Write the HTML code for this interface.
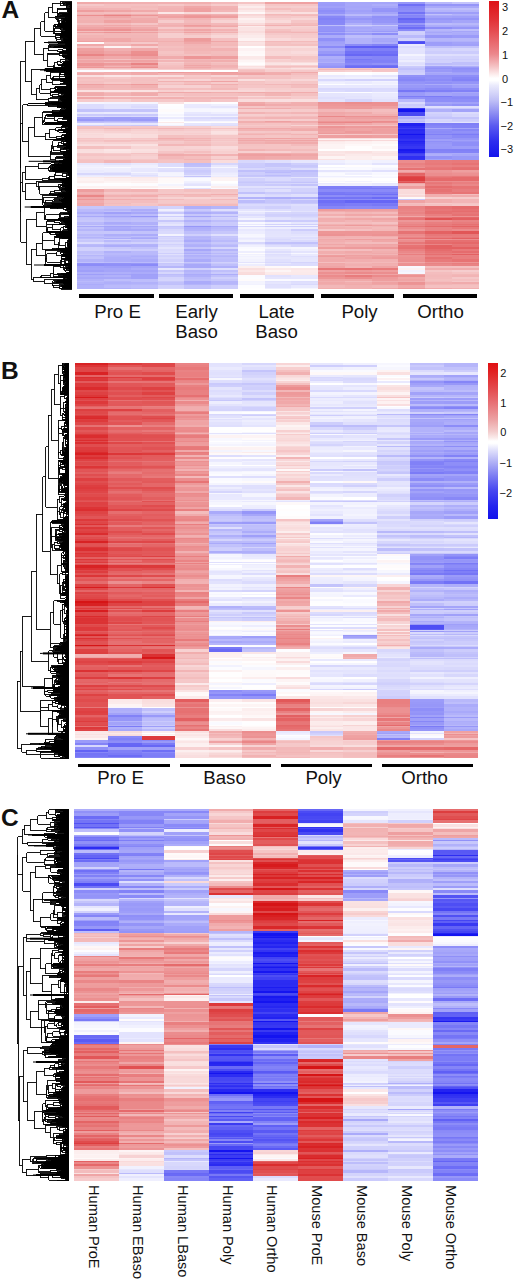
<!DOCTYPE html>
<html><head><meta charset="utf-8"><style>
*{margin:0;padding:0;box-sizing:border-box}
html,body{width:515px;height:1280px;background:#fff;overflow:hidden}
body{position:relative;font-family:"Liberation Sans",sans-serif;color:#111}
.hc{position:absolute}
.t{position:absolute;white-space:nowrap;line-height:1}
.pl{position:absolute;font-weight:bold;font-size:24.5px;line-height:1}
.bar{position:absolute;background:#000}
.lg{position:absolute;font-size:11px;line-height:1}
.vl{position:absolute;writing-mode:vertical-rl;font-size:14.6px;line-height:1;white-space:nowrap}
svg{position:absolute;left:0;top:0}
</style></head><body>
<div class="hc" style="left:77.40px;top:1.7px;width:27.05px;height:287.5px;background:linear-gradient(#f0aaaa 0px 2px,#f5c8c9 2px 4px,#f4bdbe 4px 6px,#f2b3b4 6px 8px,#ee9d9e 8px 10px,#f3bbbb 10px 12px,#f2b3b3 12px 13px,#eb8e8f 13px 14px,#f1b1b2 14px 16px,#f2b3b3 16px 18px,#f1b1b1 18px 21px,#f4c0c1 21px 23px,#f1acad 23px 24px,#f1adae 24px 25px,#efa5a6 25px 27px,#ed9697 27px 29px,#f4bebe 29px 30px,#ee9c9d 30px 31px,#f3bcbc 31px 33px,#f2b4b4 33px 36px,#f1adae 36px 39px,#eea0a1 39px 40px,#fefafa 40px 42px,#f0a8a9 42px 44px,#f5c3c4 44px 46px,#efa1a1 46px 49px,#ed9b9b 49px 52px,#e98485 52px 54px,#efa3a3 54px 57px,#f2b4b5 57px 58px,#efa5a6 58px 60px,#f0acad 60px 61px,#ed9596 61px 64px,#efa3a4 64px 65px,#ed9797 65px 66px,#f6cccc 66px 67px,#f8d5d5 67px 68px,#fbfbff 68px 70px,#f2b3b4 70px 71px,#f0aaab 71px 73px,#f9dfe0 73px 75px,#f4bfc0 75px 77px,#f5c4c4 77px 79px,#f4bfc0 79px 80px,#f4c1c2 80px 82px,#eea0a1 82px 83px,#f1b0b1 83px 86px,#f3b9ba 86px 88px,#fae1e1 88px 90px,#f1aeaf 90px 91px,#f0aaab 91px 94px,#f7d0d0 94px 95px,#f0a7a8 95px 97px,#f6cacb 97px 100px,#f5f5fe 100px 102px,#dcdcfd 102px 106px,#dbdbfd 106px 107px,#c2c2fb 107px 110px,#e7e7fd 110px 112px,#cacafc 112px 114px,#dcdcfd 114px 115px,#a3a3f9 115px 117px,#9797f8 117px 119px,#b6b6fa 119px 120px,#c2c2fb 120px 121px,#ededfe 121px 123px,#d2d2fc 123px 124px,#f4c0c0 124px 126px,#f3bdbd 126px 127px,#f7cfcf 127px 129px,#f8d6d6 129px 131px,#f9dddd 131px 132px,#f8d9d9 132px 133px,#f9dbdc 133px 136px,#f5c4c5 136px 137px,#f6cbcb 137px 138px,#f5c4c5 138px 139px,#f6c9ca 139px 140px,#f7d3d3 140px 142px,#f9ddde 142px 144px,#f4c0c0 144px 147px,#f9dede 147px 149px,#f9dfdf 149px 151px,#f5c8c9 151px 152px,#f5c3c4 152px 154px,#f6cccc 154px 157px,#f5c3c4 157px 158px,#f4c1c1 158px 161px,#e8e8fe 161px 163px,#efeffe 163px 165px,#f3f3fe 165px 166px,#efeffe 166px 168px,#eaeafe 168px 170px,#ebebfe 170px 171px,#d7d7fc 171px 173px,#e9e9fe 173px 174px,#eeeefe 174px 175px,#fbebeb 175px 176px,#fdf3f3 176px 179px,#fcefef 179px 181px,#fefbfb 181px 182px,#fdfdff 182px 184px,#fdf2f2 184px 186px,#fef9f9 186px 187px,#ee9e9f 187px 190px,#f1afb0 190px 192px,#f0a7a8 192px 193px,#ea8788 193px 195px,#f0aaab 195px 197px,#ed9899 197px 198px,#f1adae 198px 201px,#f0a6a7 201px 202px,#f0a8a9 202px 204px,#c6c6fb 204px 207px,#babafb 207px 209px,#b9b9fb 209px 210px,#acacfa 210px 212px,#bdbdfb 212px 214px,#a8a8f9 214px 215px,#c2c2fb 215px 216px,#c5c5fb 216px 218px,#c8c8fb 218px 220px,#b9b9fb 220px 222px,#b6b6fa 222px 223px,#cbcbfc 223px 224px,#a8a8f9 224px 225px,#c1c1fb 225px 227px,#b6b6fa 227px 229px,#c6c6fb 229px 232px,#b9b9fb 232px 234px,#c0c0fb 234px 235px,#b4b4fa 235px 236px,#bcbcfb 236px 237px,#ccccfc 237px 238px,#c7c7fb 238px 240px,#dbdbfd 240px 242px,#bbbbfb 242px 243px,#b7b7fa 243px 245px,#d0d0fc 245px 247px,#d1d1fc 247px 249px,#c0c0fb 249px 251px,#c1c1fb 251px 252px,#c7c7fb 252px 253px,#b6b6fa 253px 254px,#bebefb 254px 255px,#c1c1fb 255px 257px,#b3b3fa 257px 260px,#c1c1fb 260px 261px,#9292f8 261px 262px,#8c8cf8 262px 264px,#a2a2f9 264px 266px,#a5a5f9 266px 268px,#9f9ff9 268px 270px,#afaffa 270px 272px,#9e9ef9 272px 273px,#aeaefa 273px 275px,#a8a8f9 275px 277px,#b2b2fa 277px 279px,#babafb 279px 280px,#b3b3fa 280px 282px,#ababfa 282px 283px,#b1b1fa 283px 287px,#afaffa 287px 287.5px)"></div>
<div class="hc" style="left:104.15px;top:1.7px;width:27.05px;height:287.5px;background:linear-gradient(#f1adae 0px 2px,#f4c0c1 2px 4px,#f4bfbf 4px 6px,#f2b4b5 6px 8px,#efa4a5 8px 10px,#f4bfc0 10px 12px,#efa4a5 12px 13px,#e98384 13px 14px,#efa6a7 14px 16px,#f1b1b2 16px 18px,#efa2a2 18px 21px,#f3bbbc 21px 23px,#f0a7a8 23px 24px,#f2b3b4 24px 25px,#efa1a2 25px 27px,#ec9192 27px 29px,#f3b9b9 29px 30px,#ec9495 30px 31px,#f2b7b8 31px 33px,#f2b7b7 33px 36px,#f0a8a8 36px 39px,#f0a7a8 39px 40px,#f4c3c3 40px 42px,#f2b5b6 42px 44px,#fdf4f4 44px 46px,#f1afb0 46px 49px,#efa5a6 49px 52px,#ed9596 52px 54px,#f0a9aa 54px 57px,#f4c1c2 57px 58px,#efa3a4 58px 60px,#f3b9ba 60px 61px,#ed9a9b 61px 63px,#efa4a5 63px 64px,#f2b3b4 64px 65px,#ee9e9f 65px 66px,#f4bfc0 66px 67px,#f8d4d4 67px 68px,#fdfdff 68px 70px,#f1acad 70px 71px,#f1b0b1 71px 73px,#fbe5e6 73px 75px,#f5c8c8 75px 77px,#f4c2c2 77px 80px,#f6c9c9 80px 82px,#f0a7a7 82px 83px,#f2b7b7 83px 86px,#f3b9b9 86px 88px,#fae3e4 88px 90px,#f4bdbe 90px 91px,#f2b2b3 91px 94px,#f8d8d8 94px 95px,#f2b3b4 95px 97px,#f7cfcf 97px 100px,#f2f2fe 100px 102px,#e3e3fd 102px 104px,#e4e4fd 104px 107px,#c4c4fb 107px 110px,#eaeafe 110px 112px,#c7c7fb 112px 114px,#d9d9fd 114px 115px,#9e9ef9 115px 119px,#b7b7fa 119px 120px,#c9c9fc 120px 121px,#e6e6fd 121px 123px,#ccccfc 123px 124px,#f5c6c7 124px 126px,#f2b3b4 126px 127px,#f6c9c9 127px 129px,#f7d2d2 129px 131px,#f9dbdc 131px 132px,#fae0e0 132px 133px,#f9dfdf 133px 136px,#f6c9c9 136px 137px,#f7cfcf 137px 138px,#f4bebe 138px 139px,#f4c1c2 139px 140px,#f7d1d1 140px 142px,#f9dedf 142px 144px,#f5c5c6 144px 147px,#fbe6e6 147px 149px,#fae3e3 149px 151px,#f6cdcd 151px 152px,#f5c4c5 152px 154px,#f6cece 154px 157px,#f5c7c7 157px 158px,#f2b5b6 158px 161px,#e1e1fd 161px 163px,#ededfe 163px 165px,#f9f9ff 165px 166px,#eeeefe 166px 168px,#ededfe 168px 170px,#e4e4fd 170px 171px,#d8d8fc 171px 173px,#e5e5fd 173px 174px,#f0f0fe 174px 175px,#fae4e4 175px 176px,#fcefef 176px 179px,#fdf4f4 179px 180px,#fdf5f5 180px 181px,#fffefe 181px 182px,#fdfdff 182px 184px,#fdf2f2 184px 186px,#fcf0f0 186px 187px,#f2b5b6 187px 190px,#f5c7c8 190px 192px,#f4bebf 192px 193px,#f1b0b1 193px 195px,#f4c1c1 195px 197px,#f1acad 197px 198px,#f4bfbf 198px 201px,#f3babb 201px 202px,#f4c1c1 202px 204px,#c2c2fb 204px 207px,#b5b5fa 207px 209px,#c0c0fb 209px 210px,#a0a0f9 210px 212px,#b5b5fa 212px 214px,#a3a3f9 214px 215px,#b5b5fa 215px 216px,#bcbcfb 216px 218px,#bfbffb 218px 220px,#aaaafa 220px 222px,#b0b0fa 222px 223px,#c0c0fb 223px 224px,#a3a3f9 224px 225px,#acacfa 225px 227px,#a7a7f9 227px 229px,#c7c7fb 229px 232px,#aeaefa 232px 234px,#b7b7fa 234px 235px,#bcbcfb 235px 236px,#acacfa 236px 237px,#d1d1fc 237px 238px,#b9b9fb 238px 240px,#cdcdfc 240px 242px,#b8b8fa 242px 243px,#acacfa 243px 245px,#c8c8fb 245px 247px,#cfcffc 247px 249px,#b1b1fa 249px 251px,#b9b9fb 251px 253px,#b4b4fa 253px 254px,#b2b2fa 254px 255px,#aeaefa 255px 257px,#adadfa 257px 260px,#bcbcfb 260px 261px,#9393f8 261px 262px,#9090f8 262px 264px,#9e9ef9 264px 266px,#a6a6f9 266px 268px,#a4a4f9 268px 270px,#afaffa 270px 272px,#a3a3f9 272px 273px,#b1b1fa 273px 275px,#a8a8f9 275px 277px,#bebefb 277px 279px,#b4b4fa 279px 280px,#afaffa 280px 282px,#b4b4fa 282px 283px,#babafb 283px 286px,#b0b0fa 286px 287px,#aaaafa 287px 287.5px)"></div>
<div class="hc" style="left:130.89px;top:1.7px;width:27.05px;height:287.5px;background:linear-gradient(#f1b0b1 0px 2px,#f4c0c1 2px 4px,#f3bbbb 4px 6px,#f4bebe 6px 8px,#f0a9aa 8px 10px,#f5c5c5 10px 12px,#f1aeaf 12px 13px,#ec9596 13px 14px,#f2b4b4 14px 16px,#f0abac 16px 18px,#f0a9a9 18px 21px,#f5c5c6 21px 23px,#f1b0b1 23px 24px,#f3b7b8 24px 25px,#f0aaab 25px 27px,#ee9fa0 27px 29px,#f3baba 29px 30px,#eea0a1 30px 31px,#f3b8b8 31px 33px,#f2b6b7 33px 36px,#f2b3b3 36px 39px,#f1acad 39px 40px,#f5c8c9 40px 42px,#f0a7a8 42px 44px,#f7d0d1 44px 46px,#f0a8a9 46px 49px,#ec9090 49px 52px,#eb8c8d 52px 54px,#efa1a2 54px 57px,#f3b9b9 57px 58px,#efa2a3 58px 60px,#f1adae 60px 61px,#e98384 61px 63px,#efa1a1 63px 64px,#ee9d9e 64px 65px,#eb8f8f 65px 66px,#f4c2c3 66px 67px,#f7d3d4 67px 68px,#fbfbff 68px 70px,#f0a6a7 70px 71px,#f0aaab 71px 73px,#f9dfdf 73px 75px,#f4c0c1 75px 79px,#f4c2c2 79px 80px,#f4c1c1 80px 82px,#ee9b9c 82px 83px,#f1b1b1 83px 86px,#f3b8b9 86px 88px,#fae2e2 88px 90px,#f1b0b0 90px 91px,#f0abac 91px 94px,#f8d6d7 94px 95px,#f2b2b3 95px 97px,#f5c5c5 97px 100px,#f5f5fe 100px 102px,#dfdffd 102px 104px,#dbdbfd 104px 106px,#e4e4fd 106px 107px,#c4c4fb 107px 110px,#e7e7fd 110px 112px,#c9c9fc 112px 114px,#dadafd 114px 115px,#a1a1f9 115px 117px,#9999f8 117px 119px,#b4b4fa 119px 120px,#c2c2fb 120px 121px,#e7e7fd 121px 123px,#c8c8fb 123px 124px,#f5c5c5 124px 126px,#f3babb 126px 127px,#f7cfcf 127px 129px,#f8d6d6 129px 131px,#f8d5d5 131px 132px,#f9dddd 132px 133px,#f9dcdc 133px 136px,#f5c6c7 136px 137px,#f6cbcc 137px 138px,#f4bdbe 138px 139px,#f5c8c8 139px 140px,#f7d0d0 140px 142px,#fae2e2 142px 144px,#f8d6d6 144px 147px,#fae1e1 147px 149px,#f9dede 149px 151px,#f4c2c3 151px 152px,#f6cccc 152px 154px,#f7d1d2 154px 157px,#f5c6c6 157px 158px,#f4bebe 158px 161px,#e9e9fe 161px 163px,#f0f0fe 163px 165px,#f1f1fe 165px 166px,#e8e8fe 166px 168px,#e7e7fd 168px 170px,#f4f4fe 170px 171px,#e7e7fd 171px 173px,#dfdffd 173px 174px,#e5e5fd 174px 175px,#fbe8e8 175px 176px,#fceded 176px 179px,#fdf3f3 179px 180px,#fcefef 180px 181px,#fefcfc 181px 182px,#fcfcff 182px 184px,#fcf0f0 184px 186px,#fefbfb 186px 187px,#f2b2b3 187px 190px,#f5c6c7 190px 192px,#f3babb 192px 193px,#f1acad 193px 195px,#f5c4c5 195px 197px,#f1b0b1 197px 198px,#f4bdbe 198px 201px,#f5c6c7 201px 202px,#f5c4c5 202px 204px,#c5c5fb 204px 207px,#acacfa 207px 209px,#b6b6fa 209px 210px,#a7a7f9 210px 212px,#bcbcfb 212px 214px,#9696f8 214px 215px,#b7b7fa 215px 216px,#bfbffb 216px 218px,#c1c1fb 218px 220px,#b0b0fa 220px 222px,#afaffa 222px 223px,#c3c3fb 223px 224px,#a6a6f9 224px 225px,#b3b3fa 225px 227px,#a8a8f9 227px 229px,#c2c2fb 229px 232px,#ababfa 232px 234px,#bfbffb 234px 235px,#afaffa 235px 236px,#a8a8f9 236px 237px,#c7c7fb 237px 238px,#c0c0fb 238px 240px,#d1d1fc 240px 242px,#b3b3fa 242px 243px,#b1b1fa 243px 245px,#c2c2fb 245px 247px,#cdcdfc 247px 249px,#b9b9fb 249px 253px,#b1b1fa 253px 254px,#acacfa 254px 255px,#b2b2fa 255px 257px,#aaaafa 257px 260px,#babafb 260px 261px,#9797f8 261px 262px,#8a8af8 262px 264px,#a4a4f9 264px 266px,#acacfa 266px 268px,#a3a3f9 268px 270px,#ababfa 270px 272px,#9f9ff9 272px 273px,#a1a1f9 273px 277px,#bdbdfb 277px 280px,#b1b1fa 280px 282px,#b6b6fa 282px 283px,#bdbdfb 283px 286px,#b7b7fa 286px 287px,#a0a0f9 287px 287.5px)"></div>
<div class="hc" style="left:157.64px;top:1.7px;width:27.05px;height:287.5px;background:linear-gradient(#f1b0b1 0px 2px,#f5c7c7 2px 4px,#f2b6b7 4px 6px,#f2b3b4 6px 8px,#f2b2b3 8px 10px,#fbe7e7 10px 12px,#f1acad 12px 13px,#f0a8a9 13px 14px,#efa1a2 14px 16px,#f3babb 16px 18px,#f6cccc 18px 21px,#f2b5b6 21px 23px,#f1aeaf 23px 24px,#f2b2b3 24px 25px,#f6c9ca 25px 27px,#f2b4b4 27px 29px,#f4c2c2 29px 30px,#f2b6b7 30px 31px,#f6cecf 31px 33px,#f6cece 33px 36px,#f3b8b9 36px 39px,#f1afaf 39px 40px,#f3b9b9 40px 42px,#f3b9ba 42px 44px,#f4c0c0 44px 46px,#f3bbbc 46px 49px,#f5c4c4 49px 52px,#f4c0c0 52px 54px,#f0abac 54px 57px,#f5c8c9 57px 58px,#f2b5b6 58px 60px,#f6cece 60px 61px,#f5c5c6 61px 63px,#f4c0c0 63px 64px,#f4bebf 64px 65px,#f3bcbc 65px 66px,#f3bbbc 66px 67px,#f6cdcd 67px 68px,#fdfdff 68px 70px,#ed999a 70px 71px,#f2b3b4 71px 73px,#f9dcdc 73px 75px,#f3bbbb 75px 77px,#f7d0d0 77px 79px,#f1b1b1 79px 80px,#f5c8c9 80px 82px,#f4bfbf 82px 83px,#f7d1d2 83px 86px,#f4bdbe 86px 88px,#f7d0d0 88px 90px,#f0a8a9 90px 91px,#f4c3c3 91px 94px,#f7cfd0 94px 95px,#f1b0b0 95px 97px,#f5c7c8 97px 100px,#fae3e3 100px 102px,#fefeff 102px 104px,#fdfdff 104px 107px,#fefbfb 107px 110px,#fcfcff 110px 112px,#f5f5fe 112px 114px,#fbfbff 114px 115px,#ebebfe 115px 117px,#fafaff 117px 119px,#fffefe 119px 120px,#fbeaea 120px 121px,#fafaff 121px 123px,#f1f1fe 123px 124px,#f6cdcd 124px 126px,#f2b5b6 126px 127px,#f5c7c8 127px 129px,#f7d2d2 129px 132px,#f7d3d3 132px 133px,#f4c0c0 133px 136px,#f1acad 136px 137px,#f3b8b9 137px 138px,#f3bdbd 138px 139px,#f6cbcc 139px 140px,#f5c8c9 140px 142px,#f3b7b8 142px 144px,#f7d2d2 144px 147px,#f7d3d3 147px 149px,#f5c5c6 149px 151px,#f3bdbe 151px 152px,#f0aaab 152px 154px,#f3b8b9 154px 157px,#f4bfbf 157px 158px,#f5c3c4 158px 161px,#dcdcfd 161px 163px,#ddddfd 163px 165px,#fcfcff 165px 166px,#e1e1fd 166px 168px,#ddddfd 168px 170px,#f2f2fe 170px 171px,#f4f4fe 171px 173px,#f5f5fe 173px 174px,#eaeafe 174px 175px,#fdf1f1 175px 176px,#fef9f9 176px 179px,#fefafa 179px 181px,#fcfcff 181px 182px,#f4f4fe 182px 184px,#fdf5f6 184px 186px,#fdfdff 186px 187px,#f5c6c6 187px 190px,#f5c7c8 190px 192px,#f2b3b4 192px 193px,#f4c3c3 193px 195px,#f7d2d2 195px 197px,#f3bcbd 197px 198px,#f5c9c9 198px 201px,#f5c6c7 201px 202px,#f3b9ba 202px 204px,#d3d3fc 204px 207px,#f0f0fe 207px 209px,#dfdffd 209px 210px,#c9c9fc 210px 212px,#ececfe 212px 214px,#cdcdfc 214px 215px,#e9e9fe 215px 216px,#e6e6fd 216px 218px,#c7c7fb 218px 220px,#dedefd 220px 222px,#e6e6fd 222px 223px,#e4e4fd 223px 224px,#c4c4fb 224px 225px,#cacafc 225px 227px,#d6d6fc 227px 229px,#dadafd 229px 232px,#f3f3fe 232px 234px,#cdcdfc 234px 235px,#d8d8fd 235px 236px,#d5d5fc 236px 237px,#dadafd 237px 238px,#d2d2fc 238px 240px,#dedefd 240px 242px,#d1d1fc 242px 243px,#d9d9fd 243px 245px,#e4e4fd 245px 247px,#dadafd 247px 249px,#ddddfd 249px 251px,#cecefc 251px 252px,#e0e0fd 252px 253px,#d3d3fc 253px 254px,#d1d1fc 254px 255px,#d8d8fc 255px 257px,#d0d0fc 257px 260px,#dfdffd 260px 261px,#c6c6fb 261px 262px,#c9c9fc 262px 264px,#b6b6fa 264px 266px,#e7e7fd 266px 268px,#c7c7fb 268px 270px,#d6d6fc 270px 272px,#bdbdfb 272px 273px,#c3c3fb 273px 275px,#d3d3fc 275px 277px,#d5d5fc 277px 279px,#c8c8fb 279px 280px,#c1c1fb 280px 282px,#c0c0fb 282px 283px,#d0d0fc 283px 286px,#d4d4fc 286px 287px,#c5c5fb 287px 287.5px)"></div>
<div class="hc" style="left:184.39px;top:1.7px;width:27.05px;height:287.5px;background:linear-gradient(#f1afaf 0px 2px,#f4bfc0 2px 4px,#f0a7a8 4px 6px,#efa1a1 6px 8px,#eea0a1 8px 10px,#f8d9d9 10px 12px,#f1adad 12px 13px,#ee9b9c 13px 14px,#ed9697 14px 16px,#f2b4b5 16px 18px,#f3bbbc 18px 21px,#f2b3b4 21px 23px,#ee9b9c 23px 24px,#efa2a3 24px 25px,#f4bfbf 25px 27px,#efa5a6 27px 29px,#f3b8b8 29px 30px,#efa2a3 30px 31px,#f4c0c0 31px 33px,#f6cccc 33px 36px,#ed9b9b 36px 39px,#ee9fa0 39px 40px,#f0a8a9 40px 42px,#f2b4b5 42px 44px,#f2b7b7 44px 46px,#f2b4b4 46px 49px,#f3b9b9 49px 52px,#f4c1c1 52px 54px,#ed9697 54px 57px,#f3b8b9 57px 58px,#f1b1b2 58px 60px,#f3babb 60px 61px,#f2b4b4 61px 63px,#efa5a6 63px 64px,#f1b1b2 64px 65px,#f0a8a9 65px 66px,#f2b5b5 66px 67px,#f5c4c5 67px 68px,#ffffff 68px 70px,#ee9d9e 70px 71px,#f1afaf 71px 73px,#f6c9c9 73px 75px,#f5c3c3 75px 77px,#f8d4d5 77px 79px,#f1adae 79px 80px,#f4bfbf 80px 82px,#f2b2b3 82px 83px,#f7d1d2 83px 86px,#f4bfbf 86px 88px,#f8d6d6 88px 90px,#f0a9aa 90px 91px,#f4bebf 91px 94px,#f5c7c7 94px 95px,#f2b7b7 95px 97px,#f4bdbe 97px 100px,#fefbfb 100px 102px,#eaeafe 102px 104px,#e9e9fe 104px 106px,#f4f4fe 106px 107px,#f6f6fe 107px 110px,#e8e8fe 110px 112px,#e2e2fd 112px 114px,#f1f1fe 114px 115px,#dadafd 115px 117px,#e1e1fd 117px 119px,#f6f6fe 119px 120px,#ffffff 120px 121px,#e6e6fd 121px 123px,#e0e0fd 123px 124px,#f7cfcf 124px 126px,#f3bdbd 126px 127px,#f6cbcc 127px 129px,#f7d3d4 129px 131px,#f7cecf 131px 132px,#f7d2d3 132px 133px,#f4c2c3 133px 136px,#f2b3b4 136px 137px,#f4bfbf 137px 138px,#f2b5b6 138px 139px,#f5c4c5 139px 140px,#f4c0c0 140px 142px,#f3b9ba 142px 144px,#f8d4d5 144px 147px,#f6cecf 147px 149px,#f4bfc0 149px 151px,#f6caca 151px 152px,#f1acad 152px 154px,#f4bebe 154px 157px,#f2b3b4 157px 158px,#f4bfbf 158px 161px,#bdbdfb 161px 163px,#c0c0fb 163px 165px,#e2e2fd 165px 166px,#d1d1fc 166px 168px,#cacafc 168px 170px,#cdcdfc 170px 171px,#d1d1fc 171px 173px,#e4e4fd 173px 174px,#c4c4fb 174px 175px,#f0f0fe 175px 176px,#fafaff 176px 179px,#f1f1fe 179px 180px,#efeffe 180px 181px,#e8e8fe 181px 182px,#e3e3fd 182px 184px,#fcfcff 184px 186px,#e2e2fd 186px 187px,#f4bfbf 187px 190px,#f6caca 190px 192px,#f2b6b6 192px 193px,#f3b9b9 193px 195px,#f8d5d5 195px 197px,#f5c8c9 197px 198px,#f5c7c7 198px 201px,#f5c5c5 201px 202px,#f3b9b9 202px 204px,#afaffa 204px 207px,#c9c9fc 207px 209px,#bebefb 209px 210px,#acacfa 210px 212px,#c6c6fb 212px 214px,#a4a4f9 214px 215px,#c5c5fb 215px 216px,#c8c8fc 216px 218px,#b1b1fa 218px 220px,#c2c2fb 220px 222px,#c6c6fb 222px 223px,#c2c2fb 223px 224px,#9797f8 224px 225px,#adadfa 225px 227px,#b1b1fa 227px 229px,#bfbffb 229px 232px,#cfcffc 232px 234px,#b8b8fa 234px 235px,#b4b4fa 235px 236px,#b7b7fa 236px 237px,#b3b3fa 237px 238px,#aaaafa 238px 240px,#bcbcfb 240px 242px,#b2b2fa 242px 243px,#afaffa 243px 245px,#c5c5fb 245px 247px,#a6a6f9 247px 249px,#b8b8fa 249px 251px,#acacfa 251px 252px,#c0c0fb 252px 253px,#b0b0fa 253px 254px,#b2b2fa 254px 255px,#b8b8fa 255px 257px,#ababfa 257px 260px,#c7c7fb 260px 261px,#b7b7fa 261px 262px,#a8a8f9 262px 266px,#d0d0fc 266px 268px,#b3b3fa 268px 270px,#b9b9fb 270px 272px,#ababfa 272px 273px,#b0b0fa 273px 275px,#bbbbfb 275px 277px,#c0c0fb 277px 279px,#ababfa 279px 282px,#b3b3fa 282px 283px,#c3c3fb 283px 286px,#c1c1fb 286px 287px,#b8b8fa 287px 287.5px)"></div>
<div class="hc" style="left:211.13px;top:1.7px;width:27.05px;height:287.5px;background:linear-gradient(#f3b9ba 0px 2px,#f6cbcb 2px 4px,#f2b3b4 4px 6px,#f1b1b1 6px 8px,#f2b6b7 8px 10px,#f9dfdf 10px 12px,#f1b0b1 12px 13px,#efa6a7 13px 14px,#ee9e9f 14px 16px,#f5c6c6 16px 18px,#f7d3d3 18px 21px,#f3b8b9 21px 23px,#f1afaf 23px 24px,#f0a8a9 24px 25px,#f6c9c9 25px 27px,#f2b2b3 27px 29px,#f4bfc0 29px 30px,#f1b0b0 30px 31px,#f6cdcd 31px 33px,#f8d7d7 33px 36px,#f4bfc0 36px 39px,#f0a7a8 39px 40px,#f3baba 40px 42px,#f3b8b8 42px 44px,#f5c3c4 44px 46px,#f2b2b3 46px 49px,#f3bdbd 49px 52px,#f3bbbc 52px 54px,#ee9e9f 54px 57px,#f3bcbc 57px 58px,#f1aeae 58px 60px,#f4c3c3 60px 61px,#f3bdbd 61px 63px,#f1b1b2 63px 65px,#f2b4b5 65px 66px,#f3bdbd 66px 67px,#f5c6c7 67px 68px,#ffffff 68px 70px,#ee9b9c 70px 71px,#efa3a3 71px 73px,#f7d3d4 73px 75px,#f3bdbd 75px 77px,#f6caca 77px 79px,#efa3a4 79px 80px,#f6cbcb 80px 82px,#f1aeaf 82px 83px,#f4bfbf 83px 86px,#f3b8b8 86px 88px,#f8d6d6 88px 90px,#f1aeae 90px 91px,#f4bfbf 91px 94px,#f6c9ca 94px 95px,#f2b3b4 95px 97px,#f5c6c7 97px 100px,#fefeff 100px 102px,#efeffe 102px 104px,#e5e5fd 104px 106px,#f3f3fe 106px 107px,#f7f7fe 107px 110px,#eeeefe 110px 112px,#e0e0fd 112px 114px,#f1f1fe 114px 115px,#d7d7fc 115px 117px,#e4e4fd 117px 119px,#f6f6fe 119px 120px,#fefbfb 120px 121px,#e2e2fd 121px 123px,#ddddfd 123px 124px,#f9dbdb 124px 126px,#f5c3c3 126px 127px,#f8d5d5 127px 129px,#fae2e2 129px 132px,#f9dbdb 132px 133px,#f5c8c8 133px 136px,#f4c0c1 136px 137px,#f6c9ca 137px 138px,#f5c5c6 138px 139px,#f6cece 139px 140px,#f6c9ca 140px 142px,#f5c7c7 142px 144px,#f9dbdc 144px 147px,#f8d5d5 147px 149px,#f7cfcf 149px 151px,#f7d1d2 151px 152px,#f2b2b3 152px 154px,#f7cfcf 154px 157px,#f4c1c2 157px 158px,#f9dcdc 158px 161px,#d6d6fc 161px 163px,#e7e7fd 163px 165px,#f6f6fe 165px 166px,#e5e5fd 166px 168px,#e4e4fd 168px 170px,#e8e8fe 170px 171px,#ededfe 171px 173px,#f1f1fe 173px 174px,#ececfe 174px 175px,#fcf0f0 175px 176px,#fdf4f4 176px 179px,#ffffff 179px 181px,#fcfcff 181px 182px,#f6f6fe 182px 184px,#fceeee 184px 186px,#f9f9ff 186px 187px,#f4c3c3 187px 190px,#f5c6c7 190px 192px,#f1adae 192px 193px,#f4c2c2 193px 195px,#f7d1d2 195px 197px,#f3b9ba 197px 198px,#f5c9c9 198px 201px,#f5c3c4 201px 202px,#f3babb 202px 204px,#b5b5fa 204px 207px,#dfdffd 207px 209px,#c6c6fb 209px 210px,#b2b2fa 210px 212px,#d1d1fc 212px 214px,#b7b7fa 214px 215px,#d2d2fc 215px 216px,#cfcffc 216px 218px,#bdbdfb 218px 220px,#cacafc 220px 222px,#c9c9fc 222px 223px,#cbcbfc 223px 224px,#a9a9fa 224px 225px,#b7b7fa 225px 227px,#bcbcfb 227px 229px,#c7c7fb 229px 232px,#e0e0fd 232px 234px,#c4c4fb 234px 235px,#c6c6fb 235px 236px,#c2c2fb 236px 238px,#babafb 238px 240px,#c8c8fb 240px 242px,#bfbffb 242px 243px,#b8b8fa 243px 245px,#d6d6fc 245px 247px,#b5b5fa 247px 249px,#c5c5fb 249px 251px,#b8b8fa 251px 252px,#c6c6fb 252px 253px,#b9b9fb 253px 254px,#b5b5fa 254px 255px,#bfbffb 255px 257px,#bcbcfb 257px 260px,#d1d1fc 260px 261px,#c8c8fb 261px 262px,#bfbffb 262px 264px,#b0b0fa 264px 266px,#dfdffd 266px 268px,#bfbffb 268px 270px,#cacafc 270px 272px,#adadfa 272px 273px,#c0c0fb 273px 275px,#cfcffc 275px 277px,#c7c7fb 277px 279px,#b6b6fa 279px 282px,#b9b9fb 282px 283px,#cecefc 283px 287px,#c8c8fb 287px 287.5px)"></div>
<div class="hc" style="left:237.88px;top:1.7px;width:27.05px;height:287.5px;background:linear-gradient(#f5c4c4 0px 2px,#fae1e1 2px 4px,#fceded 4px 6px,#fae0e0 6px 8px,#fbe9e9 8px 10px,#fef8f8 10px 12px,#f8d4d5 12px 13px,#f8d9d9 13px 14px,#fae1e1 14px 16px,#fdf1f1 16px 18px,#fbebeb 18px 21px,#f9dcdc 21px 23px,#f5c8c8 23px 24px,#fcecec 24px 25px,#fae3e3 25px 29px,#f9dcdc 29px 30px,#f9dddd 30px 31px,#fbe6e6 31px 33px,#fbebeb 33px 36px,#fdf3f3 36px 39px,#f8d9d9 39px 40px,#fae4e4 40px 42px,#fae1e1 42px 44px,#fffefe 44px 46px,#fdf2f3 46px 49px,#fef8f8 49px 52px,#fefafa 52px 54px,#fbe9e9 54px 57px,#fceeee 57px 58px,#fdf5f5 58px 60px,#fefafa 60px 61px,#fffdfd 61px 63px,#fdf3f3 63px 64px,#fae0e0 64px 65px,#fbe6e7 65px 66px,#f9dfdf 66px 67px,#f5c8c8 67px 68px,#f4c0c0 68px 70px,#f1acad 70px 71px,#efa3a4 71px 73px,#f5c5c6 73px 75px,#f4bfc0 75px 77px,#f9dfdf 77px 79px,#f4c2c2 79px 80px,#f5c5c5 80px 82px,#f4c0c0 82px 83px,#f5c5c6 83px 86px,#f7d2d3 86px 88px,#f8d8d8 88px 90px,#f0aaaa 90px 91px,#f3bdbd 91px 94px,#f8d8d8 94px 95px,#f5c6c7 95px 97px,#f9dcdc 97px 100px,#f0a9a9 100px 102px,#efa2a3 102px 104px,#f5c6c6 104px 106px,#f1adae 106px 107px,#f6cdcd 107px 110px,#f2b3b4 110px 112px,#f6cece 112px 114px,#f5c5c6 114px 115px,#f3b8b8 115px 117px,#f6cacb 117px 119px,#f1afaf 119px 121px,#f4c0c0 121px 123px,#f6c9c9 123px 124px,#f4c1c2 124px 126px,#f0a7a7 126px 127px,#f2b3b3 127px 129px,#f5c8c9 129px 131px,#f3bbbb 131px 132px,#f2b2b2 132px 133px,#f5c3c4 133px 136px,#f0a8a9 136px 137px,#f2b4b5 137px 138px,#f0a6a7 138px 139px,#f2b6b7 139px 140px,#f1b1b2 140px 142px,#f4c2c2 142px 144px,#f5c4c4 144px 147px,#f2b4b4 147px 149px,#f7d0d0 149px 151px,#f0aaaa 151px 152px,#ee9fa0 152px 154px,#f0a7a8 154px 157px,#f2b2b3 157px 158px,#d8d8fc 158px 161px,#ccccfc 161px 163px,#cbcbfc 163px 165px,#c9c9fc 165px 166px,#d8d8fd 166px 168px,#bfbffb 168px 170px,#cecefc 170px 171px,#cdcdfc 171px 173px,#c4c4fb 173px 174px,#c6c6fb 174px 175px,#e1e1fd 175px 176px,#d2d2fc 176px 179px,#ccccfc 179px 180px,#c7c7fb 180px 181px,#cecefc 181px 182px,#cdcdfc 182px 184px,#e1e1fd 184px 186px,#d5d5fc 186px 187px,#d8d8fd 187px 190px,#c1c1fb 190px 192px,#e0e0fd 192px 193px,#e1e1fd 193px 195px,#b3b3fa 195px 197px,#dedefd 197px 198px,#bcbcfb 198px 201px,#cdcdfc 201px 202px,#dadafd 202px 204px,#d4d4fc 204px 207px,#e4e4fd 207px 209px,#f2f2fe 209px 210px,#e7e7fd 210px 212px,#dbdbfd 212px 214px,#e7e7fd 214px 215px,#e4e4fd 215px 216px,#f4f4fe 216px 218px,#d7d7fc 218px 220px,#f9f9ff 220px 222px,#e9e9fe 222px 223px,#fcfcff 223px 224px,#d9d9fd 224px 225px,#f4f4fe 225px 227px,#e8e8fe 227px 229px,#ededfe 229px 232px,#f6f6fe 232px 234px,#f7f7ff 234px 235px,#f1f1fe 235px 236px,#e9e9fe 236px 237px,#ededfe 237px 238px,#f3f3fe 238px 240px,#d7d7fc 240px 242px,#e7e7fd 242px 243px,#f0f0fe 243px 245px,#fafaff 245px 247px,#fcfcff 247px 249px,#eeeefe 249px 251px,#fffdfd 251px 252px,#f1f1fe 252px 253px,#f7f7fe 253px 254px,#f1f1fe 254px 255px,#f5f5fe 255px 257px,#f2f2fe 257px 260px,#e3e3fd 260px 261px,#f9f9ff 261px 262px,#ededfe 262px 264px,#fcf0f0 264px 266px,#f9dede 266px 268px,#fbe6e6 268px 270px,#f9dcdc 270px 272px,#f8dada 272px 273px,#fbfbff 273px 275px,#fcfcff 275px 277px,#fefbfb 277px 279px,#f3f3fe 279px 280px,#f4f4fe 280px 282px,#f2f2fe 282px 283px,#fdfdff 283px 286px,#fffefe 286px 287px,#ffffff 287px 287.5px)"></div>
<div class="hc" style="left:264.63px;top:1.7px;width:27.05px;height:287.5px;background:linear-gradient(#efa3a3 0px 2px,#f5c6c6 2px 4px,#f6cdcd 4px 6px,#f4bebe 6px 8px,#f6cece 8px 10px,#f9dcdc 10px 12px,#f3b8b8 12px 13px,#f4bfc0 13px 14px,#f5c7c8 14px 16px,#f7d2d2 16px 18px,#f9dada 18px 21px,#f5c4c4 21px 23px,#f1aeaf 23px 24px,#f7cfd0 24px 25px,#f7d2d2 25px 27px,#f4c2c2 27px 29px,#f3babb 29px 30px,#f3b9ba 30px 31px,#f5c8c9 31px 33px,#f7cfcf 33px 36px,#f9dadb 36px 39px,#f3b9ba 39px 40px,#f5c3c3 40px 42px,#f4c1c1 42px 44px,#f9dede 44px 46px,#f7d2d2 46px 49px,#f8d7d7 49px 52px,#f8d6d6 52px 54px,#f4bdbe 54px 57px,#f7d3d3 57px 58px,#f7cfcf 58px 60px,#f9dede 60px 61px,#fae4e4 61px 63px,#f6cece 63px 64px,#f4bfc0 64px 65px,#f5c4c4 65px 66px,#f9dbdb 66px 67px,#f7d1d1 67px 68px,#f6cece 68px 70px,#f1aeaf 70px 71px,#f1adad 71px 73px,#f5c4c4 73px 75px,#f4c2c3 75px 77px,#f7d3d3 77px 79px,#f6cbcb 79px 80px,#f6cacb 80px 82px,#f2b7b8 82px 83px,#f5c6c6 83px 86px,#f6cdcd 86px 88px,#f7d1d2 88px 90px,#f1adae 90px 91px,#f2b4b4 91px 94px,#f7d0d1 94px 95px,#f5c3c3 95px 97px,#f9dfe0 97px 100px,#f2b7b7 100px 102px,#f0abac 102px 104px,#f4bebf 104px 106px,#f0acac 106px 107px,#f6cdce 107px 110px,#f3baba 110px 112px,#f6cacb 112px 114px,#f4c1c1 114px 115px,#f2b3b4 115px 117px,#f6cccc 117px 119px,#eea0a1 119px 120px,#f1acad 120px 121px,#f5c3c3 121px 123px,#f5c8c8 123px 124px,#f4c0c0 124px 126px,#f0a9aa 126px 127px,#f2b3b4 127px 129px,#f5c6c7 129px 131px,#f3b9b9 131px 132px,#f3baba 132px 133px,#f5c5c5 133px 136px,#efa2a2 136px 137px,#f4bebe 137px 138px,#efa6a7 138px 139px,#f1b1b1 139px 140px,#f0acac 140px 142px,#f5c4c4 142px 147px,#f3baba 147px 149px,#f7d1d2 149px 151px,#f1aeaf 151px 152px,#ee9e9f 152px 154px,#f0abac 154px 157px,#f2b6b7 157px 158px,#dfdffd 158px 161px,#c4c4fb 161px 163px,#c5c5fb 163px 165px,#d3d3fc 165px 166px,#cfcffc 166px 168px,#bfbffb 168px 170px,#babafb 170px 171px,#c9c9fc 171px 173px,#bcbcfb 173px 174px,#c7c7fb 174px 175px,#dbdbfd 175px 176px,#dadafd 176px 179px,#cecefc 179px 180px,#c6c6fb 180px 181px,#d5d5fc 181px 182px,#c9c9fc 182px 184px,#e2e2fd 184px 186px,#cfcffc 186px 187px,#dfdffd 187px 190px,#cbcbfc 190px 192px,#d7d7fc 192px 193px,#dcdcfd 193px 195px,#adadfa 195px 197px,#cbcbfc 197px 198px,#c5c5fb 198px 201px,#ccccfc 201px 202px,#dadafd 202px 204px,#cfcffc 204px 207px,#ddddfd 207px 209px,#f1f1fe 209px 210px,#d7d7fc 210px 212px,#d0d0fc 212px 214px,#d2d2fc 214px 215px,#e1e1fd 215px 216px,#e3e3fd 216px 218px,#c9c9fc 218px 220px,#f0f0fe 220px 222px,#d3d3fc 222px 223px,#f5f5fe 223px 224px,#cdcdfc 224px 225px,#eeeefe 225px 227px,#dfdffd 227px 229px,#e3e3fd 229px 232px,#e4e4fd 232px 234px,#e5e5fd 234px 235px,#e0e0fd 235px 236px,#dedefd 236px 237px,#d8d8fd 237px 238px,#dcdcfd 238px 240px,#c2c2fb 240px 242px,#d3d3fc 242px 243px,#dedefd 243px 245px,#f3f3fe 245px 247px,#e7e7fd 247px 249px,#ddddfd 249px 251px,#ebebfe 251px 252px,#dedefd 252px 253px,#e1e1fd 253px 254px,#e2e2fd 254px 255px,#e6e6fd 255px 257px,#e0e0fd 257px 260px,#d8d8fd 260px 261px,#e6e6fd 261px 262px,#ddddfd 262px 264px,#fef9f9 264px 266px,#fbeaea 266px 268px,#fdf5f5 268px 270px,#fcebeb 270px 272px,#fbe8e8 272px 273px,#e1e1fd 273px 275px,#e5e5fd 275px 277px,#fafaff 277px 279px,#e2e2fd 279px 280px,#e6e6fd 280px 282px,#dfdffd 282px 283px,#e1e1fd 283px 286px,#ededfe 286px 287px,#f5f5fe 287px 287.5px)"></div>
<div class="hc" style="left:291.37px;top:1.7px;width:27.05px;height:287.5px;background:linear-gradient(#efa1a2 0px 2px,#f5c5c5 2px 4px,#f6cecf 4px 6px,#f5c5c5 6px 8px,#f5c4c4 8px 10px,#fae0e0 10px 12px,#f3bdbd 12px 13px,#f3b8b9 13px 14px,#f6cbcb 14px 16px,#f8d6d6 16px 18px,#f5c6c7 18px 21px,#f3bcbc 21px 23px,#f2b5b6 23px 24px,#f7d3d3 24px 25px,#f6cece 25px 27px,#f6c9ca 27px 29px,#f4c2c3 29px 30px,#f2b4b5 30px 31px,#f5c8c9 31px 33px,#f6cbcc 33px 36px,#f8d5d5 36px 39px,#f3bbbb 39px 40px,#f5c7c8 40px 42px,#f4c0c0 42px 44px,#f9dede 44px 46px,#f7d4d4 46px 49px,#f9dbdc 49px 52px,#f8d5d5 52px 54px,#f5c5c5 54px 57px,#f5c8c8 57px 58px,#f6cdcd 58px 60px,#f9dcdc 60px 61px,#fbeaea 61px 63px,#f7cecf 63px 64px,#f4bfc0 64px 65px,#f6cdcd 65px 66px,#fae2e2 66px 67px,#f8d6d6 67px 68px,#f5c8c9 68px 70px,#f0aaaa 70px 71px,#f4bdbe 71px 73px,#f5c6c7 73px 75px,#f6c9c9 75px 77px,#f8d7d8 77px 79px,#f5c7c7 79px 80px,#f5c7c8 80px 82px,#f2b6b7 82px 83px,#f3bdbe 83px 86px,#f7cfcf 86px 88px,#f6cdce 88px 90px,#f1acad 90px 91px,#f4c0c0 91px 94px,#f6cccd 94px 95px,#f6cbcc 95px 97px,#f9dfdf 97px 100px,#f1aeaf 100px 102px,#f1adad 102px 104px,#f3bdbd 104px 106px,#f3baba 106px 107px,#f6cbcb 107px 110px,#f2b5b6 110px 112px,#f6c9ca 112px 114px,#f3bcbd 114px 115px,#f2b5b6 115px 117px,#f6cccd 117px 119px,#f0abac 119px 120px,#f1adae 120px 121px,#f3bcbd 121px 123px,#f7d3d3 123px 124px,#f3b9b9 124px 126px,#f1afaf 126px 127px,#f0abab 127px 129px,#f6c9c9 129px 131px,#f5c4c4 131px 132px,#f2b3b3 132px 133px,#f4c2c2 133px 136px,#f0a7a7 136px 137px,#f3b9ba 137px 138px,#efa3a4 138px 139px,#f2b5b6 139px 140px,#f0aaab 140px 142px,#f3bbbc 142px 144px,#f5c7c7 144px 147px,#f3bdbd 147px 149px,#f5c8c9 149px 151px,#f1afaf 151px 152px,#efa5a6 152px 154px,#f0acad 154px 157px,#f3b8b9 157px 158px,#e6e6fd 158px 161px,#cecefc 161px 163px,#c7c7fb 163px 165px,#cbcbfc 165px 166px,#dcdcfd 166px 168px,#bbbbfb 168px 170px,#c5c5fb 170px 173px,#c7c7fb 173px 175px,#e4e4fd 175px 176px,#d1d1fc 176px 179px,#cecefc 179px 180px,#c3c3fb 180px 181px,#d7d7fc 181px 182px,#c3c3fb 182px 184px,#dfdffd 184px 186px,#d2d2fc 186px 190px,#cacafc 190px 192px,#e0e0fd 192px 193px,#dfdffd 193px 195px,#b1b1fa 195px 197px,#d6d6fc 197px 198px,#c0c0fb 198px 201px,#c8c8fb 201px 202px,#dfdffd 202px 204px,#dadafd 204px 207px,#dbdbfd 207px 209px,#e3e3fd 209px 210px,#d5d5fc 210px 212px,#cfcffc 212px 214px,#d3d3fc 214px 215px,#dadafd 215px 216px,#e0e0fd 216px 218px,#ccccfc 218px 220px,#e6e6fd 220px 222px,#d0d0fc 222px 223px,#f2f2fe 223px 224px,#ccccfc 224px 225px,#ececfe 225px 227px,#ccccfc 227px 229px,#ddddfd 229px 232px,#e3e3fd 232px 234px,#e8e8fe 234px 235px,#dedefd 235px 237px,#e4e4fd 237px 238px,#dadafd 238px 240px,#c1c1fb 240px 242px,#d1d1fc 242px 243px,#d4d4fc 243px 245px,#f5f5fe 245px 247px,#efeffe 247px 249px,#e4e4fd 249px 251px,#f7f7ff 251px 252px,#e9e9fe 252px 254px,#dedefd 254px 255px,#e5e5fd 255px 257px,#e6e6fd 257px 260px,#d4d4fc 260px 261px,#dcdcfd 261px 264px,#fffefe 264px 266px,#fbe7e7 266px 268px,#fcebeb 268px 270px,#fbeaea 270px 272px,#fbe8e9 272px 273px,#e7e7fd 273px 275px,#e6e6fd 275px 277px,#f9f9ff 277px 279px,#ddddfd 279px 280px,#dfdffd 280px 282px,#d9d9fd 282px 283px,#e9e9fe 283px 286px,#f6f6fe 286px 287px,#e9e9fe 287px 287.5px)"></div>
<div class="hc" style="left:318.12px;top:1.7px;width:27.05px;height:287.5px;background:linear-gradient(#9d9df9 0px 2px,#9b9bf9 2px 4px,#a0a0f9 4px 6px,#9696f8 6px 8px,#8e8ef8 8px 10px,#9393f8 10px 12px,#acacfa 12px 13px,#a2a2f9 13px 14px,#8888f7 14px 16px,#8282f7 16px 18px,#8787f7 18px 21px,#8989f7 21px 23px,#bdbdfb 23px 24px,#9797f8 24px 25px,#9494f8 25px 29px,#8f8ff8 29px 30px,#a6a6f9 30px 31px,#8d8df8 31px 33px,#ababfa 33px 36px,#9090f8 36px 39px,#9d9df9 39px 40px,#a1a1f9 40px 42px,#a4a4f9 42px 44px,#8a8af8 44px 46px,#a7a7f9 46px 49px,#9999f8 49px 52px,#8b8bf8 52px 54px,#aeaefa 54px 57px,#a6a6f9 57px 58px,#a8a8f9 58px 60px,#b0b0fa 60px 61px,#9e9ef9 61px 63px,#9a9af9 63px 64px,#9494f8 64px 65px,#9393f8 65px 66px,#f5c8c8 66px 67px,#f3b9b9 67px 68px,#f6cdcd 68px 70px,#fefeff 70px 71px,#fefbfb 71px 73px,#e9e9fe 73px 75px,#efeffe 75px 77px,#d8d8fd 77px 79px,#eaeafe 79px 80px,#f0f0fe 80px 82px,#fdfdff 82px 83px,#e8e8fe 83px 86px,#d8d8fd 86px 88px,#dcdcfd 88px 90px,#fbfbff 90px 91px,#e5e5fd 91px 94px,#e4e4fd 94px 95px,#dfdffd 95px 97px,#e4e4fd 97px 100px,#ec9394 100px 102px,#ed9798 102px 104px,#ee9b9c 104px 106px,#eea0a1 106px 107px,#f3b7b8 107px 110px,#f0a7a8 110px 112px,#f0aaab 112px 114px,#ea8889 114px 115px,#f0a7a8 115px 117px,#f0a8a8 117px 119px,#ed9798 119px 120px,#ea8889 120px 121px,#efa1a2 121px 123px,#f4c0c0 123px 124px,#ec9495 124px 126px,#ee9fa0 126px 129px,#efa3a3 129px 131px,#ed9a9b 131px 132px,#f6c9c9 132px 133px,#eea0a1 133px 136px,#f9dcdc 136px 137px,#fdf3f3 137px 138px,#f7d1d1 138px 139px,#fbe9e9 139px 140px,#fcefef 140px 142px,#fdf4f4 142px 147px,#fffefe 147px 149px,#fae4e4 149px 151px,#fbe7e7 151px 152px,#fae2e2 152px 154px,#fdf4f4 154px 157px,#fae1e1 157px 158px,#efeffe 158px 161px,#e8e8fe 161px 163px,#ffffff 163px 165px,#f4f4fe 165px 166px,#fcfcff 166px 168px,#e4e4fd 168px 170px,#f6f6fe 170px 171px,#fafaff 171px 174px,#efeffe 174px 175px,#f8f8ff 175px 176px,#fefcfc 176px 179px,#f7f7fe 179px 180px,#fffefe 180px 181px,#e9e9fe 181px 182px,#efeffe 182px 184px,#7f7ff7 184px 186px,#7d7df7 186px 187px,#8b8bf8 187px 190px,#7979f6 190px 192px,#7575f6 192px 193px,#8d8df8 193px 195px,#7373f6 195px 197px,#8c8cf8 197px 198px,#6e6ef6 198px 201px,#7777f6 201px 202px,#7878f6 202px 204px,#8686f7 204px 207px,#ee9c9c 207px 209px,#f1adae 209px 210px,#f4bdbe 210px 212px,#f1aeaf 212px 214px,#f5c7c7 214px 215px,#f4c0c1 215px 216px,#f1adae 216px 218px,#f1afb0 218px 220px,#f4c1c2 220px 222px,#f2b2b2 222px 223px,#efa5a6 223px 224px,#f2b6b7 224px 225px,#f1b1b1 225px 227px,#f5c8c9 227px 229px,#ed9696 229px 232px,#ec9293 232px 234px,#f1b0b1 234px 235px,#f1b1b2 235px 236px,#f2b5b6 236px 237px,#f0a9aa 237px 238px,#f1aeaf 238px 240px,#f2b4b5 240px 242px,#efa6a7 242px 243px,#f2b2b2 243px 245px,#ee9d9d 245px 247px,#f4c0c0 247px 249px,#f1aeae 249px 251px,#f1aeaf 251px 252px,#f3bdbd 252px 253px,#ee9e9e 253px 254px,#ed9a9b 254px 255px,#f0acac 255px 257px,#f0aaab 257px 260px,#f4bebf 260px 261px,#f0a8a8 261px 262px,#f0aaab 262px 264px,#efa4a5 264px 266px,#e77677 266px 268px,#efa2a3 268px 270px,#ec9091 270px 272px,#ee9c9d 272px 273px,#eb8b8c 273px 275px,#ec9595 275px 277px,#f0a8a9 277px 279px,#f1b0b1 279px 280px,#f0a8a9 280px 282px,#f0acad 282px 283px,#f2b7b8 283px 286px,#f1aeae 286px 287px,#f3bcbd 287px 287.5px)"></div>
<div class="hc" style="left:344.87px;top:1.7px;width:27.05px;height:287.5px;background:linear-gradient(#a6a6f9 0px 2px,#a7a7f9 2px 4px,#a5a5f9 4px 6px,#a7a7f9 6px 8px,#a0a0f9 8px 10px,#a5a5f9 10px 12px,#b9b9fb 12px 13px,#bbbbfb 13px 14px,#a0a0f9 14px 16px,#9595f8 16px 18px,#9f9ff9 18px 21px,#b0b0fa 21px 23px,#cecefc 23px 24px,#b3b3fa 24px 25px,#a6a6f9 25px 27px,#a9a9fa 27px 29px,#a0a0f9 29px 30px,#b6b6fa 30px 31px,#9c9cf9 31px 33px,#bebefb 33px 36px,#b2b2fa 36px 42px,#8b8bf8 42px 44px,#5d5df5 44px 46px,#8282f7 46px 49px,#7171f6 49px 52px,#6767f5 52px 54px,#8888f7 54px 57px,#7777f6 57px 58px,#8080f7 58px 60px,#8282f7 60px 61px,#8a8af8 61px 63px,#7676f6 63px 64px,#6e6ef6 64px 66px,#f5c6c7 66px 67px,#f3babb 67px 68px,#f7d1d1 68px 70px,#ffffff 70px 73px,#ececfe 73px 75px,#f1f1fe 75px 77px,#d2d2fc 77px 79px,#ededfe 79px 80px,#ebebfe 80px 82px,#f9f9ff 82px 83px,#e8e8fe 83px 86px,#d8d8fd 86px 90px,#fdfdff 90px 91px,#e6e6fd 91px 94px,#e3e3fd 94px 95px,#e4e4fd 95px 97px,#d6d6fc 97px 100px,#eb8d8e 100px 102px,#ec9495 102px 104px,#ed9b9b 104px 106px,#ed999a 106px 107px,#f3bcbd 107px 110px,#f0abab 110px 112px,#f1b0b1 112px 114px,#ec9293 114px 115px,#eea0a1 115px 117px,#f0a8a8 117px 119px,#ed9596 119px 120px,#ea8586 120px 121px,#f0a8a9 121px 123px,#f4bfc0 123px 124px,#ed9a9b 124px 126px,#efa4a5 126px 127px,#efa4a4 127px 129px,#ed9a9b 129px 131px,#ee9fa0 131px 132px,#f5c7c7 132px 133px,#ee9d9e 133px 136px,#f9dfdf 136px 137px,#fdf3f3 137px 138px,#f7d4d4 138px 139px,#fcefef 139px 140px,#fdf2f2 140px 142px,#fef8f8 142px 144px,#fffdfd 144px 147px,#fffefe 147px 149px,#fae0e0 149px 151px,#fae4e4 151px 152px,#fbeaea 152px 154px,#fceeee 154px 157px,#fceded 157px 158px,#f4f4fe 158px 161px,#efeffe 161px 163px,#fffdfd 163px 165px,#f9f9ff 165px 166px,#fafaff 166px 168px,#e6e6fd 168px 170px,#f5f5fe 170px 171px,#f0f0fe 171px 173px,#fefeff 173px 174px,#efeffe 174px 175px,#f6f6fe 175px 176px,#fffefe 176px 179px,#f2f2fe 179px 180px,#fefcfc 180px 181px,#eeeefe 181px 184px,#8181f7 184px 186px,#7a7af7 186px 187px,#8b8bf8 187px 190px,#7c7cf7 190px 192px,#7474f6 192px 193px,#8989f7 193px 195px,#7474f6 195px 197px,#8d8df8 197px 198px,#6565f5 198px 201px,#7d7df7 201px 202px,#7c7cf7 202px 204px,#8989f7 204px 207px,#ee9fa0 207px 209px,#f0a7a8 209px 210px,#f2b7b7 210px 212px,#f0a7a8 212px 214px,#f4bfbf 214px 215px,#f3babb 215px 216px,#f0a7a7 216px 218px,#f2b6b7 218px 220px,#f4bdbe 220px 222px,#f1aeaf 222px 223px,#ed9a9b 223px 224px,#f3baba 224px 225px,#f2b3b4 225px 227px,#f4c0c1 227px 229px,#ed9596 229px 234px,#f2b2b3 234px 236px,#f2b6b7 236px 237px,#ee9e9f 237px 238px,#f2b2b3 238px 240px,#f3bcbc 240px 242px,#f0a8a9 242px 243px,#f0a9aa 243px 245px,#ed9a9b 245px 247px,#f4bebf 247px 249px,#f0a9a9 249px 251px,#f1aeaf 251px 252px,#f2b3b3 252px 253px,#eea0a1 253px 254px,#efa6a6 254px 255px,#efa2a3 255px 257px,#f1aeaf 257px 260px,#f3baba 260px 261px,#f2b3b4 261px 262px,#f1afb0 262px 264px,#f2b4b5 264px 266px,#e77374 266px 268px,#ed9a9a 268px 270px,#eb8a8b 270px 272px,#f0a7a7 272px 273px,#e87c7d 273px 275px,#eb8e8f 275px 277px,#f0a9a9 277px 279px,#f3babb 279px 280px,#f1acad 280px 282px,#f0aaaa 282px 283px,#f1b1b2 283px 286px,#f1afb0 286px 287px,#f5c3c4 287px 287.5px)"></div>
<div class="hc" style="left:371.61px;top:1.7px;width:27.05px;height:287.5px;background:linear-gradient(#a5a5f9 0px 2px,#adadfa 2px 4px,#a6a6f9 4px 6px,#9696f8 6px 8px,#9494f8 8px 10px,#a4a4f9 10px 12px,#b3b3fa 12px 13px,#aeaefa 13px 14px,#9191f8 14px 16px,#9393f8 16px 18px,#9595f8 18px 21px,#a1a1f9 21px 23px,#c8c8fb 23px 24px,#ababfa 24px 27px,#a7a7f9 27px 29px,#9a9af9 29px 30px,#b7b7fa 30px 31px,#8c8cf8 31px 33px,#b9b9fb 33px 36px,#a8a8f9 36px 39px,#a6a6f9 39px 40px,#aeaefa 40px 42px,#8282f7 42px 44px,#5d5df5 44px 46px,#7f7ff7 46px 49px,#7272f6 49px 52px,#6a6af6 52px 54px,#8585f7 54px 57px,#8383f7 57px 58px,#8080f7 58px 60px,#8282f7 60px 61px,#9191f8 61px 63px,#7373f6 63px 64px,#6a6af5 64px 65px,#6b6bf6 65px 66px,#f6cccd 66px 67px,#f4c2c3 67px 68px,#f5c5c6 68px 70px,#fffcfc 70px 71px,#fbfbff 71px 73px,#e6e6fd 73px 75px,#f1f1fe 75px 77px,#d2d2fc 77px 79px,#f3f3fe 79px 80px,#efeffe 80px 82px,#f4f4fe 82px 83px,#e8e8fe 83px 86px,#dadafd 86px 88px,#dcdcfd 88px 90px,#f4f4fe 90px 91px,#eaeafe 91px 94px,#e9e9fe 94px 95px,#e7e7fd 95px 97px,#e2e2fd 97px 100px,#ec9091 100px 102px,#ec9293 102px 104px,#ee9fa0 104px 106px,#efa6a7 106px 107px,#f4bebf 107px 110px,#f3b8b9 110px 112px,#f1afb0 112px 114px,#ec9192 114px 115px,#ee9fa0 115px 117px,#f0abab 117px 119px,#eb8c8d 119px 120px,#ec9293 120px 121px,#f1b0b1 121px 123px,#f4bfc0 123px 124px,#ed9899 124px 126px,#efa2a2 126px 127px,#ee9fa0 127px 129px,#eea0a1 129px 131px,#efa1a2 131px 132px,#f4c1c2 132px 133px,#eea0a1 133px 136px,#f9dfdf 136px 137px,#fdf5f5 137px 138px,#f8d8d9 138px 139px,#fdf4f4 139px 140px,#fdf5f5 140px 142px,#fefbfb 142px 144px,#fdf5f5 144px 147px,#fffcfc 147px 149px,#fbe8e8 149px 151px,#fae4e4 151px 152px,#fbe6e6 152px 154px,#fdf4f4 154px 157px,#fceeee 157px 158px,#f1f1fe 158px 161px,#e3e3fd 161px 163px,#fcfcff 163px 165px,#f9f9ff 165px 166px,#f4f4fe 166px 168px,#e0e0fd 168px 170px,#f9f9ff 170px 171px,#f8f8ff 171px 173px,#fcfcff 173px 174px,#f9f9ff 174px 175px,#f6f6fe 175px 176px,#ffffff 176px 179px,#fafaff 179px 180px,#fefeff 180px 181px,#e7e7fd 181px 182px,#e9e9fe 182px 184px,#8888f7 184px 186px,#7979f6 186px 187px,#8a8af8 187px 190px,#7e7ef7 190px 192px,#6e6ef6 192px 193px,#8787f7 193px 195px,#6a6af6 195px 197px,#9090f8 197px 198px,#6666f5 198px 201px,#7c7cf7 201px 202px,#7878f6 202px 204px,#8787f7 204px 207px,#eea0a1 207px 209px,#f0a8a9 209px 210px,#f3babb 210px 212px,#f0a8a9 212px 214px,#f5c6c7 214px 215px,#f4bebe 215px 216px,#efa6a7 216px 218px,#f1aeae 218px 220px,#f4c2c3 220px 222px,#f2b6b7 222px 223px,#efa3a4 223px 224px,#f2b4b5 224px 225px,#f3baba 225px 227px,#f3b8b8 227px 229px,#ed9696 229px 232px,#ec9293 232px 234px,#f1acad 234px 235px,#f2b6b6 235px 236px,#f2b5b6 236px 237px,#efa1a2 237px 238px,#f0a8a8 238px 240px,#f3bcbd 240px 242px,#efa5a6 242px 243px,#f0a8a9 243px 245px,#ed9899 245px 247px,#f2b4b5 247px 249px,#f1afaf 249px 251px,#f0aaab 251px 252px,#f2b4b5 252px 253px,#efa3a4 253px 254px,#eea0a1 254px 255px,#ee9b9c 255px 257px,#f1b1b2 257px 260px,#f3b9ba 260px 261px,#f1aeae 261px 262px,#f1b0b1 262px 264px,#efa3a4 264px 266px,#e87a7b 266px 268px,#ee9e9e 268px 270px,#eb8e8f 270px 272px,#efa4a5 272px 273px,#eb8a8b 273px 275px,#ed9a9b 275px 277px,#ee9e9f 277px 279px,#f1afb0 279px 280px,#efa1a2 280px 282px,#efa5a6 282px 283px,#f2b6b7 283px 286px,#efa6a7 286px 287px,#f3bdbd 287px 287.5px)"></div>
<div class="hc" style="left:398.36px;top:1.7px;width:27.05px;height:287.5px;background:linear-gradient(#9595f8 0px 2px,#6f6ff6 2px 4px,#8787f7 4px 6px,#8b8bf8 6px 8px,#8f8ff8 8px 10px,#7272f6 10px 12px,#9393f8 12px 13px,#8484f7 13px 14px,#8686f7 14px 16px,#6565f5 16px 18px,#7171f6 18px 21px,#9999f9 21px 23px,#7b7bf7 23px 24px,#8585f7 24px 25px,#6c6cf6 25px 27px,#8a8af8 27px 29px,#cdcdfc 29px 30px,#d2d2fc 30px 31px,#cfcffc 31px 33px,#babafb 33px 36px,#d3d3fc 36px 39px,#5a5af4 39px 40px,#4c4cf4 40px 42px,#e9e9fe 42px 44px,#ddddfd 44px 46px,#e4e4fd 46px 49px,#e3e3fd 49px 52px,#f4f4fe 52px 54px,#e9e9fe 54px 57px,#e4e4fd 57px 58px,#eeeefe 58px 60px,#e2e2fd 60px 61px,#dfdffd 61px 63px,#e6e6fd 63px 64px,#cbcbfc 64px 65px,#c8c8fb 65px 66px,#c0c0fb 66px 67px,#bfbffb 67px 68px,#cbcbfc 68px 70px,#cecefc 70px 71px,#d1d1fc 71px 73px,#9292f8 73px 75px,#8b8bf8 75px 77px,#8686f7 77px 79px,#9191f8 79px 80px,#9494f8 80px 82px,#a1a1f9 82px 83px,#9999f8 83px 86px,#9191f8 86px 88px,#7676f6 88px 90px,#9898f8 90px 91px,#9b9bf9 91px 94px,#7e7ef7 94px 95px,#9191f8 95px 97px,#b9b9fb 97px 100px,#d9d9fd 100px 102px,#cacafc 102px 104px,#cecefc 104px 106px,#3a3af2 106px 107px,#1414f0 107px 110px,#4949f3 110px 112px,#4848f3 112px 114px,#bebefb 114px 115px,#b0b0fa 115px 117px,#c4c4fb 117px 119px,#bbbbfb 119px 120px,#c9c9fc 120px 121px,#2020f1 121px 124px,#2d2df2 124px 126px,#3d3df3 126px 127px,#2929f1 127px 129px,#2d2df2 129px 131px,#2929f1 131px 132px,#1414f0 132px 133px,#2929f1 133px 136px,#2c2cf2 136px 137px,#3434f2 137px 138px,#3333f2 138px 139px,#2323f1 139px 140px,#2a2af1 140px 142px,#3131f2 142px 144px,#3737f2 144px 147px,#1919f0 147px 149px,#2020f1 149px 151px,#3e3ef3 151px 152px,#4747f3 152px 154px,#2f2ff2 154px 157px,#3636f2 157px 158px,#eb8d8e 158px 161px,#e98182 161px 163px,#ea8788 163px 165px,#ec9091 165px 166px,#e67273 166px 168px,#f0abac 168px 170px,#ed9798 170px 171px,#e46465 171px 173px,#e56a6b 173px 174px,#e04b4c 174px 175px,#de3f41 175px 176px,#dd3e40 176px 179px,#e46263 179px 180px,#e15254 180px 181px,#efa5a6 181px 182px,#f2b6b6 182px 184px,#ee9d9e 184px 186px,#efa4a5 186px 187px,#f9dbdb 187px 190px,#f9dada 190px 192px,#fae3e3 192px 193px,#f8d8d8 193px 195px,#fef9f9 195px 197px,#c5c5fb 197px 198px,#efa3a4 198px 201px,#f4bfc0 201px 202px,#f3babb 202px 204px,#e98283 204px 207px,#ea8586 207px 209px,#ea898a 209px 210px,#e98384 210px 212px,#eb8c8d 212px 214px,#f0a7a8 214px 215px,#e87d7e 215px 216px,#e77375 216px 218px,#ed9899 218px 220px,#eb8c8d 220px 222px,#e98384 222px 223px,#ea8687 223px 224px,#e77677 224px 225px,#eb8c8d 225px 227px,#ed9899 227px 229px,#e67374 229px 232px,#eb8b8c 232px 234px,#ec9192 234px 235px,#ea8586 235px 236px,#e77476 236px 237px,#ed9899 237px 238px,#eb8e8f 238px 240px,#e77879 240px 242px,#eb8c8d 242px 243px,#e77374 243px 245px,#e67071 245px 247px,#e97f80 247px 249px,#ea8889 249px 251px,#ec9293 251px 252px,#e97f80 252px 253px,#ec9495 253px 255px,#ec9091 255px 257px,#eb8f90 257px 260px,#f0a8a9 260px 261px,#ec9293 261px 262px,#ec9192 262px 264px,#f9f9ff 264px 266px,#fdf3f3 266px 268px,#f2f2fe 268px 270px,#f6f6fe 270px 272px,#efa5a5 272px 273px,#ec9293 273px 275px,#f0a9a9 275px 277px,#efa4a5 277px 279px,#f1aeaf 279px 280px,#ec9394 280px 282px,#ed9596 282px 283px,#f0a8a9 283px 286px,#ed999a 286px 287px,#ee9c9d 287px 287.5px)"></div>
<div class="hc" style="left:425.11px;top:1.7px;width:27.05px;height:287.5px;background:linear-gradient(#b8b8fa 0px 2px,#9595f8 2px 4px,#a8a8f9 4px 6px,#bbbbfb 6px 8px,#b4b4fa 8px 10px,#9c9cf9 10px 12px,#c1c1fb 12px 13px,#adadfa 13px 14px,#a3a3f9 14px 16px,#9696f8 16px 18px,#9e9ef9 18px 21px,#bcbcfb 21px 23px,#adadfa 23px 24px,#aaaafa 24px 25px,#8e8ef8 25px 27px,#b6b6fa 27px 29px,#afaffa 29px 30px,#a7a7f9 30px 31px,#b0b0fa 31px 33px,#9797f8 33px 36px,#b5b5fa 36px 39px,#afaffa 39px 40px,#9d9df9 40px 42px,#9e9ef9 42px 44px,#bfbffb 44px 46px,#d3d3fc 46px 49px,#cdcdfc 49px 52px,#dfdffd 52px 54px,#d3d3fc 54px 57px,#cdcdfc 57px 58px,#d1d1fc 58px 61px,#bdbdfb 61px 63px,#cbcbfc 63px 64px,#a2a2f9 64px 65px,#9a9af9 65px 66px,#9292f8 66px 67px,#9b9bf9 67px 68px,#9999f8 68px 70px,#ababfa 70px 71px,#a5a5f9 71px 73px,#8f8ff8 73px 75px,#9191f8 75px 77px,#8b8bf8 77px 79px,#9696f8 79px 80px,#9090f8 80px 82px,#ababfa 82px 83px,#9696f8 83px 86px,#8a8af8 86px 88px,#7f7ff7 88px 90px,#a0a0f9 90px 91px,#a4a4f9 91px 94px,#7c7cf7 94px 95px,#8b8bf8 95px 97px,#8e8ef8 97px 100px,#a5a5f9 100px 102px,#9999f8 102px 104px,#e0e0fd 104px 106px,#c7c7fb 106px 107px,#b0b0fa 107px 110px,#d3d3fc 110px 112px,#cecefc 112px 114px,#cacafc 114px 115px,#c4c4fb 115px 117px,#d7d7fc 117px 119px,#d5d5fc 119px 120px,#dfdffd 120px 121px,#8080f7 121px 123px,#8484f7 123px 124px,#8888f7 124px 126px,#aaaafa 126px 127px,#8f8ff8 127px 129px,#8c8cf8 129px 131px,#8f8ff8 131px 132px,#8080f7 132px 133px,#9292f8 133px 136px,#8e8ef8 136px 137px,#9f9ff9 137px 138px,#a0a0f9 138px 139px,#9090f8 139px 140px,#9797f8 140px 142px,#9a9af9 142px 144px,#9999f9 144px 147px,#8181f7 147px 149px,#8484f7 149px 151px,#a9a9fa 151px 152px,#aeaefa 152px 154px,#9393f8 154px 157px,#a2a2f9 157px 158px,#e87c7d 158px 161px,#e8797a 161px 163px,#e98182 163px 165px,#e8797a 165px 166px,#e77576 166px 168px,#ec9596 168px 170px,#ec9394 170px 171px,#eb8d8e 171px 174px,#e87c7d 174px 175px,#e67273 175px 176px,#e56a6b 176px 179px,#eb8b8c 179px 180px,#e8797a 180px 181px,#e77677 181px 182px,#e97f80 182px 184px,#e56c6d 184px 186px,#e8797a 186px 187px,#e67273 187px 190px,#e8797b 190px 192px,#f1adae 192px 193px,#f1aeae 193px 195px,#f7d0d0 195px 197px,#f1aeaf 197px 198px,#f1afaf 198px 201px,#f6c9c9 201px 202px,#f4c2c2 202px 204px,#e67172 204px 207px,#e77778 207px 209px,#e67071 209px 210px,#e67172 210px 212px,#e97e7f 212px 214px,#eb8e8f 214px 215px,#e77678 215px 216px,#e15253 216px 218px,#eb8e8f 218px 220px,#e97f80 220px 222px,#e8797a 222px 223px,#e87b7c 223px 224px,#e56a6b 224px 225px,#e98384 225px 227px,#e98485 227px 229px,#e46263 229px 232px,#e77778 232px 234px,#e97e80 234px 235px,#e87b7c 235px 236px,#e56768 236px 237px,#ec9293 237px 238px,#e67071 238px 240px,#e56b6c 240px 242px,#e98485 242px 243px,#e36162 243px 247px,#e56c6d 247px 249px,#e77374 249px 251px,#e87b7c 251px 252px,#e66f70 252px 253px,#e98081 253px 254px,#e98283 254px 255px,#e67172 255px 257px,#e87a7b 257px 260px,#ec9495 260px 261px,#e98384 261px 262px,#ea898a 262px 264px,#f4bfc0 264px 266px,#f1adae 266px 268px,#f5c7c7 268px 270px,#f4bdbe 270px 272px,#f3bbbc 272px 273px,#f3b9ba 273px 275px,#f3bbbc 275px 277px,#f4c0c0 277px 279px,#f3bcbd 279px 280px,#f1afb0 280px 282px,#f2b6b6 282px 283px,#f4c0c1 283px 286px,#f0a8a9 286px 287px,#f3bbbc 287px 287.5px)"></div>
<div class="hc" style="left:451.85px;top:1.7px;width:26.75px;height:287.5px;background:linear-gradient(#c4c4fb 0px 2px,#9595f8 2px 4px,#a8a8f9 4px 6px,#bfbffb 6px 8px,#b5b5fa 8px 10px,#9e9ef9 10px 12px,#b3b3fa 12px 13px,#acacfa 13px 14px,#a0a0f9 14px 16px,#9595f8 16px 18px,#a5a5f9 18px 21px,#b8b8fa 21px 23px,#adadfa 23px 24px,#a7a7f9 24px 25px,#9797f8 25px 27px,#bebefb 27px 29px,#a6a6f9 29px 30px,#aeaefa 30px 31px,#acacfa 31px 33px,#9b9bf9 33px 36px,#b7b7fa 36px 39px,#b0b0fa 39px 40px,#a3a3f9 40px 42px,#a0a0f9 42px 44px,#c2c2fb 44px 46px,#d6d6fc 46px 49px,#ccccfc 49px 52px,#dedefd 52px 54px,#d2d2fc 54px 57px,#ccccfc 57px 58px,#d1d1fc 58px 60px,#c0c0fb 60px 63px,#cacafc 63px 64px,#aeaefa 64px 65px,#9a9af9 65px 66px,#8e8ef8 66px 67px,#9191f8 67px 68px,#9494f8 68px 70px,#a0a0f9 70px 71px,#a5a5f9 71px 73px,#8e8ef8 73px 75px,#8787f7 75px 77px,#8282f7 77px 79px,#9292f8 79px 80px,#9595f8 80px 82px,#acacfa 82px 83px,#a0a0f9 83px 86px,#8d8df8 86px 88px,#8181f7 88px 90px,#a8a8f9 90px 91px,#a0a0f9 91px 94px,#8c8cf8 94px 95px,#8888f7 95px 97px,#8e8ef8 97px 100px,#a1a1f9 100px 102px,#9292f8 102px 104px,#dedefd 104px 106px,#c9c9fc 106px 107px,#a3a3f9 107px 110px,#dcdcfd 110px 112px,#d6d6fc 112px 114px,#d7d7fc 114px 115px,#c4c4fb 115px 117px,#cfcffc 117px 119px,#d3d3fc 119px 120px,#e3e3fd 120px 121px,#7f7ff7 121px 123px,#8383f7 123px 126px,#a3a3f9 126px 127px,#8787f7 127px 129px,#9191f8 129px 131px,#8b8bf8 131px 132px,#7c7cf7 132px 133px,#8989f7 133px 136px,#9494f8 136px 137px,#9696f8 137px 138px,#a0a0f9 138px 139px,#9696f8 139px 140px,#8f8ff8 140px 144px,#9c9cf9 144px 147px,#8080f7 147px 149px,#8383f7 149px 151px,#ababfa 151px 152px,#a6a6f9 152px 154px,#9999f8 154px 158px,#e87a7b 158px 161px,#e77374 161px 163px,#e97f80 163px 165px,#e67273 165px 166px,#e66f70 166px 168px,#ee9f9f 168px 170px,#ed9899 170px 171px,#ec9192 171px 173px,#eb8e8f 173px 174px,#e8797a 174px 175px,#e56b6c 175px 179px,#eb8c8d 179px 180px,#e97f80 180px 182px,#ea8788 182px 184px,#e77374 184px 186px,#e77576 186px 187px,#e87c7e 187px 190px,#e77475 190px 192px,#f4bdbe 192px 193px,#f0abac 193px 195px,#f6cbcb 195px 197px,#f2b5b6 197px 201px,#f5c5c5 201px 202px,#f5c8c8 202px 204px,#e56b6c 204px 207px,#e67273 207px 209px,#e56d6e 209px 210px,#e77778 210px 212px,#e67273 212px 214px,#ec9192 214px 215px,#e56869 215px 216px,#e35f61 216px 218px,#e98485 218px 220px,#e87c7d 220px 222px,#e67071 222px 223px,#e77879 223px 224px,#e46465 224px 225px,#e8797a 225px 227px,#eb8b8c 227px 229px,#e15657 229px 232px,#e8797a 232px 234px,#e87c7d 234px 235px,#e77576 235px 236px,#e36062 236px 237px,#eb8e8f 237px 238px,#e67071 238px 240px,#e56869 240px 242px,#e77677 242px 243px,#e67273 243px 245px,#e36061 245px 247px,#e8797a 247px 249px,#e56c6e 249px 251px,#e98081 251px 252px,#e36062 252px 253px,#e98081 253px 254px,#e87d7f 254px 255px,#e97e7f 255px 257px,#e77374 257px 260px,#ed9596 260px 261px,#e87d7e 261px 262px,#e98384 262px 264px,#f4c0c1 264px 266px,#f0abac 266px 268px,#f6cdce 268px 270px,#f5c3c3 270px 272px,#f3b8b8 272px 273px,#f2b4b5 273px 275px,#f5c7c8 275px 277px,#f4bfc0 277px 279px,#f5c7c8 279px 280px,#f0abac 280px 282px,#f3babb 282px 283px,#f4c0c0 283px 286px,#f1afb0 286px 287px,#f2b4b5 287px 287.5px)"></div>
<div class="hc" style="left:74.50px;top:363.2px;width:33.89px;height:395.3px;background:linear-gradient(#d82224 0px 2px,#dc3436 2px 4px,#df4647 4px 7px,#df4748 7px 9px,#d92325 9px 12px,#e46365 12px 14px,#da2d2f 14px 15px,#dc383a 15px 17px,#db3335 17px 18px,#e25a5c 18px 20px,#dd3b3d 20px 22px,#dd3c3e 22px 24px,#da2b2d 24px 27px,#df4a4b 27px 29px,#de4143 29px 32px,#dc3738 32px 34px,#d71b1d 34px 35px,#de4143 35px 37px,#e04f51 37px 38px,#dd393b 38px 41px,#df4648 41px 43px,#e46364 43px 44px,#e67172 44px 46px,#dd3f40 46px 48px,#df494a 48px 51px,#e05051 51px 52px,#de4042 52px 53px,#da2d2f 53px 55px,#da292b 55px 56px,#dd3f40 56px 57px,#dd3a3b 57px 59px,#df494b 59px 62px,#e67172 62px 64px,#df494b 64px 67px,#e2595a 67px 69px,#e05051 69px 70px,#e04c4e 70px 71px,#dd3a3b 71px 72px,#da2d2f 72px 75px,#de4042 75px 77px,#da2e2f 77px 78px,#df4a4c 78px 79px,#db3032 79px 81px,#e04d4e 81px 83px,#e04d4f 83px 84px,#dd3e40 84px 87px,#dd3a3b 87px 89px,#da2b2d 89px 90px,#d82123 90px 92px,#dd3b3d 92px 94px,#db2f31 94px 96px,#de4244 96px 98px,#e15556 98px 99px,#df4a4b 99px 102px,#e05051 102px 103px,#dc3537 103px 105px,#de4345 105px 106px,#e25657 106px 108px,#e15355 108px 109px,#e36061 109px 111px,#e04e50 111px 113px,#e2595a 113px 115px,#de4042 115px 118px,#e04f50 118px 120px,#df4749 120px 122px,#dd3e40 122px 124px,#dd3a3c 124px 126px,#de4042 126px 128px,#df4648 128px 130px,#e15153 130px 131px,#e04b4c 131px 134px,#de4243 134px 137px,#e05051 137px 138px,#e15657 138px 139px,#de4143 139px 142px,#de4345 142px 144px,#dc3436 144px 146px,#db2e30 146px 148px,#de4445 148px 151px,#df4a4c 151px 153px,#e15557 153px 156px,#dd3a3b 156px 158px,#df4a4c 158px 159px,#df4647 159px 161px,#db3233 161px 162px,#e2585a 162px 164px,#dc3839 164px 166px,#df4647 166px 168px,#de4041 168px 170px,#da2d2f 170px 172px,#e25759 172px 174px,#e04d4e 174px 175px,#e04f50 175px 176px,#de4143 176px 178px,#d82224 178px 180px,#e15152 180px 181px,#e15354 181px 183px,#e04f51 183px 184px,#dc3738 184px 185px,#da2e30 185px 188px,#df4749 188px 190px,#dc3436 190px 191px,#dd3e40 191px 193px,#dd3a3b 193px 194px,#e36061 194px 196px,#dc3739 196px 197px,#e04c4e 197px 199px,#dd3b3d 199px 200px,#e46466 200px 201px,#e15153 201px 202px,#d82224 202px 205px,#db3234 205px 207px,#df4749 207px 208px,#dd3d3f 208px 210px,#e15455 210px 212px,#dc3537 212px 214px,#e36061 214px 216px,#e15657 216px 218px,#e56c6d 218px 221px,#de4344 221px 224px,#d71b1d 224px 225px,#df4a4b 225px 227px,#e46768 227px 229px,#de4446 229px 231px,#e05051 231px 232px,#df4a4c 232px 234px,#df4647 234px 236px,#dc3638 236px 238px,#d61416 238px 240px,#d82123 240px 243px,#e15254 243px 245px,#dd3b3c 245px 246px,#e04e50 246px 247px,#d81d1f 247px 249px,#df4a4b 249px 251px,#df4748 251px 253px,#da2a2c 253px 254px,#dd3b3d 254px 255px,#db3234 255px 258px,#dc3435 258px 259px,#db3234 259px 261px,#e05051 261px 262px,#df494a 262px 264px,#dd3a3c 264px 267px,#dd3b3d 267px 268px,#e25b5c 268px 269px,#e15052 269px 271px,#db3032 271px 272px,#d82123 272px 273px,#e15657 273px 275px,#db3133 275px 276px,#df4547 276px 278px,#e15254 278px 280px,#e15253 280px 282px,#d61416 282px 283px,#e04e4f 283px 284px,#e35f60 284px 286px,#de4243 286px 289px,#dd3f40 289px 291px,#f2b2b3 291px 294px,#efa3a4 294px 295px,#e15556 295px 296px,#e04b4c 296px 298px,#de4345 298px 300px,#e04b4c 300px 302px,#e46465 302px 304px,#e35e5f 304px 307px,#db3133 307px 309px,#e35d5e 309px 311px,#e25759 311px 314px,#dd3d3f 314px 316px,#e46768 316px 319px,#e46264 319px 320px,#e56c6e 320px 322px,#de4042 322px 324px,#e25657 324px 326px,#df4547 326px 327px,#e46466 327px 329px,#e35c5d 329px 331px,#de4243 331px 333px,#e15354 333px 336px,#e04c4d 336px 339px,#e15455 339px 341px,#e15354 341px 344px,#e77778 344px 345px,#df4547 345px 348px,#de3f41 348px 350px,#de4344 350px 352px,#e46264 352px 354px,#e15355 354px 355px,#df4a4b 355px 358px,#dd3c3e 358px 359px,#e04e50 359px 362px,#df484a 362px 363px,#e67273 363px 364px,#dd393b 364px 366px,#de4345 366px 368px,#fbe7e8 368px 370px,#fbe9e9 370px 371px,#fae1e1 371px 372px,#fbeaea 372px 373px,#fbe6e6 373px 375px,#fdf3f3 375px 377px,#9a9af9 377px 378px,#9b9bf9 378px 380px,#8383f7 380px 382px,#d7d7fc 382px 384px,#9090f8 384px 387px,#6363f5 387px 389px,#8787f7 389px 390px,#7474f6 390px 392px,#7676f6 392px 394px,#8484f7 394px 395.3px)"></div>
<div class="hc" style="left:108.09px;top:363.2px;width:33.89px;height:395.3px;background:linear-gradient(#dd3c3d 0px 2px,#e15556 2px 4px,#e67071 4px 7px,#e25c5d 7px 9px,#e15253 9px 12px,#e56b6c 12px 14px,#dd3c3e 14px 15px,#e15556 15px 17px,#e05051 17px 18px,#e77475 18px 20px,#e25758 20px 22px,#e25658 22px 24px,#df4a4c 24px 27px,#e2595a 27px 29px,#e04f51 29px 32px,#e35e5f 32px 34px,#e04d4e 34px 35px,#e04c4d 35px 37px,#e67172 37px 38px,#e2595b 38px 41px,#e2585a 41px 43px,#e77778 43px 44px,#e77576 44px 46px,#de4143 46px 48px,#e36162 48px 49px,#e56c6d 49px 51px,#e66e6f 51px 52px,#e35f61 52px 53px,#e15253 53px 55px,#e15152 55px 56px,#e15153 56px 57px,#e35d5f 57px 59px,#e15456 59px 62px,#ec8f90 62px 64px,#e46364 64px 67px,#e67071 67px 69px,#e56a6c 69px 70px,#e35f60 70px 71px,#e15254 71px 72px,#e04f50 72px 75px,#e15253 75px 77px,#e04f51 77px 78px,#e56c6d 78px 79px,#df4748 79px 81px,#e35f60 81px 84px,#e25658 84px 87px,#e15657 87px 89px,#e2595b 89px 90px,#dc3638 90px 92px,#e2595a 92px 94px,#e15254 94px 96px,#e35e60 96px 98px,#e67071 98px 99px,#e35d5f 99px 102px,#e35f61 102px 103px,#e15152 103px 105px,#e25b5c 105px 106px,#e56869 106px 108px,#e77475 108px 109px,#e87d7e 109px 111px,#e56a6b 111px 113px,#e56b6d 113px 115px,#e25a5c 115px 118px,#e46566 118px 120px,#e25b5c 120px 122px,#e46263 122px 124px,#e04e4f 124px 126px,#e36162 126px 128px,#e67071 128px 130px,#e56a6c 130px 131px,#e35d5e 131px 134px,#e25759 134px 137px,#e36162 137px 138px,#e66f70 138px 139px,#e36162 139px 142px,#e15456 142px 144px,#e15556 144px 146px,#df4547 146px 148px,#e66e6f 148px 151px,#e36061 151px 153px,#e2595b 153px 156px,#e04f51 156px 158px,#e46566 158px 159px,#e25a5c 159px 161px,#e2595a 161px 162px,#e87b7d 162px 164px,#e35d5f 164px 166px,#e35e5f 166px 168px,#e04d4e 168px 170px,#e25859 170px 172px,#e46364 172px 174px,#e77576 174px 175px,#e56a6c 175px 176px,#e36162 176px 178px,#df4749 178px 180px,#e77879 180px 181px,#e56c6e 181px 183px,#e67071 183px 184px,#e05051 184px 185px,#df494a 185px 188px,#e25758 188px 190px,#e25759 190px 191px,#e15253 191px 193px,#df494b 193px 194px,#e77475 194px 196px,#e15557 196px 197px,#e67172 197px 199px,#e35d5f 199px 200px,#e97f81 200px 201px,#e66e6f 201px 202px,#dc3739 202px 205px,#e15153 205px 207px,#e15052 207px 208px,#e46364 208px 210px,#e56a6b 210px 212px,#df4749 212px 214px,#e77778 214px 216px,#e46667 216px 218px,#eb8f90 218px 221px,#e46667 221px 224px,#dc383a 224px 225px,#e5686a 225px 227px,#e56c6e 227px 229px,#e25a5c 229px 231px,#e46365 231px 232px,#e56869 232px 234px,#e36061 234px 236px,#e04e50 236px 238px,#db2e30 238px 240px,#de4446 240px 243px,#e46768 243px 245px,#df4a4b 245px 246px,#e77577 246px 247px,#e05051 247px 249px,#e66f70 249px 251px,#e5686a 251px 253px,#e15355 253px 254px,#e15052 254px 255px,#e04d4f 255px 258px,#e15556 258px 259px,#df4748 259px 261px,#e77374 261px 262px,#e35c5d 262px 264px,#e35f60 264px 266px,#e2595b 266px 267px,#e25758 267px 268px,#e67172 268px 269px,#e46667 269px 271px,#e25b5c 271px 272px,#e15253 272px 273px,#e66f70 273px 275px,#e15253 275px 276px,#e56769 276px 278px,#e67072 278px 282px,#db3234 282px 283px,#e56b6c 283px 284px,#e56c6d 284px 286px,#e46364 286px 289px,#e25759 289px 291px,#f1adae 291px 294px,#efa3a4 294px 295px,#e25a5c 295px 296px,#e04c4d 296px 298px,#dd3c3d 298px 300px,#df4749 300px 302px,#e67071 302px 304px,#e25758 304px 307px,#dd3c3e 307px 309px,#e46566 309px 311px,#e77374 311px 314px,#dc3536 314px 316px,#e46365 316px 319px,#e77577 319px 320px,#e46768 320px 322px,#df4a4c 322px 324px,#e46263 324px 326px,#e04c4d 326px 327px,#e77375 327px 329px,#e46364 329px 331px,#e15254 331px 333px,#e15455 333px 336px,#fbe9e9 336px 339px,#fbebeb 339px 341px,#fdf4f4 341px 344px,#f5f5fe 344px 345px,#aeaefa 345px 348px,#b1b1fa 348px 350px,#a2a2f9 350px 352px,#8282f7 352px 354px,#9595f8 354px 355px,#9696f8 355px 358px,#b4b4fa 358px 359px,#a3a3f9 359px 362px,#afaffa 362px 363px,#7b7bf7 363px 364px,#b1b1fa 364px 366px,#a8a8f9 366px 368px,#f9dddd 368px 370px,#fbe9e9 370px 371px,#fae0e0 371px 372px,#f9dbdb 372px 373px,#8a8af8 373px 375px,#8181f7 375px 377px,#8888f7 377px 378px,#8e8ef8 378px 380px,#6767f5 380px 382px,#6565f5 382px 384px,#a2a2f9 384px 387px,#8080f7 387px 389px,#8181f7 389px 390px,#7a7af6 390px 392px,#6c6cf6 392px 394px,#8989f7 394px 395.3px)"></div>
<div class="hc" style="left:141.68px;top:363.2px;width:33.89px;height:395.3px;background:linear-gradient(#df4749 0px 2px,#df484a 2px 4px,#e56869 4px 7px,#e46465 7px 9px,#e04b4c 9px 12px,#e56b6c 12px 14px,#de4042 14px 15px,#de3f41 15px 17px,#e04c4e 17px 18px,#e77374 18px 20px,#e2595a 20px 22px,#e25b5c 22px 24px,#de4142 24px 27px,#e15354 27px 29px,#de4142 29px 32px,#e25b5c 32px 34px,#df4647 34px 35px,#e04f51 35px 37px,#e56a6b 37px 38px,#e15657 38px 41px,#e25a5b 41px 43px,#e97f80 43px 44px,#e87b7c 44px 46px,#e35f60 46px 48px,#e35f61 48px 49px,#e56769 49px 51px,#e77475 51px 52px,#e56b6c 52px 53px,#e04e4f 53px 55px,#df4547 55px 56px,#e15456 56px 57px,#e25758 57px 59px,#e56b6c 59px 62px,#e97f80 62px 64px,#e46465 64px 67px,#e8797a 67px 69px,#e46566 69px 70px,#e56869 70px 71px,#e15657 71px 72px,#e04f50 72px 75px,#e15355 75px 77px,#e15253 77px 78px,#e67072 78px 79px,#e15052 79px 81px,#e35c5d 81px 83px,#e25b5d 83px 84px,#e15254 84px 87px,#e36062 87px 89px,#e15456 89px 90px,#dd3b3c 90px 92px,#e25b5c 92px 94px,#e35c5e 94px 96px,#e35f60 96px 98px,#e77476 98px 99px,#e56869 99px 102px,#e46364 102px 103px,#e15455 103px 105px,#e35e5f 105px 106px,#e67071 106px 108px,#e67172 108px 109px,#e56c6d 109px 111px,#e67273 111px 113px,#e8797a 113px 115px,#e35d5e 115px 118px,#e25a5b 118px 120px,#e56869 120px 122px,#e56769 122px 124px,#e04d4e 124px 126px,#e15556 126px 128px,#e46465 128px 130px,#e56c6e 130px 131px,#e5696a 131px 134px,#e35f60 134px 137px,#e66f71 137px 138px,#e15152 138px 139px,#e36162 139px 142px,#e04c4e 142px 144px,#e25658 144px 146px,#df4a4b 146px 148px,#e46567 148px 151px,#e35d5f 151px 153px,#e46163 153px 156px,#e15354 156px 158px,#e35e5f 158px 159px,#e46566 159px 161px,#e36163 161px 162px,#e77475 162px 164px,#e25758 164px 166px,#e56869 166px 168px,#e35d5e 168px 170px,#e04c4e 170px 172px,#e56769 172px 174px,#e66e70 174px 175px,#e67071 175px 176px,#e25b5c 176px 178px,#df4749 178px 180px,#e67172 180px 181px,#e46768 181px 183px,#e46365 183px 184px,#e25859 184px 185px,#e15253 185px 188px,#e25a5b 188px 190px,#e25758 190px 191px,#e25a5c 191px 193px,#de4143 193px 194px,#e77374 194px 196px,#e04d4e 196px 197px,#e35c5e 197px 199px,#e35f60 199px 200px,#e87a7b 200px 201px,#e67273 201px 202px,#dc393a 202px 205px,#e04c4e 205px 207px,#e35f61 207px 208px,#e46364 208px 210px,#e77375 210px 212px,#e04c4e 212px 214px,#e87b7c 214px 216px,#e46566 216px 218px,#ea8687 218px 221px,#e15152 221px 224px,#db2e30 224px 225px,#e46667 225px 227px,#e66e70 227px 229px,#e35f61 229px 231px,#e46465 231px 232px,#e35d5e 232px 234px,#e5696b 234px 236px,#e15152 236px 238px,#de4142 238px 240px,#de4445 240px 243px,#e67273 243px 245px,#e15455 245px 246px,#e46465 246px 247px,#dd3c3d 247px 249px,#e5696a 249px 251px,#e56768 251px 253px,#df4648 253px 254px,#e25859 254px 255px,#e15354 255px 258px,#e25759 258px 259px,#e25758 259px 261px,#e67273 261px 262px,#e2595b 262px 264px,#e04b4c 264px 266px,#e15657 266px 267px,#e35f60 267px 268px,#e56a6b 268px 269px,#e36162 269px 271px,#e15456 271px 272px,#e04c4e 272px 273px,#e56d6e 273px 275px,#e35c5e 275px 276px,#e46566 276px 278px,#e46465 278px 280px,#e67172 280px 282px,#da2d2f 282px 283px,#e67071 283px 284px,#e77576 284px 286px,#e15556 286px 289px,#e25b5c 289px 291px,#db3133 291px 294px,#d61517 294px 295px,#d7191b 295px 296px,#e04b4c 296px 298px,#de4345 298px 300px,#e15557 300px 302px,#e35d5f 302px 304px,#e2585a 304px 307px,#df4546 307px 309px,#e56b6d 309px 311px,#e66d6f 311px 314px,#de4042 314px 316px,#e56b6c 316px 319px,#e67172 319px 322px,#e04c4e 322px 324px,#e35c5e 324px 326px,#e2595a 326px 327px,#e77576 327px 329px,#e46566 329px 331px,#e04d4f 331px 333px,#e36162 333px 336px,#f9dddd 336px 339px,#f9dfdf 339px 341px,#fae3e3 341px 344px,#fffefe 344px 345px,#bfbffb 345px 348px,#cecefc 348px 350px,#b7b7fa 350px 352px,#9999f9 352px 354px,#b4b4fa 354px 355px,#bbbbfb 355px 358px,#c9c9fc 358px 359px,#bfbffb 359px 362px,#cacafc 362px 363px,#9d9df9 363px 364px,#cacafc 364px 366px,#b8b8fa 366px 368px,#fceeef 368px 370px,#fffefe 370px 371px,#fcf0f0 371px 372px,#fef7f7 372px 373px,#dd3b3d 373px 375px,#dd3a3c 375px 377px,#8989f7 377px 378px,#9999f8 378px 380px,#7b7bf7 380px 382px,#6767f5 382px 384px,#a0a0f9 384px 387px,#6f6ff6 387px 389px,#8a8af8 389px 390px,#7f7ff7 390px 392px,#7d7df7 392px 394px,#8888f7 394px 395.3px)"></div>
<div class="hc" style="left:175.28px;top:363.2px;width:33.89px;height:395.3px;background:linear-gradient(#ea8486 0px 2px,#e98081 2px 4px,#e87879 4px 7px,#e98384 7px 9px,#e97f80 9px 14px,#ea8788 14px 15px,#e66d6e 15px 17px,#e98485 17px 18px,#ea8788 18px 20px,#ed9899 20px 22px,#e98182 22px 24px,#e87b7c 24px 27px,#e98081 27px 29px,#e98182 29px 32px,#e67072 32px 34px,#ea8788 34px 35px,#ec9192 35px 37px,#f1b0b0 37px 38px,#eb8a8b 38px 41px,#ed999a 41px 43px,#f0abac 43px 44px,#f1aeaf 44px 48px,#eb8d8e 48px 49px,#e87c7d 49px 51px,#ee9c9d 51px 52px,#ed9a9b 52px 53px,#eb8d8e 53px 55px,#ed9798 55px 56px,#ec9394 56px 57px,#efa5a6 57px 59px,#efa3a4 59px 62px,#f0acac 62px 64px,#eb8d8e 64px 67px,#eb8a8b 67px 69px,#ee9c9d 69px 70px,#f1b0b1 70px 71px,#eb8c8d 71px 72px,#e87c7d 72px 75px,#ec9394 75px 77px,#ec9495 77px 78px,#eb8a8b 78px 79px,#ee9b9c 79px 81px,#ee9d9e 81px 83px,#e87b7c 83px 84px,#e77879 84px 87px,#f0a8a9 87px 89px,#e87c7d 89px 90px,#e98182 90px 92px,#f1b1b2 92px 94px,#ea8889 94px 96px,#f1afaf 96px 98px,#ec9091 98px 99px,#ed999a 99px 102px,#ec9192 102px 103px,#f0a6a7 103px 105px,#ee9c9d 105px 106px,#f2b2b3 106px 108px,#ec9192 108px 109px,#ed9898 109px 111px,#ea8788 111px 113px,#f3b9ba 113px 115px,#eb8e8f 115px 118px,#e77475 118px 120px,#ed999a 120px 122px,#f0a7a7 122px 124px,#ed9798 124px 126px,#ec9596 126px 128px,#f0a8a9 128px 130px,#eb8a8b 130px 131px,#eb8e8f 131px 134px,#ed9a9b 134px 137px,#ec9091 137px 138px,#efa3a3 138px 139px,#ec9495 139px 142px,#eb8f90 142px 144px,#efa3a4 144px 146px,#e97f80 146px 148px,#f3bcbc 148px 151px,#f0abac 151px 153px,#eb8b8c 153px 156px,#ea8586 156px 158px,#ee9d9d 158px 159px,#f0abac 159px 161px,#e97e80 161px 162px,#ed9899 162px 164px,#eb8f90 164px 166px,#ed999a 166px 168px,#ee9fa0 168px 170px,#ec9293 170px 172px,#f1b0b1 172px 174px,#f0a8a9 174px 175px,#ea8889 175px 176px,#ec8f90 176px 178px,#ec9293 178px 180px,#f1adad 180px 181px,#eea0a1 181px 183px,#eb8d8e 183px 184px,#eb8f90 184px 185px,#ec9293 185px 188px,#f1b1b2 188px 190px,#ee9c9d 190px 191px,#ed9899 191px 193px,#e97f80 193px 194px,#ed9798 194px 196px,#ec9595 196px 197px,#ea8485 197px 199px,#eea0a1 199px 200px,#e98182 200px 201px,#ed9a9b 201px 202px,#eb8e8f 202px 205px,#ea898a 205px 207px,#ed9b9b 207px 208px,#efa3a4 208px 210px,#ed9899 210px 212px,#eb8d8e 212px 214px,#ed9898 214px 216px,#f1afb0 216px 218px,#f2b2b3 218px 221px,#ec9293 221px 224px,#ed999a 224px 225px,#ec9596 225px 227px,#f2b3b3 227px 229px,#e98182 229px 231px,#ea8586 231px 232px,#ea8788 232px 234px,#efa1a2 234px 236px,#e87d7e 236px 238px,#e5696a 238px 240px,#e87d7e 240px 243px,#f2b5b6 243px 246px,#f0aaaa 246px 247px,#e97e80 247px 249px,#ed999a 249px 251px,#ec9495 251px 253px,#e87c7d 253px 254px,#f1aeae 254px 255px,#eb8d8e 255px 258px,#e87c7d 258px 259px,#ec9495 259px 261px,#ee9c9d 261px 262px,#ec9192 262px 264px,#eb8f90 264px 266px,#eb8b8c 266px 267px,#ec9091 267px 268px,#efa1a2 268px 269px,#ed9697 269px 271px,#eb8f8f 271px 272px,#ed9596 272px 273px,#ec9091 273px 275px,#ec9293 275px 276px,#e8797a 276px 278px,#ed999a 278px 280px,#eb8d8e 280px 282px,#ea8485 282px 283px,#ec9394 283px 284px,#ee9d9e 284px 286px,#f7d1d1 286px 289px,#f1aeae 289px 291px,#f4c0c0 291px 294px,#f4bfc0 294px 295px,#f2b7b7 295px 296px,#f5c8c9 296px 298px,#f5c4c4 298px 300px,#f3bbbc 300px 302px,#f8d6d7 302px 304px,#f6cece 304px 307px,#f2b4b5 307px 309px,#f6cacb 309px 311px,#f5c5c6 311px 314px,#f3bdbd 314px 316px,#f5c8c9 316px 319px,#f5c6c7 319px 320px,#fbe9ea 320px 322px,#f6c9c9 322px 324px,#f7d2d2 324px 326px,#f7d1d1 326px 327px,#fae3e3 327px 329px,#fef8f8 329px 331px,#fef9f9 331px 333px,#fbeaea 333px 336px,#e35c5e 336px 339px,#e87c7d 339px 341px,#e77375 341px 344px,#eb8f90 344px 345px,#e67273 345px 348px,#e67071 348px 350px,#e77576 350px 352px,#e97e7f 352px 354px,#e87c7d 354px 355px,#e36062 355px 358px,#e98485 358px 359px,#eb8e8f 359px 362px,#e67071 362px 363px,#e87c7d 363px 364px,#ea8586 364px 366px,#e77475 366px 368px,#fae1e1 368px 370px,#fceded 370px 371px,#fbe6e6 371px 372px,#fae5e5 372px 373px,#fcecec 373px 375px,#fef8f8 375px 377px,#fceeee 377px 378px,#fbe6e6 378px 380px,#fcf0f0 380px 382px,#fdf1f1 382px 384px,#f7d1d2 384px 387px,#fcefef 387px 389px,#fbe7e7 389px 390px,#fae3e3 390px 392px,#f9dedf 392px 394px,#f9dddd 394px 395.3px)"></div>
<div class="hc" style="left:208.87px;top:363.2px;width:33.89px;height:395.3px;background:linear-gradient(#e2e2fd 0px 2px,#e3e3fd 2px 4px,#eaeafe 4px 7px,#e2e2fd 7px 9px,#e0e0fd 9px 12px,#e3e3fd 12px 14px,#ddddfd 14px 15px,#f6f6fe 15px 17px,#dfdffd 17px 18px,#dedefd 18px 20px,#cacafc 20px 22px,#cecefc 22px 24px,#e4e4fd 24px 27px,#dcdcfd 27px 29px,#e0e0fd 29px 32px,#e8e8fe 32px 34px,#dedefd 34px 35px,#d3d3fc 35px 37px,#c7c7fb 37px 38px,#ededfe 38px 41px,#e3e3fd 41px 43px,#d8d8fc 43px 44px,#d6d6fc 44px 46px,#d4d4fc 46px 48px,#f3f3fe 48px 49px,#fbfbff 49px 51px,#d7d7fc 51px 52px,#ddddfd 52px 53px,#e1e1fd 53px 55px,#f0f0fe 55px 56px,#e0e0fd 56px 57px,#e8e8fe 57px 59px,#e2e2fd 59px 62px,#dfdffd 62px 64px,#ffffff 64px 67px,#fefeff 67px 69px,#fdfdff 69px 70px,#e3e3fd 70px 71px,#f8f8ff 71px 72px,#fdf3f3 72px 75px,#f8f8ff 75px 77px,#f9f9ff 77px 78px,#ffffff 78px 79px,#f9f9ff 79px 81px,#f4f4fe 81px 83px,#fefcfc 83px 84px,#fdf2f2 84px 87px,#f4f4fe 87px 89px,#fdf2f2 89px 90px,#fef9f9 90px 92px,#ddddfd 92px 94px,#fffcfd 94px 96px,#e8e8fe 96px 98px,#eaeafe 98px 99px,#f6f6fe 99px 102px,#fefeff 102px 103px,#efeffe 103px 105px,#e9e9fe 105px 106px,#e5e5fd 106px 108px,#f1f1fe 108px 109px,#f9f9ff 109px 111px,#fcfcff 111px 113px,#dfdffd 113px 115px,#fafaff 115px 118px,#fcfcff 118px 120px,#f4f4fe 120px 122px,#e0e0fd 122px 124px,#ededfe 124px 126px,#e3e3fd 126px 128px,#d5d5fc 128px 130px,#f6f6fe 130px 131px,#e8e8fe 131px 134px,#e9e9fe 134px 137px,#f4f4fe 137px 138px,#f0f0fe 138px 139px,#f6f6fe 139px 142px,#fdfdff 142px 144px,#e4e4fd 144px 146px,#dbdbfd 146px 148px,#aaaafa 148px 151px,#bbbbfb 151px 153px,#c5c5fb 153px 156px,#c9c9fc 156px 158px,#c2c2fb 158px 159px,#9d9df9 159px 161px,#c7c7fb 161px 162px,#c0c0fb 162px 164px,#dfdffd 164px 166px,#b6b6fa 166px 168px,#c4c4fb 168px 170px,#cacafc 170px 172px,#afaffa 172px 174px,#bcbcfb 174px 175px,#c0c0fb 175px 176px,#d4d4fc 176px 178px,#babafb 178px 180px,#aaaafa 180px 181px,#c2c2fb 181px 183px,#c0c0fb 183px 184px,#ccccfc 184px 185px,#cecefc 185px 188px,#acacfa 188px 190px,#c7c7fb 190px 191px,#f4f4fe 191px 193px,#f6f6fe 193px 194px,#f1f1fe 194px 196px,#f6f6fe 196px 197px,#fdfdff 197px 199px,#dfdffd 199px 200px,#ffffff 200px 201px,#ededfe 201px 202px,#fdfdff 202px 205px,#f7f7fe 205px 207px,#ededfe 207px 208px,#e4e4fd 208px 210px,#e7e7fd 210px 212px,#f6f6fe 212px 214px,#f5f5fe 214px 216px,#dcdcfd 216px 218px,#e2e2fd 218px 221px,#f2f2fe 221px 224px,#ececfe 224px 225px,#f2f2fe 225px 227px,#d7d7fc 227px 229px,#fafaff 229px 231px,#f6f6fe 231px 232px,#fafaff 232px 234px,#e9e9fe 234px 236px,#e2e2fd 236px 238px,#f8f8ff 238px 240px,#ebebfe 240px 243px,#b0b0fa 243px 245px,#babafb 245px 246px,#c0c0fb 246px 247px,#e2e2fd 247px 249px,#d7d7fc 249px 251px,#cdcdfc 251px 253px,#dfdffd 253px 254px,#c6c6fb 254px 255px,#d2d2fc 255px 258px,#fdf1f1 258px 259px,#f8f8ff 259px 261px,#f7f7fe 261px 262px,#f3f3fe 262px 264px,#fefeff 264px 266px,#fefbfb 266px 267px,#f2f2fe 267px 268px,#f5f5fe 268px 269px,#f8f8ff 269px 271px,#fcfcff 271px 272px,#f0f0fe 272px 273px,#a9a9fa 273px 275px,#a8a8f9 275px 276px,#b9b9fb 276px 278px,#a8a8f9 278px 280px,#b6b6fa 280px 282px,#fefcfc 282px 283px,#fbfbff 283px 284px,#7878f6 284px 286px,#6a6af5 286px 289px,#fceeee 289px 291px,#fdf1f1 291px 294px,#fdf3f3 294px 295px,#fffefe 295px 296px,#fdf5f5 296px 298px,#fbfbff 298px 300px,#fefbfb 300px 302px,#f2f2fe 302px 304px,#fcfcff 304px 307px,#fcf0f0 307px 309px,#fffefe 309px 314px,#fef8f8 314px 316px,#ffffff 316px 319px,#fdf6f6 319px 320px,#f4f4fe 320px 322px,#fefcfc 322px 324px,#f6f6fe 324px 326px,#ffffff 326px 327px,#8f8ff8 327px 329px,#9797f8 329px 331px,#8484f7 331px 333px,#9696f8 333px 336px,#fceeef 336px 339px,#fffdfd 339px 341px,#fdf5f5 341px 344px,#fefeff 344px 345px,#fef9f9 345px 348px,#fcf1f1 348px 350px,#fdf3f3 350px 352px,#ffffff 352px 354px,#fffdfd 354px 355px,#fbeaeb 355px 358px,#fefbfb 358px 359px,#fafaff 359px 362px,#fffdfd 362px 363px,#fcf0f1 363px 364px,#fef7f7 364px 366px,#f9ddde 366px 368px,#f0abab 368px 370px,#f4bdbe 370px 371px,#f1b0b1 371px 372px,#f2b4b5 372px 373px,#f3b9ba 373px 375px,#f7d2d2 375px 377px,#f5c7c8 377px 378px,#efa2a3 378px 380px,#f7d1d2 380px 382px,#fdf2f2 382px 384px,#f5c4c4 384px 387px,#fcecec 387px 389px,#fae2e2 389px 390px,#f8d7d7 390px 392px,#f7cfcf 392px 394px,#f9dcdc 394px 395.3px)"></div>
<div class="hc" style="left:242.46px;top:363.2px;width:33.89px;height:395.3px;background:linear-gradient(#d7d7fc 0px 2px,#e5e5fd 2px 4px,#dedefd 4px 7px,#c4c4fb 7px 9px,#d1d1fc 9px 12px,#d6d6fc 12px 14px,#d8d8fd 14px 15px,#e1e1fd 15px 17px,#dcdcfd 17px 18px,#d8d8fd 18px 20px,#c6c6fb 20px 22px,#d1d1fc 22px 24px,#cfcffc 24px 27px,#dcdcfd 27px 29px,#cfcffc 29px 32px,#dedefd 32px 34px,#ddddfd 34px 35px,#c3c3fb 35px 37px,#d0d0fc 37px 38px,#e4e4fd 38px 41px,#e6e6fd 41px 43px,#d9d9fd 43px 44px,#cfcffc 44px 48px,#f5f5fe 48px 49px,#fefeff 49px 51px,#d6d6fc 51px 52px,#cecefc 52px 53px,#efeffe 53px 55px,#e6e6fd 55px 56px,#e5e5fd 56px 57px,#eeeefe 57px 59px,#e9e9fe 59px 62px,#e4e4fd 62px 64px,#fffdfd 64px 67px,#ffffff 67px 69px,#f6f6fe 69px 70px,#e0e0fd 70px 71px,#fcfcff 71px 72px,#fdf4f5 72px 75px,#fefbfc 75px 77px,#f5f5fe 77px 78px,#fefeff 78px 79px,#f6f6fe 79px 81px,#f3f3fe 81px 83px,#fefbfb 83px 84px,#fdf3f3 84px 87px,#f7f7fe 87px 89px,#fcecec 89px 90px,#fefafa 90px 92px,#e2e2fd 92px 94px,#fdfdff 94px 96px,#e5e5fd 96px 98px,#f1f1fe 98px 99px,#ededfe 99px 102px,#fffefe 102px 103px,#efeffe 103px 105px,#e6e6fd 105px 106px,#e4e4fd 106px 108px,#f6f6fe 108px 109px,#fafaff 109px 111px,#f5f5fe 111px 113px,#dedefd 113px 115px,#f7f7fe 115px 118px,#fefbfb 118px 120px,#f0f0fe 120px 122px,#dfdffd 122px 126px,#e5e5fd 126px 128px,#dfdffd 128px 130px,#f3f3fe 130px 131px,#f5f5fe 131px 134px,#e8e8fe 134px 137px,#f6f6fe 137px 138px,#e9e9fe 138px 139px,#f7f7fe 139px 142px,#eeeefe 142px 144px,#ececfe 144px 146px,#cacafc 146px 148px,#9696f8 148px 151px,#a6a6f9 151px 153px,#bdbdfb 153px 156px,#c2c2fb 156px 158px,#b8b8fa 158px 159px,#9a9af9 159px 161px,#c6c6fb 161px 162px,#bebefb 162px 164px,#c0c0fb 164px 166px,#bbbbfb 166px 168px,#acacfa 168px 170px,#c0c0fb 170px 172px,#9f9ff9 172px 174px,#b5b5fa 174px 175px,#bfbffb 175px 176px,#cbcbfc 176px 178px,#bbbbfb 178px 180px,#a2a2f9 180px 181px,#b9b9fb 181px 183px,#babafb 183px 184px,#d3d3fc 184px 185px,#bebefb 185px 188px,#aeaefa 188px 190px,#b8b8fa 190px 191px,#e7e7fd 191px 193px,#e8e8fe 193px 194px,#ebebfe 194px 196px,#f8f8ff 196px 197px,#fffdfd 197px 199px,#e2e2fd 199px 200px,#fcfcff 200px 201px,#ececfe 201px 202px,#f0f0fe 202px 205px,#f5f5fe 205px 207px,#e3e3fd 207px 208px,#ededfe 208px 210px,#dcdcfd 210px 212px,#f6f6fe 212px 214px,#e9e9fe 214px 216px,#e4e4fd 216px 218px,#dbdbfd 218px 221px,#efeffe 221px 224px,#e4e4fd 224px 225px,#eaeafe 225px 227px,#d3d3fc 227px 229px,#fffefe 229px 231px,#f2f2fe 231px 232px,#ffffff 232px 234px,#dfdffd 234px 236px,#e7e7fd 236px 238px,#f2f2fe 238px 240px,#e7e7fd 240px 243px,#bbbbfb 243px 245px,#b7b7fa 245px 246px,#babafb 246px 247px,#e0e0fd 247px 249px,#c8c8fc 249px 251px,#d0d0fc 251px 253px,#dedefd 253px 254px,#bfbffb 254px 255px,#cdcdfc 255px 258px,#fceded 258px 259px,#f8f8ff 259px 261px,#f9f9ff 261px 262px,#ededfe 262px 264px,#fafaff 264px 266px,#fef8f8 266px 267px,#f4f4fe 267px 268px,#ececfe 268px 269px,#fbfbff 269px 271px,#f6f6fe 271px 272px,#f9f9ff 272px 273px,#9e9ef9 273px 275px,#b0b0fa 275px 276px,#b7b7fa 276px 278px,#acacfa 278px 280px,#b6b6fa 280px 282px,#fbfbff 282px 283px,#fcfcff 283px 284px,#b8b8fa 284px 286px,#c1c1fb 286px 289px,#fbe7e7 289px 291px,#fefbfb 291px 294px,#fcefef 294px 295px,#fef8f8 295px 296px,#fdf3f3 296px 298px,#fffefe 298px 300px,#fef9f9 300px 302px,#fcfcff 302px 304px,#f6f6fe 304px 307px,#fefafa 307px 311px,#fef9f9 311px 314px,#fceeee 314px 316px,#fbfbff 316px 319px,#fefbfb 319px 320px,#eeeefe 320px 322px,#fffefe 322px 324px,#fefeff 324px 326px,#fefbfb 326px 327px,#9898f8 327px 329px,#9393f8 329px 331px,#7c7cf7 331px 333px,#9595f8 333px 336px,#fae4e4 336px 339px,#fefcfc 339px 341px,#fdf4f4 341px 344px,#fffefe 344px 345px,#fceeee 345px 348px,#fdf2f2 348px 350px,#fdf1f1 350px 352px,#fef7f7 352px 354px,#fef9f9 354px 355px,#fae4e4 355px 358px,#fffdfd 358px 359px,#fefeff 359px 362px,#fffdfd 362px 363px,#fef9f9 363px 364px,#fdf3f3 364px 366px,#fceded 366px 368px,#eb8e8f 368px 370px,#ed9596 370px 371px,#ed9697 371px 372px,#ed9798 372px 373px,#ec9293 373px 375px,#f2b2b3 375px 377px,#ed9a9a 377px 378px,#ea8687 378px 380px,#efa5a5 380px 382px,#f7d2d2 382px 384px,#f0abac 384px 387px,#f6c9c9 387px 389px,#f3b9ba 389px 390px,#f4c2c3 390px 392px,#f2b2b2 392px 394px,#f3bdbe 394px 395.3px)"></div>
<div class="hc" style="left:276.05px;top:363.2px;width:33.89px;height:395.3px;background:linear-gradient(#f8d5d6 0px 2px,#fbebeb 2px 4px,#f7cfcf 4px 7px,#f4bfbf 7px 9px,#f1b1b2 9px 12px,#f8d8d8 12px 14px,#f9dedf 14px 15px,#fae5e5 15px 17px,#fceded 17px 18px,#f8d5d5 18px 20px,#f4c0c0 20px 22px,#ed9a9b 22px 24px,#eb8c8d 24px 27px,#f2b6b7 27px 29px,#ed999a 29px 32px,#ee9d9e 32px 34px,#f2b7b7 34px 35px,#efa4a5 35px 37px,#f1adae 37px 38px,#f0a8a9 38px 41px,#f2b4b4 41px 43px,#f0a9aa 43px 44px,#f5c8c9 44px 46px,#f5c7c7 46px 48px,#fae4e4 48px 49px,#f7d2d3 49px 51px,#f8d9da 51px 52px,#fbe8e8 52px 53px,#f6cacb 53px 55px,#f5c4c5 55px 56px,#f8d9d9 56px 57px,#f7cfd0 57px 59px,#fbe6e6 59px 62px,#fdf4f4 62px 64px,#fceeee 64px 67px,#f7d0d0 67px 69px,#f9dedf 69px 70px,#fbe9e9 70px 71px,#f6cccc 71px 72px,#f9dcdc 72px 75px,#f8d9d9 75px 77px,#f8d5d5 77px 78px,#f9dcdc 78px 79px,#fae1e2 79px 81px,#fbe8e8 81px 83px,#f8d8d9 83px 84px,#f7d0d0 84px 87px,#f5c5c6 87px 89px,#f7cfcf 89px 90px,#f8d4d5 90px 92px,#fceded 92px 94px,#f2b5b6 94px 96px,#f8d6d7 96px 98px,#fbe8e9 98px 99px,#f8d7d7 99px 102px,#f6cbcb 102px 103px,#fae1e2 103px 105px,#f8d5d5 105px 106px,#fef8f8 106px 108px,#f7cfcf 108px 109px,#fae4e4 109px 111px,#f8d5d5 111px 113px,#f9dede 113px 115px,#f7d3d4 115px 118px,#f1afaf 118px 120px,#f5c8c8 120px 122px,#fbe6e6 122px 124px,#f6cece 124px 126px,#f4c1c2 126px 128px,#fae2e3 128px 130px,#f8d5d6 130px 131px,#f5c8c9 131px 134px,#f2b6b7 134px 137px,#eeeefe 137px 138px,#e3e3fd 138px 139px,#fef9f9 139px 142px,#ffffff 142px 146px,#fffdfd 146px 148px,#fefeff 148px 151px,#fffefe 151px 153px,#fefbfb 153px 156px,#f5c3c4 156px 158px,#f8d6d6 158px 159px,#fae2e2 159px 161px,#fbe6e6 161px 162px,#fae0e1 162px 164px,#f9dcdc 164px 166px,#fae0e0 166px 168px,#fceeee 168px 170px,#f6cbcc 170px 172px,#f9dddd 172px 174px,#f6caca 174px 175px,#fbe9e9 175px 176px,#f7d2d2 176px 178px,#f6c9c9 178px 180px,#fbe9e9 180px 181px,#fae1e1 181px 183px,#f8d5d6 183px 184px,#f7d4d4 184px 185px,#f7d0d1 185px 188px,#f8d7d7 188px 190px,#f5c8c9 190px 191px,#f8dada 191px 193px,#f0abab 193px 194px,#f5c6c6 194px 196px,#f4bebf 196px 197px,#f3b8b9 197px 199px,#f4c2c2 199px 200px,#f7d1d2 200px 201px,#f8d7d8 201px 202px,#f2b3b4 202px 205px,#f6cece 205px 207px,#f5c8c9 207px 208px,#f4c3c3 208px 210px,#f9dedf 210px 212px,#e97f80 212px 214px,#ee9b9c 214px 216px,#efa2a3 216px 218px,#f1adae 218px 221px,#f5c6c7 221px 224px,#ea8586 224px 225px,#efa2a3 225px 227px,#ee9e9f 227px 229px,#ed9899 229px 231px,#ec8f90 231px 232px,#efa1a2 232px 234px,#ea8687 234px 236px,#f1adad 236px 238px,#efa3a4 238px 240px,#f0a8a8 240px 243px,#f6cdce 243px 245px,#f7d1d1 245px 246px,#f3baba 246px 247px,#ec9293 247px 249px,#f6cdcd 249px 251px,#f4c0c0 251px 253px,#f2b5b5 253px 254px,#f4c2c3 254px 255px,#f2b4b4 255px 258px,#f0a8a9 258px 259px,#f0aaab 259px 261px,#f6c9c9 261px 262px,#eb8d8e 262px 264px,#f0aaab 264px 266px,#e87c7e 266px 267px,#efa5a5 267px 268px,#ed9596 268px 269px,#ec9192 269px 271px,#ea8889 271px 272px,#ec9091 272px 273px,#eb8c8d 273px 275px,#e98081 275px 276px,#eb8e8f 276px 278px,#eb8c8d 278px 280px,#e98182 280px 282px,#ed9596 282px 283px,#efa0a1 283px 284px,#f1acad 284px 286px,#fdfdff 286px 289px,#fceeee 289px 294px,#f9dbdc 294px 295px,#fbe9e9 295px 296px,#fdf2f2 296px 298px,#f9dbdc 298px 300px,#fcf0f0 300px 302px,#fdfdff 302px 304px,#fcefef 304px 307px,#fefbfb 307px 311px,#fffcfc 311px 314px,#f9dcdd 314px 316px,#fdf4f4 316px 319px,#fefcfc 319px 320px,#fefafa 320px 322px,#fbe8e8 322px 324px,#f9dede 324px 326px,#fafaff 326px 327px,#fbfbff 327px 329px,#fef7f7 329px 331px,#fffefe 331px 333px,#fae5e5 333px 336px,#e25859 336px 339px,#e56869 339px 341px,#e98081 341px 344px,#ea8788 344px 345px,#e46364 345px 348px,#e97f80 348px 350px,#ec9394 350px 352px,#e36062 352px 354px,#e77475 354px 355px,#e46263 355px 358px,#e77374 358px 359px,#e77677 359px 362px,#e46667 362px 363px,#e5696a 363px 364px,#e66d6e 364px 366px,#e77576 366px 368px,#e9e9fe 368px 370px,#eeeefe 370px 371px,#f0f0fe 371px 372px,#fdfdff 372px 373px,#f9f9ff 373px 375px,#f4f4fe 375px 377px,#f5c8c8 377px 378px,#f3bcbc 378px 380px,#f5c8c9 380px 382px,#f5c8c8 382px 384px,#f2b7b8 384px 387px,#f3baba 387px 389px,#f2b5b6 389px 390px,#f3baba 390px 392px,#f4c0c1 392px 394px,#f3b8b9 394px 395.3px)"></div>
<div class="hc" style="left:309.64px;top:363.2px;width:33.89px;height:395.3px;background:linear-gradient(#e7e7fd 0px 2px,#cecefc 2px 4px,#ededfe 4px 7px,#fafaff 7px 9px,#fef8f8 9px 12px,#eaeafe 12px 14px,#d7d7fc 14px 15px,#dbdbfd 15px 17px,#d7d7fc 17px 18px,#ebebfe 18px 20px,#ffffff 20px 22px,#e7e7fd 22px 24px,#e5e5fd 24px 27px,#d8d8fd 27px 29px,#f3f3fe 29px 32px,#ececfe 32px 34px,#d9d9fd 34px 35px,#ececfe 35px 37px,#e9e9fe 37px 38px,#eeeefe 38px 41px,#e7e7fd 41px 43px,#eeeefe 43px 44px,#d2d2fc 44px 46px,#eeeefe 46px 48px,#e2e2fd 48px 49px,#efeffe 49px 51px,#e5e5fd 51px 52px,#cdcdfc 52px 53px,#eeeefe 53px 55px,#f4f4fe 55px 56px,#e9e9fe 56px 57px,#ebebfe 57px 59px,#cecefc 59px 62px,#bebefb 62px 64px,#d8d8fd 64px 67px,#e9e9fe 67px 69px,#e2e2fd 69px 70px,#cfcffc 70px 71px,#f9f9ff 71px 72px,#ddddfd 72px 75px,#e9e9fe 75px 77px,#f0f0fe 77px 78px,#e1e1fd 78px 79px,#dcdcfd 79px 81px,#d4d4fc 81px 83px,#e5e5fd 83px 84px,#ececfe 84px 87px,#efeffe 87px 89px,#e9e9fe 89px 90px,#e3e3fd 90px 92px,#e0e0fd 92px 94px,#ffffff 94px 96px,#e9e9fe 96px 98px,#d7d7fc 98px 99px,#e6e6fd 99px 102px,#e7e7fd 102px 103px,#e9e9fe 103px 105px,#eaeafe 105px 106px,#ccccfc 106px 108px,#f6f6fe 108px 109px,#d9d9fd 109px 111px,#eaeafe 111px 113px,#dfdffd 113px 115px,#e1e1fd 115px 118px,#fdfdff 118px 120px,#dadafd 120px 122px,#dbdbfd 122px 124px,#efeffe 124px 126px,#f3f3fe 126px 128px,#dbdbfd 128px 130px,#e4e4fd 130px 131px,#f3f3fe 131px 134px,#fbfbff 134px 137px,#dcdcfd 137px 138px,#cacafc 138px 139px,#f4f4fe 139px 142px,#e5e5fd 142px 144px,#eaeafe 144px 146px,#f0f0fe 146px 148px,#eaeafe 148px 151px,#e3e3fd 151px 153px,#f1f1fe 153px 156px,#a4a4f9 156px 158px,#9494f8 158px 159px,#7f7ff7 159px 161px,#e4e4fd 161px 162px,#f3f3fe 162px 164px,#e5e5fd 164px 166px,#e7e7fd 166px 168px,#e1e1fd 168px 170px,#fdfdff 170px 172px,#f2f2fe 172px 174px,#f5f5fe 174px 175px,#ddddfd 175px 176px,#f1f1fe 176px 178px,#fafaff 178px 180px,#dfdffd 180px 181px,#ededfe 181px 183px,#f5f5fe 183px 184px,#e1e1fd 184px 185px,#f4f4fe 185px 188px,#eaeafe 188px 190px,#ededfe 190px 191px,#e5e5fd 191px 193px,#f8f8ff 193px 194px,#e7e7fd 194px 196px,#ededfe 196px 197px,#fefeff 197px 199px,#f1f1fe 199px 200px,#e0e0fd 200px 201px,#e1e1fd 201px 202px,#fdfdff 202px 205px,#ececfe 205px 207px,#e7e7fd 207px 208px,#ececfe 208px 210px,#dcdcfd 210px 212px,#fdf6f6 212px 214px,#eeeefe 214px 216px,#ececfe 216px 218px,#ebebfe 218px 221px,#c3c3fb 221px 224px,#fefbfb 224px 225px,#e6e6fd 225px 227px,#e1e1fd 227px 229px,#f6f6fe 229px 231px,#f4f4fe 231px 234px,#fffdfd 234px 236px,#f6f6fe 236px 238px,#fdfdff 238px 240px,#fefeff 240px 243px,#e1e1fd 243px 245px,#dadafd 245px 246px,#ededfe 246px 247px,#fceeef 247px 249px,#dcdcfd 249px 251px,#d5d5fc 251px 253px,#f5f5fe 253px 254px,#e8e8fe 254px 255px,#f4f4fe 255px 258px,#f8f8ff 258px 259px,#fdfdff 259px 261px,#e2e2fd 261px 262px,#fcfcff 262px 264px,#dcdcfd 264px 266px,#fffefe 266px 267px,#e4e4fd 267px 268px,#f6f6fe 268px 269px,#f9f9ff 269px 271px,#f5f5fe 271px 272px,#f0f0fe 272px 273px,#ffffff 273px 275px,#fdf3f3 275px 276px,#f6f6fe 276px 278px,#f1f1fe 278px 280px,#fbfbff 280px 282px,#f1f1fe 282px 283px,#e3e3fd 283px 284px,#ddddfd 284px 286px,#e5e5fd 286px 289px,#eeeefe 289px 291px,#fefbfb 291px 294px,#fef8f8 294px 295px,#fefcfc 295px 296px,#e9e9fe 296px 298px,#ffffff 298px 300px,#f6f6fe 300px 302px,#d7d7fc 302px 304px,#ebebfe 304px 307px,#e2e2fd 307px 309px,#e8e8fe 309px 311px,#e5e5fd 311px 314px,#f9f9ff 314px 316px,#f6f6fe 316px 319px,#e3e3fd 319px 320px,#dbdbfd 320px 322px,#f4f4fe 322px 324px,#f1f1fe 324px 326px,#d8d8fd 326px 327px,#fffdfd 327px 329px,#fef6f7 329px 331px,#fdf4f4 331px 333px,#fbe6e6 333px 336px,#fae2e2 336px 339px,#f9dede 339px 341px,#fae4e4 341px 344px,#fefcfc 344px 345px,#f7d4d4 345px 348px,#fdf5f5 348px 350px,#f8f8ff 350px 352px,#f9dbdb 352px 354px,#fcebeb 354px 355px,#f9dcdd 355px 358px,#fcecec 358px 359px,#fcebeb 359px 362px,#fbe6e6 362px 363px,#f9dfe0 363px 364px,#fceeee 364px 366px,#fae4e4 366px 368px,#c8c8fb 368px 370px,#d0d0fc 370px 371px,#d3d3fc 371px 372px,#dfdffd 372px 373px,#f5c6c7 373px 375px,#f6cccd 375px 377px,#f7d0d0 377px 378px,#f7d3d3 378px 380px,#f7d4d4 380px 382px,#f9dadb 382px 384px,#f1adae 384px 387px,#f8d7d8 387px 389px,#f4bdbe 389px 390px,#f4c3c3 390px 392px,#f5c5c5 392px 394px,#f5c7c7 394px 395.3px)"></div>
<div class="hc" style="left:343.23px;top:363.2px;width:33.89px;height:395.3px;background:linear-gradient(#f0f0fe 0px 2px,#d0d0fc 2px 4px,#f2f2fe 4px 7px,#fafaff 7px 9px,#fef8f8 9px 12px,#e6e6fd 12px 14px,#dedefd 14px 15px,#d7d7fc 15px 17px,#d9d9fd 17px 18px,#dbdbfd 18px 20px,#f8f8ff 20px 22px,#e5e5fd 22px 24px,#ededfe 24px 27px,#d9d9fd 27px 29px,#f4f4fe 29px 32px,#e5e5fd 32px 34px,#dadafd 34px 35px,#ededfe 35px 37px,#e9e9fe 37px 38px,#e2e2fd 38px 41px,#e7e7fd 41px 43px,#ebebfe 43px 44px,#d0d0fc 44px 46px,#f4f4fe 46px 48px,#e5e5fd 48px 49px,#efeffe 49px 51px,#e4e4fd 51px 52px,#d6d6fc 52px 53px,#f0f0fe 53px 55px,#f1f1fe 55px 56px,#e4e4fd 56px 57px,#e6e6fd 57px 59px,#dedefd 59px 62px,#bcbcfb 62px 64px,#cdcdfc 64px 67px,#ddddfd 67px 69px,#dedefd 69px 70px,#cdcdfc 70px 71px,#f3f3fe 71px 72px,#e3e3fd 72px 75px,#e9e9fe 75px 77px,#f0f0fe 77px 78px,#d3d3fc 78px 79px,#ddddfd 79px 81px,#dbdbfd 81px 83px,#f1f1fe 83px 84px,#e9e9fe 84px 87px,#f6f6fe 87px 89px,#e4e4fd 89px 90px,#e2e2fd 90px 92px,#dbdbfd 92px 94px,#fdfdff 94px 96px,#e7e7fd 96px 98px,#d2d2fc 98px 99px,#e7e7fd 99px 102px,#f1f1fe 102px 103px,#e5e5fd 103px 105px,#eeeefe 105px 106px,#c2c2fb 106px 108px,#eeeefe 108px 109px,#dedefd 109px 111px,#dfdffd 111px 113px,#e1e1fd 113px 115px,#e3e3fd 115px 118px,#fef8f8 118px 120px,#dadafd 120px 122px,#d0d0fc 122px 124px,#e9e9fe 124px 126px,#efeffe 126px 128px,#d5d5fc 128px 130px,#ededfe 130px 131px,#ececfe 131px 134px,#ffffff 134px 137px,#dedefd 137px 138px,#c7c7fb 138px 139px,#f2f2fe 139px 142px,#f6f6fe 142px 144px,#ebebfe 144px 146px,#f1f1fe 146px 148px,#f0f0fe 148px 151px,#f4f4fe 151px 153px,#efeffe 153px 156px,#dedefd 156px 158px,#dadafd 158px 159px,#c2c2fb 159px 161px,#ededfe 161px 162px,#ebebfe 162px 164px,#e8e8fe 164px 166px,#e1e1fd 166px 168px,#e2e2fd 168px 170px,#f6f6fe 170px 172px,#ebebfe 172px 174px,#f3f3fe 174px 175px,#e3e3fd 175px 176px,#f5f5fe 176px 178px,#f0f0fe 178px 180px,#e1e1fd 180px 181px,#e9e9fe 181px 183px,#f6f6fe 183px 184px,#e9e9fe 184px 185px,#f5f5fe 185px 188px,#e3e3fd 188px 190px,#f2f2fe 190px 191px,#e3e3fd 191px 193px,#fbfbff 193px 194px,#efeffe 194px 196px,#f8f8ff 196px 197px,#f6f6fe 197px 199px,#f4f4fe 199px 200px,#e2e2fd 200px 201px,#ebebfe 201px 202px,#fefeff 202px 205px,#dedefd 205px 207px,#e8e8fe 207px 208px,#f1f1fe 208px 210px,#dcdcfd 210px 212px,#fdf6f6 212px 214px,#f5f5fe 214px 216px,#f3f3fe 216px 218px,#e6e6fd 218px 221px,#d5d5fc 221px 224px,#fdf4f5 224px 225px,#efeffe 225px 227px,#e6e6fd 227px 229px,#f9f9ff 229px 231px,#f7f7fe 231px 232px,#eaeafe 232px 234px,#ffffff 234px 236px,#fafaff 236px 240px,#fdfdff 240px 243px,#ebebfe 243px 245px,#dadafd 245px 246px,#ebebfe 246px 247px,#fcf0f0 247px 249px,#dadafd 249px 251px,#dedefd 251px 253px,#f3f3fe 253px 254px,#dedefd 254px 255px,#f9f9ff 255px 258px,#f8f8ff 258px 259px,#fcfcff 259px 261px,#e2e2fd 261px 262px,#fbfbff 262px 264px,#dcdcfd 264px 266px,#fdf3f3 266px 267px,#ececfe 267px 268px,#efeffe 268px 269px,#f9f9ff 269px 271px,#f1f1fe 271px 272px,#9898f8 272px 273px,#a3a3f9 273px 275px,#b8b8fa 275px 276px,#f0f0fe 276px 278px,#eaeafe 278px 280px,#ffffff 280px 282px,#eeeefe 282px 283px,#e4e4fd 283px 284px,#d4d4fc 284px 286px,#e5e5fd 286px 289px,#f6f6fe 289px 291px,#f0a9aa 291px 294px,#f2b3b4 294px 295px,#f1afb0 295px 296px,#e9e9fe 296px 298px,#fffefe 298px 300px,#f4f4fe 300px 302px,#dadafd 302px 304px,#e9e9fe 304px 307px,#e3e3fd 307px 309px,#e5e5fd 309px 311px,#ddddfd 311px 314px,#fffefe 314px 316px,#f1f1fe 316px 319px,#e2e2fd 319px 320px,#d6d6fc 320px 322px,#f6f6fe 322px 324px,#f2f2fe 324px 326px,#cacafc 326px 327px,#fffefe 327px 329px,#fdf2f2 329px 331px,#fdf4f4 331px 333px,#fbe9ea 333px 336px,#fae1e1 336px 339px,#f8d7d7 339px 341px,#fbe7e7 341px 344px,#fefbfb 344px 345px,#f8d8d9 345px 348px,#fceded 348px 350px,#f5f5fe 350px 352px,#f7d0d0 352px 354px,#fae2e2 354px 355px,#f8d6d7 355px 358px,#fceded 358px 359px,#fcefef 359px 362px,#f7d4d4 362px 363px,#fae4e4 363px 364px,#fbe5e6 364px 366px,#fbe6e7 366px 368px,#f1aeae 368px 370px,#f0a8a9 370px 371px,#f1acad 371px 372px,#efa2a3 372px 373px,#efa1a1 373px 375px,#ee9d9e 375px 377px,#f7d1d1 377px 378px,#f6cbcc 378px 380px,#f6cece 380px 382px,#f9dede 382px 384px,#f2b7b7 384px 387px,#f6cecf 387px 389px,#f4bfc0 389px 390px,#f3bdbd 390px 392px,#f4bdbe 392px 394px,#f4c0c0 394px 395.3px)"></div>
<div class="hc" style="left:376.83px;top:363.2px;width:33.89px;height:395.3px;background:linear-gradient(#f6f6fe 0px 2px,#fafaff 2px 4px,#f6f6fe 4px 7px,#fdf3f3 7px 9px,#fae0e0 9px 12px,#fbfbff 12px 14px,#ffffff 14px 15px,#fdf2f3 15px 17px,#fffefe 17px 18px,#e9e9fe 18px 20px,#fefeff 20px 22px,#fae5e5 22px 24px,#f9dddd 24px 27px,#fae5e5 27px 29px,#fdf3f3 29px 32px,#f9dede 32px 34px,#f5c5c6 34px 35px,#fdf3f4 35px 37px,#fae2e3 37px 38px,#fdf1f1 38px 41px,#f9dedf 41px 43px,#fefeff 43px 44px,#f9f9ff 44px 46px,#dedefd 46px 48px,#e5e5fd 48px 49px,#ececfe 49px 51px,#bbbbfb 51px 52px,#dcdcfd 52px 53px,#dedefd 53px 55px,#e7e7fd 55px 56px,#dadafd 56px 57px,#dcdcfd 57px 59px,#dedefd 59px 62px,#c6c6fb 62px 64px,#e7e7fd 64px 67px,#eaeafe 67px 69px,#e0e0fd 69px 70px,#dadafd 70px 71px,#dedefd 71px 72px,#e4e4fd 72px 75px,#c7c7fb 75px 77px,#e6e6fd 77px 78px,#d5d5fc 78px 79px,#d2d2fc 79px 81px,#e6e6fd 81px 83px,#babafb 83px 84px,#e0e0fd 84px 87px,#d5d5fc 87px 89px,#dcdcfd 89px 90px,#d8d8fc 90px 92px,#bbbbfb 92px 94px,#dbdbfd 94px 96px,#d5d5fc 96px 98px,#c7c7fb 98px 99px,#c9c9fc 99px 102px,#d3d3fc 102px 103px,#cecefc 103px 106px,#d4d4fc 106px 108px,#cbcbfc 108px 109px,#c5c5fb 109px 111px,#e8e8fe 111px 113px,#dcdcfd 113px 115px,#cdcdfc 115px 118px,#e4e4fd 118px 122px,#e0e0fd 122px 124px,#efeffe 124px 126px,#e9e9fe 126px 128px,#e3e3fd 128px 130px,#ddddfd 130px 131px,#d1d1fc 131px 134px,#d8d8fd 134px 137px,#e1e1fd 137px 138px,#d1d1fc 138px 139px,#f3f3fe 139px 142px,#e8e8fe 142px 144px,#e4e4fd 144px 146px,#dedefd 146px 148px,#d8d8fd 148px 151px,#e4e4fd 151px 153px,#cfcffc 153px 156px,#e3e3fd 156px 158px,#d9d9fd 158px 159px,#d8d8fd 159px 161px,#dbdbfd 161px 164px,#e2e2fd 164px 166px,#dadafd 166px 168px,#b8b8fa 168px 170px,#ddddfd 170px 172px,#c3c3fb 172px 174px,#cdcdfc 174px 175px,#d5d5fc 175px 176px,#e7e7fd 176px 178px,#d7d7fc 178px 180px,#d3d3fc 180px 181px,#c5c5fb 181px 183px,#d5d5fc 183px 184px,#e1e1fd 184px 185px,#bcbcfb 185px 188px,#dadafd 188px 190px,#cecefc 190px 191px,#fef8f8 191px 193px,#fcfcff 193px 194px,#fbfbff 194px 196px,#fffefe 196px 197px,#fdf3f3 197px 199px,#fdf6f6 199px 200px,#f5f5fe 200px 201px,#fafaff 201px 202px,#fefbfb 202px 205px,#fffdfd 205px 207px,#f6f6fe 207px 208px,#f7f7fe 208px 210px,#eaeafe 210px 212px,#fceff0 212px 214px,#ffffff 214px 216px,#fffefe 216px 218px,#f5f5fe 218px 221px,#f8d4d5 221px 224px,#f2b2b3 224px 225px,#f1b1b2 225px 227px,#f7d4d4 227px 229px,#f3bdbd 229px 231px,#f4c1c1 231px 232px,#f5c8c8 232px 234px,#f5c4c5 234px 236px,#f7cfd0 236px 238px,#f0a8a9 238px 240px,#f2b5b6 240px 243px,#f7d1d2 243px 245px,#f1afaf 245px 246px,#f5c7c7 246px 247px,#f0a8a9 247px 249px,#f4bebe 249px 251px,#f9dfdf 251px 253px,#f4bfc0 253px 254px,#f5c8c8 254px 255px,#f3bbbc 255px 258px,#f7d1d1 258px 259px,#f7d3d4 259px 261px,#fcf0f0 261px 262px,#f7d4d4 262px 264px,#f9dcdd 264px 266px,#f4c0c1 266px 267px,#f4c0c0 267px 268px,#fbe9e9 268px 269px,#f4c0c0 269px 271px,#fae0e0 271px 272px,#f3bcbd 272px 273px,#f7d0d1 273px 275px,#f7d4d4 275px 276px,#f4c1c2 276px 278px,#f7d0d0 278px 280px,#f5c8c9 280px 282px,#f1afb0 282px 283px,#f8d6d6 283px 284px,#fae4e4 284px 286px,#d7d7fc 286px 289px,#dedefd 289px 291px,#e3e3fd 291px 294px,#ebebfe 294px 295px,#d6d6fc 295px 296px,#d3d3fc 296px 298px,#dcdcfd 298px 300px,#d9d9fd 300px 302px,#d8d8fd 302px 304px,#dfdffd 304px 307px,#dadafd 307px 309px,#e0e0fd 309px 311px,#dedefd 311px 314px,#e2e2fd 314px 316px,#d6d6fc 316px 319px,#d2d2fc 319px 320px,#cfcffc 320px 322px,#d7d7fc 322px 324px,#dbdbfd 324px 326px,#dfdffd 326px 327px,#d3d3fc 327px 329px,#d2d2fc 329px 331px,#d3d3fc 331px 333px,#ccccfc 333px 336px,#e97f80 336px 341px,#e98283 341px 344px,#eb8f90 344px 345px,#ec9192 345px 350px,#eb8a8b 350px 352px,#e87c7d 352px 354px,#efa4a5 354px 355px,#e77678 355px 358px,#ee9c9d 358px 359px,#e98384 359px 362px,#e56a6c 362px 363px,#efa2a3 363px 364px,#ec9494 364px 366px,#ea8788 366px 368px,#a7a7f9 368px 370px,#9f9ff9 370px 371px,#c0c0fb 371px 372px,#afaffa 372px 373px,#b8b8fa 373px 375px,#8080f7 375px 377px,#ee9b9c 377px 378px,#e97f81 378px 380px,#eb8b8c 380px 382px,#efa6a7 382px 384px,#e56869 384px 387px,#ee9fa0 387px 389px,#ed9798 389px 390px,#ec9091 390px 392px,#e98081 392px 394px,#ec9495 394px 395.3px)"></div>
<div class="hc" style="left:410.42px;top:363.2px;width:33.89px;height:395.3px;background:linear-gradient(#c0c0fb 0px 2px,#cacafc 2px 4px,#c3c3fb 4px 7px,#dadafd 7px 9px,#e5e5fd 9px 12px,#adadfa 12px 14px,#b2b2fa 14px 15px,#c7c7fb 15px 17px,#b2b2fa 17px 18px,#9494f8 18px 20px,#a0a0f9 20px 22px,#a9a9fa 22px 24px,#c4c4fb 24px 27px,#bdbdfb 27px 29px,#a2a2f9 29px 32px,#b7b7fa 32px 34px,#cacafc 34px 35px,#9e9ef9 35px 37px,#b4b4fa 37px 38px,#9e9ef9 38px 41px,#bbbbfb 41px 43px,#9999f8 43px 44px,#8c8cf8 44px 46px,#afaffa 46px 48px,#b0b0fa 48px 49px,#cfcffc 49px 51px,#8b8bf8 51px 52px,#a0a0f9 52px 53px,#a5a5f9 53px 55px,#c3c3fb 55px 56px,#a5a5f9 56px 57px,#a8a8f9 57px 59px,#a4a4f9 59px 62px,#9e9ef9 62px 64px,#b3b3fa 64px 67px,#b2b2fa 67px 69px,#bbbbfb 69px 70px,#acacfa 70px 71px,#b9b9fb 71px 72px,#ababfa 72px 75px,#9a9af9 75px 77px,#c1c1fb 77px 78px,#a7a7f9 78px 79px,#a9a9fa 79px 81px,#b3b3fa 81px 83px,#9898f8 83px 84px,#a9a9f9 84px 87px,#9f9ff9 87px 89px,#ababfa 89px 90px,#a2a2f9 90px 92px,#9090f8 92px 94px,#b5b5fa 94px 96px,#9595f8 96px 98px,#8383f7 98px 99px,#8181f7 99px 102px,#8a8af8 102px 103px,#8585f7 103px 105px,#9696f8 105px 106px,#8888f7 106px 108px,#8989f7 108px 109px,#7b7bf7 109px 111px,#a3a3f9 111px 113px,#9c9cf9 113px 115px,#8b8bf8 115px 118px,#b0b0fa 118px 120px,#9898f8 120px 122px,#8e8ef8 122px 124px,#afaffa 124px 126px,#9494f8 126px 128px,#a2a2f9 128px 130px,#9898f8 130px 131px,#9494f8 131px 134px,#8f8ff8 134px 137px,#bebefb 137px 138px,#adadfa 138px 139px,#d5d5fc 139px 142px,#b7b7fa 142px 144px,#c1c1fb 144px 146px,#b9b9fb 146px 148px,#a7a7f9 148px 151px,#adadfa 151px 153px,#a8a8f9 153px 156px,#d1d1fc 156px 158px,#dcdcfd 158px 159px,#dadafd 159px 161px,#d9d9fd 161px 162px,#d4d4fc 162px 164px,#e0e0fd 164px 166px,#dbdbfd 166px 168px,#babafb 168px 170px,#dbdbfd 170px 172px,#bcbcfb 172px 174px,#c1c1fb 174px 175px,#d1d1fc 175px 176px,#e0e0fd 176px 178px,#d8d8fd 178px 180px,#dcdcfd 180px 181px,#c9c9fc 181px 183px,#d3d3fc 183px 184px,#dfdffd 184px 185px,#c1c1fb 185px 188px,#dadafd 188px 190px,#c6c6fb 190px 191px,#a1a1f9 191px 193px,#9494f8 193px 194px,#9292f8 194px 197px,#9898f8 197px 199px,#9e9ef9 199px 200px,#8383f7 200px 201px,#8787f7 201px 202px,#a1a1f9 202px 205px,#8e8ef8 205px 207px,#8080f7 207px 208px,#8787f7 208px 210px,#7979f6 210px 212px,#acacfa 212px 214px,#a6a6f9 214px 216px,#9595f8 216px 218px,#7c7cf7 218px 221px,#b5b5fa 221px 224px,#d3d3fc 224px 225px,#c1c1fb 225px 227px,#b3b3fa 227px 229px,#c5c5fb 229px 231px,#c4c4fb 231px 232px,#bebefb 232px 234px,#b7b7fa 234px 236px,#acacfa 236px 238px,#d1d1fc 238px 240px,#bfbffb 240px 243px,#a3a3f9 243px 245px,#d2d2fc 245px 246px,#b0b0fa 246px 247px,#cecefc 247px 249px,#ccccfc 249px 251px,#a6a6f9 251px 253px,#babafb 253px 254px,#afaffa 254px 255px,#c0c0fb 255px 258px,#a9a9fa 258px 259px,#b3b3fa 259px 261px,#9b9bf9 261px 262px,#4e4ef4 262px 266px,#5c5cf5 266px 267px,#d0d0fc 267px 268px,#9898f8 268px 269px,#dadafd 269px 271px,#bcbcfb 271px 272px,#dcdcfd 272px 273px,#c7c7fb 273px 275px,#c0c0fb 275px 276px,#d0d0fc 276px 278px,#c6c6fb 278px 280px,#cbcbfc 280px 282px,#d9d9fd 282px 283px,#c4c4fb 283px 284px,#aaaafa 284px 286px,#c3c3fb 286px 289px,#bbbbfb 289px 291px,#b7b7fa 291px 294px,#d7d7fc 294px 295px,#bebefb 295px 296px,#dcdcfd 296px 298px,#e4e4fd 298px 300px,#e3e3fd 300px 302px,#ddddfd 302px 304px,#dadafd 304px 307px,#d0d0fc 307px 309px,#e8e8fe 309px 311px,#e1e1fd 311px 314px,#f2f2fe 314px 316px,#e1e1fd 316px 319px,#dbdbfd 319px 320px,#d1d1fc 320px 322px,#dfdffd 322px 324px,#e4e4fd 324px 326px,#dbdbfd 326px 327px,#f6f6fe 327px 329px,#f4f4fe 329px 331px,#eaeafe 331px 333px,#e1e1fd 333px 336px,#9b9bf9 336px 339px,#9999f8 339px 341px,#9797f8 341px 344px,#9d9df9 344px 345px,#8f8ff8 345px 348px,#9696f8 348px 350px,#9393f8 350px 352px,#a2a2f9 352px 354px,#8585f7 354px 355px,#9f9ff9 355px 358px,#8787f7 358px 359px,#9999f8 359px 362px,#a7a7f9 362px 363px,#7b7bf7 363px 364px,#8f8ff8 364px 366px,#9595f8 366px 368px,#f3f3fe 368px 370px,#e2e2fd 370px 371px,#fef7f7 371px 372px,#f8f8ff 372px 373px,#fcfcff 373px 375px,#d3d3fc 375px 377px,#ec9293 377px 378px,#e98283 378px 380px,#eb8d8e 380px 382px,#efa2a3 382px 384px,#e56b6d 384px 387px,#ed9697 387px 389px,#f1b0b1 389px 390px,#eb8d8d 390px 392px,#e77475 392px 394px,#ec9596 394px 395.3px)"></div>
<div class="hc" style="left:444.01px;top:363.2px;width:33.59px;height:395.3px;background:linear-gradient(#b6b6fa 0px 4px,#c2c2fb 4px 7px,#cdcdfc 7px 9px,#e8e8fe 9px 12px,#a2a2f9 12px 14px,#b0b0fa 14px 15px,#b6b6fa 15px 17px,#adadfa 17px 18px,#8585f7 18px 20px,#9797f8 20px 22px,#b1b1fa 22px 24px,#b4b4fa 24px 27px,#bdbdfb 27px 29px,#a4a4f9 29px 32px,#b7b7fa 32px 34px,#c6c6fb 34px 35px,#9d9df9 35px 37px,#b7b7fa 37px 38px,#9c9cf9 38px 41px,#b9b9fb 41px 43px,#9191f8 43px 44px,#8282f7 44px 46px,#afaffa 46px 48px,#b7b7fa 48px 49px,#cacafc 49px 51px,#8484f7 51px 52px,#a0a0f9 52px 53px,#ababfa 53px 55px,#c1c1fb 55px 56px,#a0a0f9 56px 57px,#aaaafa 57px 59px,#aeaefa 59px 62px,#8c8cf8 62px 64px,#aeaefa 64px 67px,#bbbbfb 67px 69px,#a6a6f9 69px 70px,#a8a8f9 70px 71px,#b6b6fa 71px 72px,#a8a8f9 72px 75px,#9898f8 75px 77px,#aeaefa 77px 78px,#9393f8 78px 79px,#a6a6f9 79px 81px,#acacfa 81px 83px,#8d8df8 83px 84px,#acacfa 84px 87px,#9898f8 87px 89px,#a5a5f9 89px 90px,#9c9cf9 90px 92px,#8282f7 92px 94px,#b1b1fa 94px 96px,#8989f7 96px 98px,#7f7ff7 98px 99px,#8e8ef8 99px 102px,#8c8cf8 102px 103px,#8383f7 103px 105px,#8b8bf8 105px 106px,#9090f8 106px 108px,#8383f7 108px 109px,#8181f7 109px 111px,#a4a4f9 111px 113px,#9696f8 113px 115px,#9393f8 115px 118px,#b0b0fa 118px 120px,#9c9cf9 120px 122px,#9292f8 122px 124px,#babafb 124px 126px,#9797f8 126px 128px,#9b9bf9 128px 130px,#9e9ef9 130px 131px,#9595f8 131px 134px,#8888f7 134px 137px,#b8b8fa 137px 138px,#afaffa 138px 139px,#cbcbfc 139px 142px,#aeaefa 142px 144px,#babafb 144px 146px,#aeaefa 146px 148px,#a0a0f9 148px 151px,#b9b9fb 151px 153px,#9d9df9 153px 156px,#cdcdfc 156px 158px,#d2d2fc 158px 159px,#e6e6fd 159px 161px,#d8d8fd 161px 162px,#d0d0fc 162px 164px,#dfdffd 164px 166px,#dcdcfd 166px 168px,#bfbffb 168px 170px,#e2e2fd 170px 172px,#c2c2fb 172px 174px,#b7b7fa 174px 175px,#d8d8fd 175px 176px,#e4e4fd 176px 178px,#dedefd 178px 180px,#dcdcfd 180px 181px,#cbcbfc 181px 183px,#d3d3fc 183px 184px,#e6e6fd 184px 185px,#c3c3fb 185px 188px,#d9d9fd 188px 190px,#c8c8fc 190px 191px,#9292f8 191px 193px,#8888f7 193px 194px,#7d7df7 194px 196px,#9a9af9 196px 197px,#9595f8 197px 199px,#9999f9 199px 200px,#7a7af6 200px 201px,#8585f7 201px 202px,#8d8df8 202px 205px,#8585f7 205px 207px,#7070f6 207px 208px,#7f7ff7 208px 210px,#7676f6 210px 212px,#9b9bf9 212px 214px,#9494f8 214px 216px,#8f8ff8 216px 218px,#7171f6 218px 221px,#adadfa 221px 224px,#d2d2fc 224px 225px,#c7c7fb 225px 227px,#aeaefa 227px 229px,#b6b6fa 229px 231px,#bebefb 231px 232px,#babafb 232px 234px,#adadfa 234px 236px,#b7b7fa 236px 238px,#d1d1fc 238px 240px,#cdcdfc 240px 243px,#a4a4f9 243px 245px,#c6c6fb 245px 246px,#a1a1f9 246px 247px,#d0d0fc 247px 249px,#c7c7fb 249px 251px,#a0a0f9 251px 253px,#c6c6fb 253px 254px,#bebefb 254px 255px,#c5c5fb 255px 258px,#b3b3fa 258px 259px,#b1b1fa 259px 261px,#9f9ff9 261px 262px,#a6a6f9 262px 264px,#a9a9fa 264px 266px,#b2b2fa 266px 267px,#cdcdfc 267px 268px,#a2a2f9 268px 269px,#ccccfc 269px 271px,#b7b7fa 271px 272px,#d8d8fc 272px 273px,#c5c5fb 273px 275px,#c0c0fb 275px 276px,#c6c6fb 276px 278px,#cdcdfc 278px 280px,#ccccfc 280px 282px,#dbdbfd 282px 283px,#c9c9fc 283px 284px,#ababfa 284px 286px,#ccccfc 286px 289px,#c4c4fb 289px 291px,#bfbffb 291px 294px,#d1d1fc 294px 295px,#bdbdfb 295px 296px,#dadafd 296px 298px,#dedefd 298px 300px,#dbdbfd 300px 302px,#dfdffd 302px 304px,#d8d8fc 304px 307px,#cfcffc 307px 309px,#e1e1fd 309px 311px,#d7d7fc 311px 314px,#eeeefe 314px 316px,#e3e3fd 316px 319px,#e1e1fd 319px 320px,#d5d5fc 320px 322px,#e6e6fd 322px 324px,#eaeafe 324px 326px,#dedefd 326px 327px,#f0f0fe 327px 329px,#f5f5fe 329px 331px,#ececfe 331px 333px,#e2e2fd 333px 336px,#b8b8fa 336px 339px,#bebefb 339px 341px,#ababfa 341px 344px,#b2b2fa 344px 345px,#b1b1fa 345px 348px,#a9a9fa 348px 350px,#b1b1fa 350px 352px,#babafb 352px 354px,#9b9bf9 354px 355px,#b9b9fb 355px 358px,#adadfa 358px 359px,#b0b0fa 359px 362px,#b8b8fa 362px 363px,#9797f8 363px 364px,#b0b0fa 364px 366px,#a8a8f9 366px 368px,#efa1a2 368px 370px,#f2b3b4 370px 371px,#ec8f90 371px 372px,#efa1a2 372px 373px,#ed9a9b 373px 375px,#f5c4c5 375px 377px,#ed9899 377px 378px,#eb8a8b 378px 380px,#ed9a9b 380px 382px,#ee9f9f 382px 384px,#e56768 384px 387px,#ed9697 387px 389px,#efa6a7 389px 390px,#ea8889 390px 392px,#ea8485 392px 394px,#ea8687 394px 395.3px)"></div>
<div class="hc" style="left:74.10px;top:808.9px;width:45.13px;height:371.8px;background:linear-gradient(#adadfa 0px 2px,#9191f8 2px 4px,#9c9cf9 4px 7px,#6c6cf6 7px 10px,#8686f7 10px 11px,#7474f6 11px 14px,#5353f4 14px 15px,#7272f6 15px 18px,#5656f4 18px 19px,#8b8bf8 19px 20px,#bdbdfb 20px 23px,#fcfcff 23px 26px,#a4a4f9 26px 27px,#9292f8 27px 28px,#7272f6 28px 29px,#7979f6 29px 31px,#6a6af5 31px 32px,#9090f8 32px 35px,#7c7cf7 35px 37px,#6060f5 37px 38px,#2d2df2 38px 40px,#6f6ff6 40px 41px,#bbbbfb 41px 44px,#7272f6 44px 46px,#6464f5 46px 49px,#4949f3 49px 50px,#7c7cf7 50px 51px,#6c6cf6 51px 53px,#a2a2f9 53px 55px,#a4a4f9 55px 58px,#d1d1fc 58px 60px,#9999f9 60px 61px,#7070f6 61px 63px,#8080f7 63px 65px,#9a9af9 65px 66px,#8080f7 66px 68px,#9f9ff9 68px 70px,#8b8bf8 70px 72px,#8080f7 72px 74px,#4b4bf4 74px 77px,#7474f6 77px 79px,#d1d1fc 79px 81px,#8b8bf8 81px 84px,#9898f8 84px 86px,#9494f8 86px 89px,#9c9cf9 89px 90px,#d7d7fc 90px 92px,#c4c4fb 92px 94px,#b5b5fa 94px 97px,#e5e5fd 97px 99px,#f1f1fe 99px 102px,#d3d3fc 102px 104px,#9b9bf9 104px 106px,#8585f7 106px 108px,#bcbcfb 108px 111px,#a1a1f9 111px 112px,#8282f7 112px 114px,#8484f7 114px 117px,#9797f8 117px 120px,#5d5df5 120px 122px,#bcbcfb 122px 124px,#f3b7b8 124px 125px,#f4c0c1 125px 127px,#f2b7b7 127px 128px,#f6cdce 128px 129px,#f3b8b8 129px 131px,#f3baba 131px 133px,#e9e9fe 133px 135px,#f0f0fe 135px 137px,#fef7f7 137px 139px,#fdf2f2 139px 141px,#fdfdff 141px 143px,#f0f0fe 143px 145px,#e3e3fd 145px 147px,#ea8687 147px 148px,#f0a6a7 148px 150px,#efa1a2 150px 152px,#ec9394 152px 154px,#ee9c9d 154px 155px,#e87d7e 155px 157px,#efa4a4 157px 158px,#ee9e9f 158px 159px,#f0a9aa 159px 162px,#e87c7d 162px 164px,#ec9293 164px 165px,#ea8687 165px 166px,#e77778 166px 168px,#ee9fa0 168px 171px,#ea8889 171px 174px,#ee9e9e 174px 176px,#ee9c9c 176px 178px,#ed9b9c 178px 179px,#ea8788 179px 182px,#ec9394 182px 184px,#efa4a5 184px 185px,#efa0a1 185px 186px,#ed9798 186px 187px,#ee9d9e 187px 189px,#ec9090 189px 192px,#fcebeb 192px 194px,#e67173 194px 197px,#e35d5e 197px 199px,#ee9d9e 199px 200px,#e56869 200px 203px,#e67071 203px 205px,#9f9ff9 205px 208px,#8f8ff8 208px 210px,#7a7af6 210px 212px,#d3d3fc 212px 213px,#f3f3fe 213px 216px,#f6f6fe 216px 219px,#fbfbff 219px 221px,#eeeefe 221px 223px,#f9f9ff 223px 226px,#6969f5 226px 229px,#7272f6 229px 230px,#5b5bf5 230px 233px,#6b6bf6 233px 235px,#e56769 235px 236px,#e98182 236px 239px,#e56869 239px 241px,#e8797a 241px 242px,#e35f60 242px 244px,#e87b7c 244px 245px,#e87c7d 245px 247px,#e25658 247px 250px,#ec9293 250px 252px,#e77576 252px 253px,#ea8485 253px 255px,#eb8d8e 255px 257px,#e8797a 257px 260px,#ea898a 260px 262px,#ec9091 262px 264px,#eb8d8e 264px 265px,#e56c6e 265px 267px,#ec9394 267px 268px,#e67273 268px 269px,#e97f80 269px 272px,#e2595a 272px 274px,#ed9a9b 274px 275px,#e67274 275px 276px,#e5696a 276px 277px,#eb8c8d 277px 278px,#ea8586 278px 280px,#ee9b9c 280px 285px,#e97f80 285px 287px,#e77475 287px 289px,#e66f70 289px 292px,#e8797a 292px 293px,#e77778 293px 295px,#e67072 295px 297px,#e25a5b 297px 300px,#e35f60 300px 301px,#e77577 301px 303px,#ea898a 303px 304px,#e46668 304px 305px,#e98283 305px 307px,#e25b5c 307px 308px,#eb8b8c 308px 310px,#ea8889 310px 312px,#e46465 312px 314px,#e8797a 314px 316px,#e67273 316px 318px,#e98384 318px 321px,#e35d5f 321px 322px,#ee9c9d 322px 324px,#e98384 324px 326px,#e46466 326px 328px,#e87e7f 328px 329px,#e5686a 329px 330px,#e35e60 330px 332px,#e04c4d 332px 334px,#dd3e3f 334px 335px,#e35e5f 335px 337px,#e98081 337px 339px,#e77475 339px 341px,#fceeee 341px 343px,#fcefef 343px 345px,#fdf3f4 345px 346px,#fdf1f1 346px 349px,#fef9f9 349px 350px,#fbe8e8 350px 352px,#e36162 352px 353px,#ea8788 353px 355px,#e56869 355px 357px,#ec9191 357px 360px,#f5c8c8 360px 361px,#f3bcbd 361px 364px,#fae1e1 364px 365px,#efa5a6 365px 367px,#f4c2c3 367px 369px,#f6cbcc 369px 371.8px)"></div>
<div class="hc" style="left:118.93px;top:808.9px;width:45.13px;height:371.8px;background:linear-gradient(#ababfa 0px 2px,#8888f7 2px 4px,#8787f7 4px 7px,#9797f8 7px 10px,#9090f8 10px 11px,#8181f7 11px 15px,#9999f9 15px 18px,#8181f7 18px 19px,#b4b4fa 19px 20px,#9090f8 20px 23px,#d4d4fc 23px 26px,#bebefb 26px 27px,#9a9af9 27px 28px,#8a8af8 28px 29px,#9c9cf9 29px 31px,#7d7df7 31px 32px,#9f9ff9 32px 35px,#8e8ef8 35px 37px,#8686f7 37px 38px,#a0a0f9 38px 40px,#a2a2f9 40px 41px,#a6a6f9 41px 44px,#8181f7 44px 46px,#7f7ff7 46px 47px,#a2a2f9 47px 49px,#a9a9f9 49px 50px,#a2a2f9 50px 51px,#9898f8 51px 53px,#a0a0f9 53px 55px,#afaffa 55px 58px,#acacfa 58px 60px,#7676f6 60px 61px,#b5b5fa 61px 63px,#a8a8f9 63px 66px,#8686f7 66px 68px,#b0b0fa 68px 70px,#9191f8 70px 72px,#ddddfd 72px 74px,#b2b2fa 74px 77px,#8686f7 77px 79px,#bfbffb 79px 81px,#8282f7 81px 84px,#b9b9fb 84px 86px,#8a8af8 86px 89px,#d9d9fd 89px 90px,#b9b9fb 90px 92px,#a1a1f9 92px 94px,#9a9af9 94px 97px,#9e9ef9 97px 99px,#9a9af9 99px 102px,#9e9ef9 102px 104px,#a9a9f9 104px 106px,#8f8ff8 106px 108px,#9393f8 108px 111px,#a4a4f9 111px 112px,#afaffa 112px 114px,#9494f8 114px 117px,#a6a6f9 117px 120px,#9898f8 120px 122px,#9292f8 122px 124px,#f0a9aa 124px 125px,#ee9d9e 125px 127px,#eb8f90 127px 128px,#f0a9a9 128px 129px,#f2b2b3 129px 131px,#ec9596 131px 133px,#f4c1c1 133px 135px,#efa3a3 135px 137px,#f6cccd 137px 139px,#e87d7e 139px 141px,#efa4a5 141px 143px,#f1adae 143px 145px,#f1afb0 145px 147px,#f2b4b4 147px 148px,#e77879 148px 150px,#ec9495 150px 152px,#ee9b9c 152px 154px,#f1acad 154px 155px,#e87c7d 155px 157px,#f0abac 157px 158px,#efa2a3 158px 159px,#f0a7a7 159px 162px,#ec9293 162px 164px,#f3b8b9 164px 165px,#f1adad 165px 166px,#f0abac 166px 168px,#f1adae 168px 171px,#e98485 171px 174px,#ed9a9b 174px 176px,#ed9899 176px 178px,#f1adad 178px 179px,#ed9798 179px 182px,#f0a8a9 182px 184px,#f2b5b5 184px 185px,#e56c6e 185px 186px,#ed9a9b 186px 187px,#f1b0b0 187px 189px,#f4c0c0 189px 192px,#ec9495 192px 194px,#ed9797 194px 197px,#f2b6b7 197px 199px,#ea8586 199px 200px,#eb8d8e 200px 203px,#ed9899 203px 205px,#f2f2fe 205px 208px,#e9e9fe 208px 210px,#fefbfb 210px 212px,#e3e3fd 212px 213px,#ebebfe 213px 216px,#f1f1fe 216px 219px,#fbfbff 219px 221px,#fcfcff 221px 223px,#e3e3fd 223px 229px,#eaeafe 229px 230px,#e2e2fd 230px 233px,#fdf4f4 233px 235px,#eb8b8c 235px 236px,#eea0a1 236px 239px,#ed999a 239px 241px,#e77576 241px 242px,#ed9a9b 242px 244px,#e77576 244px 245px,#ed9798 245px 247px,#e98081 247px 250px,#ea8687 250px 252px,#ea898a 252px 253px,#efa5a6 253px 255px,#ea8687 255px 257px,#e15152 257px 260px,#ee9e9f 260px 262px,#ed9a9b 262px 264px,#f1b1b1 264px 265px,#e97e7f 265px 267px,#e87c7e 267px 268px,#ed9596 268px 269px,#ec9394 269px 272px,#e77476 272px 274px,#f4bebf 274px 275px,#f1b2b2 275px 276px,#e77475 276px 277px,#ed9596 277px 278px,#ec9394 278px 280px,#f0aaab 280px 283px,#f3bbbc 283px 285px,#ec9090 285px 287px,#ec9393 287px 289px,#e87e7f 289px 292px,#ea8788 292px 293px,#ea898a 293px 300px,#ee9d9e 300px 301px,#e56a6c 301px 303px,#efa2a3 303px 304px,#ea898a 304px 305px,#f2b7b8 305px 307px,#ec9293 307px 308px,#e98182 308px 310px,#eb8c8d 310px 312px,#ea8687 312px 314px,#ed9798 314px 316px,#ed999a 316px 318px,#ed9899 318px 321px,#ea8788 321px 322px,#f0aaab 322px 324px,#f2b3b4 324px 326px,#ea8687 326px 328px,#f1b0b1 328px 329px,#f2b4b5 329px 330px,#ed9798 330px 332px,#f1aeae 332px 334px,#e56c6d 334px 335px,#ed999a 335px 337px,#ee9e9e 337px 339px,#ec9293 339px 341px,#fdf4f5 341px 343px,#fcebeb 343px 345px,#fbe5e5 345px 346px,#f7d2d3 346px 349px,#fcf0f0 349px 350px,#fceced 350px 352px,#f9dada 352px 353px,#fae1e1 353px 355px,#fae0e0 355px 357px,#f1f1fe 357px 360px,#e5e5fd 360px 361px,#dfdffd 361px 364px,#babafb 364px 365px,#f0f0fe 365px 367px,#e4e4fd 367px 369px,#efeffe 369px 371.8px)"></div>
<div class="hc" style="left:163.77px;top:808.9px;width:45.13px;height:371.8px;background:linear-gradient(#aaaafa 0px 2px,#8888f7 2px 4px,#a3a3f9 4px 7px,#9696f8 7px 10px,#cdcdfc 10px 11px,#a5a5f9 11px 14px,#a2a2f9 14px 15px,#8a8af8 15px 18px,#9696f8 18px 19px,#8484f7 19px 20px,#ededfe 20px 23px,#a1a1f9 23px 26px,#c4c4fb 26px 27px,#9797f8 27px 28px,#9898f8 28px 29px,#9393f8 29px 31px,#8e8ef8 31px 32px,#a2a2f9 32px 35px,#acacfa 35px 37px,#fefafa 37px 38px,#ffffff 38px 40px,#fefeff 40px 41px,#f7d2d3 41px 44px,#fefafa 44px 46px,#fef7f7 46px 47px,#fef6f7 47px 49px,#fffdfd 49px 50px,#fbebeb 50px 51px,#a1a1f9 51px 53px,#babafb 53px 55px,#bbbbfb 55px 58px,#a8a8f9 58px 60px,#9e9ef9 60px 61px,#a5a5f9 61px 63px,#9393f8 63px 65px,#9999f9 65px 66px,#b1b1fa 66px 68px,#d8d8fd 68px 70px,#c1c1fb 70px 72px,#f9dada 72px 74px,#cbcbfc 74px 77px,#acacfa 77px 79px,#cbcbfc 79px 81px,#a1a1f9 81px 84px,#adadfa 84px 86px,#b3b3fa 86px 89px,#e3e3fd 89px 90px,#c5c5fb 90px 92px,#b7b7fa 92px 94px,#b3b3fa 94px 97px,#eeeefe 97px 99px,#dfdffd 99px 102px,#b2b2fa 102px 104px,#e8e8fe 104px 106px,#a3a3f9 106px 108px,#a5a5f9 108px 111px,#afaffa 111px 112px,#bdbdfb 112px 114px,#ababfa 114px 117px,#a1a1f9 117px 120px,#a0a0f9 120px 122px,#9d9df9 122px 124px,#f5c7c7 124px 125px,#f0abac 125px 127px,#eb8d8e 127px 128px,#ed9899 128px 129px,#f0aaaa 129px 131px,#f2b2b3 131px 133px,#f7d2d2 133px 135px,#f0abab 135px 137px,#ec9596 137px 139px,#e87d7e 139px 141px,#ea8889 141px 143px,#e8797a 143px 145px,#f0a7a8 145px 147px,#efa1a2 147px 148px,#eb8a8b 148px 150px,#f0a8a9 150px 152px,#ed9899 152px 154px,#efa6a6 154px 155px,#e56b6c 155px 157px,#ec9394 157px 158px,#f0a8a8 158px 159px,#ed9798 159px 162px,#ec9192 162px 164px,#eb8a8b 164px 165px,#ed9a9b 165px 166px,#ea8889 166px 168px,#ee9e9e 168px 171px,#f1aeaf 171px 174px,#f0a8a9 174px 176px,#eb8b8c 176px 178px,#f2b4b5 178px 179px,#f1afb0 179px 182px,#f2b6b7 182px 184px,#ed9898 184px 185px,#e46466 185px 186px,#fdf5f5 186px 187px,#fbe8e8 187px 189px,#fdf1f1 189px 192px,#ec9394 192px 197px,#ec9091 197px 199px,#f2b3b3 199px 200px,#ec9192 200px 203px,#eea0a1 203px 205px,#ec9596 205px 208px,#ed9798 208px 210px,#ed999a 210px 212px,#f1afb0 212px 213px,#e97f80 213px 216px,#ec9091 216px 219px,#efa1a2 219px 221px,#f1afaf 221px 223px,#eb8d8e 223px 226px,#ea898a 226px 229px,#e46567 229px 230px,#ea8586 230px 233px,#e87a7c 233px 235px,#eb8f90 235px 236px,#fae2e2 236px 239px,#f9dddd 239px 241px,#f9dbdc 241px 242px,#f4c0c0 242px 244px,#f6cece 244px 245px,#f9dcdc 245px 247px,#f7cfcf 247px 250px,#f5c5c6 250px 252px,#f9ddde 252px 253px,#fae0e0 253px 255px,#f9dede 255px 257px,#f6c9ca 257px 260px,#fdf4f4 260px 262px,#fae0e0 262px 264px,#fbe7e7 264px 265px,#f9dcdc 265px 267px,#f8d6d7 267px 268px,#f8d7d7 268px 269px,#f8d9da 269px 272px,#f8d9d9 272px 274px,#fbe5e6 274px 275px,#f9dcdd 275px 276px,#f6cacb 276px 277px,#f8d9d9 277px 278px,#f1f1fe 278px 280px,#f4bfbf 280px 283px,#f8d9da 283px 285px,#f2b5b5 285px 287px,#f4bfbf 287px 289px,#ec9192 289px 292px,#ed999a 292px 293px,#ee9e9f 293px 295px,#ee9c9d 295px 297px,#f0aaaa 297px 300px,#ed9899 300px 301px,#ea898a 301px 303px,#f5c5c5 303px 304px,#ec9595 304px 305px,#f1b1b2 305px 307px,#ee9fa0 307px 308px,#f0aaab 308px 310px,#f5c3c4 310px 312px,#f2b5b5 312px 314px,#f2b3b4 314px 316px,#ed9a9a 316px 318px,#f3babb 318px 321px,#f1afb0 321px 322px,#f1adae 322px 324px,#f7cfd0 324px 326px,#f1afb0 326px 328px,#f5c4c5 328px 329px,#f6cece 329px 330px,#f0a7a7 330px 332px,#f3babb 332px 334px,#efa1a2 334px 335px,#ec9192 335px 337px,#ee9c9d 337px 339px,#f4bfc0 339px 341px,#c9c9fc 341px 343px,#c1c1fb 343px 345px,#c2c2fb 345px 346px,#ddddfd 346px 349px,#b6b6fa 349px 350px,#c4c4fb 350px 352px,#e8e8fe 352px 353px,#d8d8fd 353px 355px,#d8d8fc 355px 357px,#d4d4fc 357px 360px,#d7d7fc 360px 361px,#7878f6 361px 364px,#6868f5 364px 365px,#6a6af6 365px 367px,#8888f7 367px 369px,#8484f7 369px 371.8px)"></div>
<div class="hc" style="left:208.60px;top:808.9px;width:45.13px;height:371.8px;background:linear-gradient(#f0abab 0px 2px,#f5c7c8 2px 4px,#f8d5d5 4px 7px,#f5c6c7 7px 10px,#f4bfc0 10px 11px,#f1adae 11px 14px,#f8dada 14px 15px,#f5c4c4 15px 18px,#f4bdbe 18px 19px,#f2b5b5 19px 20px,#f6cccc 20px 23px,#f9dcdd 23px 26px,#ed9596 26px 27px,#f2b4b4 27px 28px,#f2b6b7 28px 29px,#f1afb0 29px 31px,#fffdfd 31px 32px,#f9dddd 32px 35px,#fef9f9 35px 37px,#e87b7c 37px 38px,#eb8b8c 38px 40px,#e87e7f 40px 41px,#e04f50 41px 44px,#df4648 44px 46px,#e36162 46px 47px,#df4a4b 47px 49px,#e25658 49px 50px,#df4647 50px 51px,#fae2e2 51px 53px,#f4c1c1 53px 55px,#f8d4d4 55px 58px,#f6c9c9 58px 60px,#f7d1d1 60px 61px,#f8d8d9 61px 63px,#f9dada 63px 65px,#f7d1d1 65px 66px,#fbeaea 66px 68px,#f6cbcb 68px 70px,#fceeef 70px 72px,#f5c4c5 72px 74px,#f3babb 74px 77px,#eb8b8c 77px 79px,#df4a4c 79px 81px,#e46466 81px 84px,#db3133 84px 86px,#e6e6fd 86px 89px,#fae5e5 89px 90px,#fceeee 90px 92px,#fae4e4 92px 94px,#fdfdff 94px 97px,#fdf3f3 97px 99px,#f7f7fe 99px 102px,#fdf6f6 102px 104px,#f9dbdb 104px 106px,#ee9c9d 106px 108px,#ee9d9d 108px 111px,#eb8d8e 111px 112px,#ed9596 112px 114px,#f0abac 114px 117px,#f2b3b4 117px 120px,#ee9e9f 120px 122px,#b5b5fa 122px 124px,#c0c0fb 124px 125px,#e0e0fd 125px 127px,#dadafd 127px 128px,#d9d9fd 128px 129px,#bebefb 129px 131px,#dadafd 131px 133px,#efeffe 133px 135px,#ededfe 135px 137px,#c0c0fb 137px 139px,#e7e7fd 139px 141px,#d0d0fc 141px 143px,#ebebfe 143px 145px,#e1e1fd 145px 147px,#f6f6fe 147px 148px,#fefbfb 148px 150px,#fafaff 150px 152px,#ededfe 152px 154px,#f1f1fe 154px 155px,#e3e3fd 155px 157px,#e7e7fd 157px 158px,#e4e4fd 158px 159px,#d5d5fc 159px 162px,#f0f0fe 162px 164px,#e6e6fd 164px 165px,#d9d9fd 165px 166px,#ffffff 166px 168px,#eaeafe 168px 171px,#ececfe 171px 174px,#d9d9fd 174px 176px,#d5d5fc 176px 178px,#bebefb 178px 179px,#cfcffc 179px 182px,#d5d5fc 182px 184px,#d2d2fc 184px 185px,#ededfe 185px 186px,#c2c2fb 186px 187px,#d9d9fd 187px 189px,#c8c8fb 189px 192px,#e6e6fd 192px 194px,#dc383a 194px 197px,#e77677 197px 199px,#e67172 199px 200px,#dd3f40 200px 203px,#df4749 203px 205px,#e04e50 205px 208px,#e35f60 208px 210px,#e15354 210px 212px,#e77778 212px 213px,#e77475 213px 216px,#e87d7e 216px 219px,#e15657 219px 221px,#e77476 221px 223px,#e35d5e 223px 226px,#e56a6b 226px 229px,#e15152 229px 230px,#e36162 230px 233px,#de4344 233px 235px,#7f7ff7 235px 236px,#3b3bf2 236px 239px,#2e2ef2 239px 241px,#5050f4 241px 242px,#4d4df4 242px 244px,#5959f4 244px 245px,#3232f2 245px 247px,#5858f4 247px 250px,#5454f4 250px 252px,#4141f3 252px 253px,#2525f1 253px 255px,#2929f1 255px 257px,#6b6bf6 257px 260px,#4c4cf4 260px 262px,#2828f1 262px 264px,#1414f0 264px 265px,#2e2ef2 265px 267px,#2c2cf2 267px 268px,#4848f3 268px 269px,#4747f3 269px 272px,#4d4df4 272px 274px,#2e2ef2 274px 275px,#4545f3 275px 276px,#3434f2 276px 277px,#2d2df2 277px 278px,#4242f3 278px 280px,#2727f1 280px 283px,#1414f0 283px 285px,#6d6df6 285px 287px,#8888f7 287px 289px,#9797f8 289px 292px,#5e5ef5 292px 293px,#6262f5 293px 295px,#6f6ff6 295px 297px,#7575f6 297px 300px,#5f5ff5 300px 301px,#8181f7 301px 303px,#4040f3 303px 304px,#6c6cf6 304px 305px,#7e7ef7 305px 307px,#4949f3 307px 308px,#7171f6 308px 310px,#5959f4 310px 312px,#aaaafa 312px 314px,#3b3bf2 314px 316px,#6969f5 316px 318px,#6060f5 318px 321px,#5050f4 321px 322px,#4f4ff4 322px 324px,#4646f3 324px 326px,#4d4df4 326px 328px,#6c6cf6 328px 329px,#5656f4 329px 330px,#8787f7 330px 332px,#4c4cf4 332px 334px,#9c9cf9 334px 335px,#6b6bf6 335px 337px,#4747f3 337px 339px,#4949f3 339px 341px,#1414f0 341px 343px,#4545f3 343px 345px,#2a2af1 345px 346px,#3b3bf3 346px 349px,#1414f0 349px 350px,#3b3bf2 350px 352px,#4848f3 352px 353px,#3232f2 353px 355px,#2a2af1 355px 357px,#5e5ef5 357px 360px,#6a6af5 360px 361px,#4b4bf3 361px 364px,#5555f4 364px 365px,#7878f6 365px 367px,#5555f4 367px 369px,#6060f5 369px 371.8px)"></div>
<div class="hc" style="left:253.43px;top:808.9px;width:45.13px;height:371.8px;background:linear-gradient(#e46465 0px 2px,#dd3d3f 2px 4px,#df494a 4px 7px,#d82022 7px 10px,#e35e60 10px 11px,#e35f61 11px 14px,#e25758 14px 15px,#d92526 15px 18px,#e2595b 18px 19px,#da2d2f 19px 20px,#df4648 20px 23px,#dc3839 23px 26px,#dc3537 26px 27px,#da2b2d 27px 28px,#e77475 28px 29px,#e04b4c 29px 31px,#e35e5f 31px 35px,#e15355 35px 37px,#f4c0c0 37px 38px,#f7d0d0 38px 40px,#f8d9d9 40px 41px,#f5c5c5 41px 44px,#f1b0b1 44px 46px,#f5c6c7 46px 47px,#f3baba 47px 49px,#e04d4e 49px 50px,#db3334 50px 51px,#e05051 51px 53px,#d92729 53px 55px,#d71b1d 55px 58px,#d92729 58px 60px,#e15556 60px 61px,#df4547 61px 63px,#dd3a3c 63px 65px,#d82022 65px 66px,#dc3839 66px 68px,#d82123 68px 70px,#de4243 70px 72px,#dd3a3c 72px 74px,#da2c2e 74px 77px,#e25759 77px 79px,#d61618 79px 81px,#df4547 81px 84px,#dd3d3f 84px 86px,#f0abac 86px 89px,#f0a7a8 89px 90px,#f2b5b5 90px 92px,#da2a2c 92px 94px,#d61416 94px 97px,#d92526 97px 99px,#d71c1e 99px 102px,#df484a 102px 104px,#d61416 104px 106px,#d81e20 106px 108px,#d92628 108px 111px,#dc3739 111px 112px,#de3f41 112px 114px,#df494a 114px 117px,#d92729 117px 120px,#e36062 120px 122px,#3d3df3 122px 124px,#1414f0 124px 127px,#2121f1 127px 128px,#1414f0 128px 129px,#3131f2 129px 131px,#2b2bf1 131px 133px,#2121f1 133px 135px,#3030f2 135px 137px,#2525f1 137px 139px,#4444f3 139px 141px,#3535f2 141px 143px,#1a1af0 143px 145px,#2323f1 145px 147px,#1d1df1 147px 148px,#4444f3 148px 150px,#4e4ef4 150px 152px,#4444f3 152px 154px,#1414f0 154px 155px,#3838f2 155px 157px,#2828f1 157px 158px,#1818f0 158px 159px,#3030f2 159px 162px,#1717f0 162px 164px,#4040f3 164px 165px,#3232f2 165px 166px,#4e4ef4 166px 168px,#4242f3 168px 171px,#2c2cf2 171px 174px,#2b2bf1 174px 176px,#2d2df2 176px 178px,#1c1cf0 178px 179px,#2a2af1 179px 182px,#1414f0 182px 184px,#4949f3 184px 185px,#4a4af3 185px 186px,#3e3ef3 186px 187px,#1818f0 187px 189px,#2020f1 189px 192px,#1414f0 192px 194px,#2d2df2 194px 197px,#2727f1 197px 199px,#3636f2 199px 200px,#2e2ef2 200px 203px,#4343f3 203px 205px,#2a2af1 205px 208px,#2222f1 208px 210px,#5656f4 210px 212px,#1414f0 212px 213px,#3434f2 213px 216px,#3939f2 216px 219px,#1414f0 219px 221px,#3a3af2 221px 223px,#2121f1 223px 226px,#1414f0 226px 229px,#2727f1 229px 230px,#2020f1 230px 233px,#3232f2 233px 235px,#e1e1fd 235px 236px,#c4c4fb 236px 239px,#dadafd 239px 241px,#a1a1f9 241px 242px,#7979f6 242px 244px,#9191f8 244px 245px,#5c5cf5 245px 247px,#8b8bf8 247px 250px,#6d6df6 250px 252px,#7979f6 252px 253px,#6464f5 253px 255px,#7878f6 255px 257px,#8383f7 257px 260px,#7c7cf7 260px 262px,#5a5af4 262px 264px,#6666f5 264px 265px,#8080f7 265px 267px,#7777f6 267px 268px,#8585f7 268px 269px,#7a7af7 269px 272px,#9090f8 272px 274px,#5656f4 274px 275px,#8b8bf8 275px 276px,#9191f8 276px 277px,#6e6ef6 277px 278px,#7c7cf7 278px 280px,#2d2df2 280px 283px,#1414f0 283px 285px,#2323f1 285px 287px,#2e2ef2 287px 289px,#4545f3 289px 292px,#3d3df3 292px 293px,#4747f3 293px 295px,#4d4df4 295px 297px,#7878f6 297px 300px,#5252f4 300px 301px,#7575f6 301px 303px,#5a5af4 303px 304px,#8b8bf8 304px 305px,#7474f6 305px 307px,#8686f7 307px 308px,#6262f5 308px 310px,#6161f5 310px 312px,#8282f7 312px 314px,#9b9bf9 314px 316px,#6060f5 316px 318px,#7272f6 318px 321px,#5959f4 321px 324px,#7474f6 324px 326px,#6666f5 326px 328px,#5b5bf5 328px 329px,#6464f5 329px 330px,#5454f4 330px 332px,#5f5ff5 332px 334px,#7575f6 334px 335px,#7f7ff7 335px 337px,#6b6bf6 337px 339px,#5959f4 339px 341px,#f8d6d7 341px 343px,#f7d1d2 343px 345px,#fbe9e9 345px 346px,#fdf4f4 346px 349px,#f9f9ff 349px 350px,#fbe6e6 350px 352px,#e36061 352px 353px,#df484a 353px 355px,#da2c2d 355px 357px,#df4a4c 357px 360px,#de4445 360px 361px,#e05051 361px 364px,#e35e5f 364px 365px,#e25758 365px 367px,#dbdbfd 367px 369px,#e9e9fe 369px 371.8px)"></div>
<div class="hc" style="left:298.27px;top:808.9px;width:45.13px;height:371.8px;background:linear-gradient(#6666f5 0px 2px,#4b4bf4 2px 4px,#4343f3 4px 7px,#4949f3 7px 10px,#4d4df4 10px 11px,#4141f3 11px 14px,#e2e2fd 14px 15px,#f6f6fe 15px 18px,#3232f2 18px 19px,#4646f3 19px 20px,#3131f2 20px 23px,#4949f3 23px 26px,#d7d7fc 26px 27px,#b8b8fa 27px 28px,#bbbbfb 28px 29px,#cacafc 29px 31px,#b5b5fa 31px 32px,#e3e3fd 32px 35px,#c9c9fc 35px 37px,#7979f6 37px 38px,#3636f2 38px 40px,#5c5cf5 40px 41px,#fbebeb 41px 44px,#fcf0f0 44px 46px,#e25b5c 46px 47px,#e04e50 47px 49px,#e05051 49px 50px,#dc3839 50px 51px,#db3234 51px 53px,#db3133 53px 55px,#e04f50 55px 58px,#dc3839 58px 60px,#e2585a 60px 61px,#db2f31 61px 63px,#e15153 63px 65px,#da2b2d 65px 66px,#e04b4d 66px 68px,#d82022 68px 70px,#de3f41 70px 72px,#d92527 72px 74px,#e15052 74px 77px,#e46263 77px 79px,#db3133 79px 81px,#e36061 81px 84px,#e15455 84px 86px,#fbe6e6 86px 89px,#f3bdbe 89px 90px,#f7cfcf 90px 92px,#e04d4f 92px 94px,#dc3435 94px 97px,#e36162 97px 99px,#e56b6d 99px 102px,#e15557 102px 104px,#dd3c3e 104px 106px,#e15456 106px 108px,#e46667 108px 111px,#d82123 111px 112px,#e56c6d 112px 114px,#e25a5b 114px 117px,#dc3436 117px 120px,#e66f70 120px 122px,#e46566 122px 124px,#e2595a 124px 125px,#e5686a 125px 127px,#fdfdff 127px 128px,#e9e9fe 128px 129px,#e5e5fd 129px 131px,#f3f3fe 131px 133px,#e2595a 133px 135px,#e46263 135px 137px,#db3335 137px 139px,#e15355 139px 141px,#da2d2f 141px 143px,#dc393a 143px 145px,#e15254 145px 147px,#e04d4e 147px 148px,#e04b4c 148px 150px,#e15355 150px 152px,#df494b 152px 154px,#e15254 154px 155px,#dd3a3b 155px 157px,#e35e5f 157px 158px,#dc383a 158px 159px,#e77476 159px 162px,#e25758 162px 164px,#de4244 164px 165px,#e35d5f 165px 166px,#d92325 166px 168px,#dd3c3e 168px 171px,#de4142 171px 174px,#e15253 174px 176px,#da2a2c 176px 178px,#df4547 178px 179px,#e15153 179px 182px,#de4344 182px 184px,#db3133 184px 185px,#d82123 185px 186px,#dc393a 186px 187px,#dd3b3d 187px 189px,#e25658 189px 192px,#dd3d3f 192px 194px,#dd3a3b 194px 197px,#da2b2d 197px 199px,#de4344 199px 200px,#dd3d3f 200px 203px,#db2f30 203px 205px,#fffdfd 205px 208px,#e25b5c 208px 210px,#e25c5d 210px 212px,#e77879 212px 213px,#e36162 213px 216px,#e67273 216px 219px,#de4244 219px 221px,#e2585a 221px 223px,#e2595b 223px 226px,#e15657 226px 229px,#e77475 229px 230px,#e35e5f 230px 233px,#e15354 233px 235px,#d2d2fc 235px 236px,#b3b3fa 236px 239px,#d9d9fd 239px 241px,#cbcbfc 241px 242px,#c3c3fb 242px 244px,#d0d0fc 244px 245px,#c1c1fb 245px 247px,#cacafc 247px 250px,#d92628 250px 252px,#d92224 252px 253px,#e56769 253px 255px,#df4a4b 255px 257px,#d61416 257px 260px,#e66e6f 260px 262px,#e35f60 262px 264px,#e66e6f 264px 265px,#d61416 265px 267px,#df494a 267px 268px,#dd3e40 268px 269px,#db3031 269px 272px,#da292b 272px 274px,#dd3e40 274px 275px,#d92729 275px 276px,#d61416 276px 277px,#db3335 277px 278px,#dc3637 278px 280px,#e15456 280px 283px,#e36162 283px 285px,#db3233 285px 287px,#e25658 287px 289px,#d61416 289px 293px,#da2d2f 293px 295px,#e46566 295px 297px,#da2c2e 297px 300px,#df4748 300px 301px,#dd3c3e 301px 303px,#e46264 303px 304px,#db3133 304px 305px,#db3334 305px 307px,#db3234 307px 308px,#d81f21 308px 310px,#de4446 310px 312px,#da292b 312px 314px,#db3234 314px 316px,#db3233 316px 318px,#e46263 318px 321px,#dd3c3d 321px 322px,#df4849 322px 324px,#de4445 324px 326px,#e25b5c 326px 328px,#e04b4d 328px 329px,#df4547 329px 330px,#dc3638 330px 332px,#e25758 332px 334px,#da282a 334px 335px,#da2b2d 335px 337px,#d82123 337px 339px,#db3335 339px 341px,#db3032 341px 343px,#e15557 343px 345px,#de4446 345px 346px,#da2b2d 346px 349px,#d82022 349px 350px,#df4749 350px 352px,#db2e30 352px 353px,#dd3a3c 353px 355px,#db3031 355px 357px,#e25859 357px 360px,#dd393b 360px 361px,#de4041 361px 364px,#de4143 364px 365px,#db3234 365px 367px,#e04d4e 367px 369px,#e04b4c 369px 371.8px)"></div>
<div class="hc" style="left:343.10px;top:808.9px;width:45.13px;height:371.8px;background:linear-gradient(#f4f4fe 0px 2px,#cecefc 2px 4px,#d4d4fc 4px 7px,#f7f7fe 7px 10px,#f5f5fe 10px 11px,#e5e5fd 11px 14px,#f4bebf 14px 15px,#f1b0b1 15px 18px,#f7cfcf 18px 19px,#f1b1b1 19px 20px,#f2b3b3 20px 23px,#f2b5b6 23px 26px,#f2b2b2 26px 27px,#f0abac 27px 28px,#f4bebf 28px 29px,#f8d9da 29px 31px,#fbeaea 31px 32px,#f4c1c1 32px 35px,#f7d2d2 35px 37px,#f1b2b2 37px 38px,#fceeee 38px 40px,#fbeaea 40px 41px,#fcecec 41px 44px,#fbe8e9 44px 46px,#fdf6f6 46px 47px,#fdf1f1 47px 49px,#f7d3d3 49px 50px,#f9dfdf 50px 51px,#fceeee 51px 53px,#fefafa 53px 58px,#f9dbdb 58px 60px,#fdfdff 60px 61px,#ababfa 61px 63px,#9d9df9 63px 65px,#b0b0fa 65px 66px,#9c9cf9 66px 68px,#ddddfd 68px 70px,#d1d1fc 70px 72px,#d0d0fc 72px 74px,#cbcbfc 74px 77px,#aeaefa 77px 79px,#d7d7fc 79px 81px,#8888f7 81px 84px,#9e9ef9 84px 86px,#9d9df9 86px 89px,#b8b8fa 89px 90px,#a6a6f9 90px 92px,#fae3e3 92px 94px,#fae1e1 94px 97px,#f9dfdf 97px 99px,#fcf0f0 99px 102px,#f8d5d5 102px 104px,#f6cccc 104px 106px,#f9dadb 106px 108px,#ececfe 108px 111px,#f6f6fe 111px 112px,#efeffe 112px 114px,#f2f2fe 114px 117px,#f0f0fe 117px 120px,#efeffe 120px 122px,#eeeefe 122px 124px,#eaeafe 124px 125px,#d2d2fc 125px 127px,#fefeff 127px 128px,#f0f0fe 128px 129px,#f7f7fe 129px 131px,#f9dede 131px 133px,#fef8f8 133px 135px,#fcfcff 135px 137px,#c6c6fb 137px 139px,#f8f8ff 139px 141px,#dcdcfd 141px 143px,#c5c5fb 143px 145px,#e1e1fd 145px 147px,#d0d0fc 147px 148px,#ebebfe 148px 150px,#dbdbfd 150px 152px,#d2d2fc 152px 154px,#bfbffb 154px 155px,#f0f0fe 155px 157px,#cfcffc 157px 158px,#d2d2fc 158px 159px,#bcbcfb 159px 162px,#dadafd 162px 164px,#d2d2fc 164px 165px,#ccccfc 165px 166px,#c2c2fb 166px 168px,#bfbffb 168px 171px,#dedefd 171px 174px,#d7d7fc 174px 176px,#bbbbfb 176px 178px,#aaaafa 178px 179px,#b5b5fa 179px 182px,#a5a5f9 182px 184px,#b7b7fa 184px 185px,#bcbcfb 185px 186px,#b6b6fa 186px 187px,#d3d3fc 187px 189px,#adadfa 189px 192px,#a9a9f9 192px 194px,#b8b8fa 194px 197px,#aaaafa 197px 199px,#a1a1f9 199px 200px,#7979f6 200px 203px,#efa5a6 203px 205px,#f5c6c7 205px 208px,#f2b3b4 208px 210px,#ee9d9d 210px 212px,#f3bcbd 212px 213px,#e6e6fd 213px 216px,#f2f2fe 216px 219px,#efeffe 219px 221px,#e4e4fd 221px 223px,#e0e0fd 223px 226px,#d8d8fd 226px 229px,#e3e3fd 229px 230px,#e6e6fd 230px 233px,#fefbfb 233px 235px,#e5e5fd 235px 236px,#e0e0fd 236px 239px,#ececfe 239px 241px,#f0a9a9 241px 242px,#f1b1b2 242px 244px,#ec9192 244px 245px,#f6cccd 245px 247px,#ea8788 247px 250px,#e4e4fd 250px 252px,#dadafd 252px 253px,#e2e2fd 253px 255px,#dcdcfd 255px 257px,#e8e8fe 257px 260px,#e3e3fd 260px 262px,#dadafd 262px 264px,#ddddfd 264px 265px,#ececfe 265px 267px,#e9e9fe 267px 268px,#eeeefe 268px 272px,#f3f3fe 272px 274px,#cecefc 274px 275px,#d4d4fc 275px 276px,#ededfe 276px 277px,#bebefb 277px 278px,#e6e6fd 278px 280px,#fbe7e8 280px 283px,#fefeff 283px 285px,#fae4e4 285px 287px,#f8d6d6 287px 289px,#f6c9ca 289px 292px,#f7d0d0 292px 293px,#f6cdce 293px 295px,#f9dfe0 295px 297px,#e7e7fd 297px 300px,#d4d4fc 300px 301px,#dedefd 301px 303px,#d9d9fd 303px 304px,#e9e9fe 304px 305px,#eaeafe 305px 307px,#c6c6fb 307px 308px,#d4d4fc 308px 310px,#a8a8f9 310px 312px,#d3d3fc 312px 314px,#d9d9fd 314px 316px,#c9c9fc 316px 318px,#dbdbfd 318px 321px,#dfdffd 321px 322px,#cdcdfc 322px 324px,#aaaafa 324px 326px,#dbdbfd 326px 328px,#ccccfc 328px 329px,#c9c9fc 329px 330px,#c6c6fb 330px 332px,#d4d4fc 332px 334px,#d8d8fd 334px 335px,#e5e5fd 335px 337px,#d1d1fc 337px 339px,#d0d0fc 339px 341px,#afaffa 341px 343px,#dadafd 343px 345px,#dcdcfd 345px 346px,#e0e0fd 346px 349px,#d1d1fc 349px 350px,#c4c4fb 350px 352px,#d7d7fc 352px 353px,#bdbdfb 353px 355px,#d3d3fc 355px 357px,#d0d0fc 357px 360px,#cacafc 360px 361px,#b6b6fa 361px 364px,#d3d3fc 364px 367px,#e0e0fd 367px 369px,#cbcbfc 369px 371.8px)"></div>
<div class="hc" style="left:387.93px;top:808.9px;width:45.13px;height:371.8px;background:linear-gradient(#f0f0fe 0px 2px,#e6e6fd 2px 4px,#eeeefe 4px 10px,#f1f1fe 10px 11px,#d0d0fc 11px 14px,#f6cccc 14px 15px,#f0a8a8 15px 18px,#f1adad 18px 19px,#f6cacb 19px 20px,#f5c5c5 20px 23px,#ee9fa0 23px 26px,#f4c0c0 26px 27px,#efa1a2 27px 28px,#f0acac 28px 29px,#f2b6b6 29px 31px,#fae4e4 31px 32px,#f0aaaa 32px 35px,#f1adae 35px 37px,#f2b6b7 37px 38px,#f7d3d3 38px 40px,#e9e9fe 40px 41px,#fefeff 41px 44px,#fcfcff 44px 46px,#efeffe 46px 47px,#ececfe 47px 49px,#4a4af3 49px 50px,#6565f5 50px 51px,#5252f4 51px 53px,#cacafc 53px 55px,#b8b8fa 55px 58px,#cbcbfc 58px 60px,#bdbdfb 60px 61px,#c8c8fb 61px 63px,#b8b8fa 63px 65px,#cbcbfc 65px 68px,#d3d3fc 68px 70px,#afaffa 70px 72px,#b1b1fa 72px 74px,#c2c2fb 74px 77px,#bebefb 77px 79px,#c5c5fb 79px 81px,#fef7f7 81px 84px,#fae2e2 84px 86px,#fae1e1 86px 89px,#f8d8d8 89px 90px,#f7d1d2 90px 92px,#f7f7fe 92px 94px,#f3f3fe 94px 97px,#e8e8fe 97px 99px,#fdfdff 99px 102px,#dadafd 102px 104px,#fef8f8 104px 106px,#fefeff 106px 108px,#fae0e0 108px 111px,#fbe9ea 111px 112px,#fbe7e7 112px 114px,#fae4e4 114px 117px,#fcecec 117px 120px,#fdf1f1 120px 122px,#fcebec 122px 124px,#fffcfc 124px 125px,#fdfdff 125px 127px,#f3b8b8 127px 128px,#f3bbbb 128px 129px,#f4c0c1 129px 131px,#f0a9aa 131px 133px,#f9dddd 133px 137px,#e8e8fe 137px 139px,#fdf5f5 139px 141px,#d1d1fc 141px 143px,#e9e9fe 143px 145px,#d1d1fc 145px 147px,#d9d9fd 147px 148px,#ffffff 148px 150px,#e7e7fd 150px 152px,#f6f6fe 152px 154px,#dedefd 154px 155px,#fefafa 155px 157px,#e9e9fe 157px 158px,#f2f2fe 158px 159px,#dcdcfd 159px 162px,#f4f4fe 162px 164px,#eaeafe 164px 165px,#e2e2fd 165px 166px,#fdfdff 166px 168px,#dbdbfd 168px 171px,#f6f6fe 171px 174px,#e7e7fd 174px 176px,#fbfbff 176px 178px,#e0e0fd 178px 179px,#dadafd 179px 182px,#dfdffd 182px 184px,#f1f1fe 184px 185px,#ffffff 185px 186px,#fffefe 186px 187px,#ffffff 187px 189px,#e8e8fe 189px 192px,#fffcfd 192px 194px,#e3e3fd 194px 197px,#eeeefe 197px 199px,#fdfdff 199px 200px,#fef8f8 200px 203px,#fdf1f1 203px 205px,#eb8f90 205px 208px,#ee9d9e 208px 210px,#f2b3b4 210px 212px,#f3b8b9 212px 213px,#eaeafe 213px 219px,#fdf6f6 219px 221px,#fbfbff 221px 226px,#f6f6fe 226px 229px,#e4e4fd 229px 230px,#fdf2f2 230px 233px,#fef8f8 233px 235px,#ececfe 235px 236px,#fdfdff 236px 239px,#f6f6fe 239px 241px,#eb8d8e 241px 242px,#f4c2c3 242px 244px,#ec9596 244px 245px,#f4bebf 245px 247px,#e87d7e 247px 250px,#efa4a5 250px 252px,#d2d2fc 252px 253px,#dbdbfd 253px 255px,#ddddfd 255px 257px,#cecefc 257px 260px,#dcdcfd 260px 264px,#d9d9fd 264px 265px,#e1e1fd 265px 267px,#d7d7fc 267px 268px,#e5e5fd 268px 269px,#d8d8fc 269px 272px,#cfcffc 272px 274px,#aeaefa 274px 275px,#dadafd 275px 276px,#f2f2fe 276px 277px,#bbbbfb 277px 278px,#bcbcfb 278px 280px,#d1d1fc 280px 283px,#bbbbfb 283px 285px,#cbcbfc 285px 287px,#ddddfd 287px 289px,#dbdbfd 289px 292px,#ddddfd 292px 293px,#d6d6fc 293px 295px,#d4d4fc 295px 297px,#ebebfe 297px 300px,#a4a4f9 300px 301px,#d9d9fd 301px 303px,#e7e7fd 303px 304px,#d6d6fc 304px 305px,#f8f8ff 305px 307px,#d3d3fc 307px 308px,#e1e1fd 308px 310px,#dfdffd 310px 312px,#e7e7fd 312px 314px,#dadafd 314px 316px,#cacafc 316px 318px,#dbdbfd 318px 321px,#dfdffd 321px 322px,#d4d4fc 322px 324px,#d8d8fd 324px 326px,#e5e5fd 326px 328px,#c7c7fb 328px 329px,#e7e7fd 329px 330px,#f3f3fe 330px 332px,#b8b8fa 332px 334px,#dcdcfd 334px 337px,#d2d2fc 337px 339px,#d1d1fc 339px 341px,#c8c8fc 341px 343px,#eaeafe 343px 345px,#ccccfc 345px 346px,#c7c7fb 346px 349px,#d0d0fc 349px 350px,#cfcffc 350px 352px,#dbdbfd 352px 353px,#d1d1fc 353px 357px,#e7e7fd 357px 360px,#c7c7fb 360px 361px,#cacafc 361px 364px,#d3d3fc 364px 367px,#e8e8fe 367px 369px,#d8d8fd 369px 371.8px)"></div>
<div class="hc" style="left:432.77px;top:808.9px;width:44.83px;height:371.8px;background:linear-gradient(#e56d6e 0px 2px,#dd3e3f 2px 4px,#e25a5b 4px 7px,#e04f50 7px 10px,#de4345 10px 11px,#e67172 11px 14px,#fffdfd 14px 15px,#fae2e2 15px 18px,#fdf1f1 18px 19px,#fae1e1 19px 20px,#efa5a6 20px 23px,#f4bebe 23px 26px,#ee9e9f 26px 27px,#efa4a5 27px 28px,#f0a7a8 28px 29px,#bbbbfb 29px 31px,#9090f8 31px 32px,#c7c7fb 32px 35px,#b1b1fa 35px 37px,#bcbcfb 37px 38px,#cbcbfc 38px 40px,#b7b7fa 40px 41px,#5858f4 41px 44px,#5a5af4 44px 46px,#2d2df2 46px 47px,#6767f5 47px 49px,#4e4ef4 49px 50px,#3d3df3 50px 51px,#4a4af3 51px 53px,#cdcdfc 53px 55px,#a7a7f9 55px 58px,#bdbdfb 58px 60px,#c5c5fb 60px 61px,#b4b4fa 61px 63px,#9191f8 63px 65px,#a3a3f9 65px 66px,#9696f8 66px 68px,#b4b4fa 68px 70px,#bfbffb 70px 72px,#9f9ff9 72px 74px,#bcbcfb 74px 77px,#9c9cf9 77px 79px,#dedefd 79px 81px,#8989f7 81px 84px,#bdbdfb 84px 86px,#5353f4 86px 89px,#9696f8 89px 90px,#5656f4 90px 92px,#5d5df5 92px 94px,#4e4ef4 94px 97px,#5959f4 97px 99px,#4747f3 99px 102px,#7474f6 102px 104px,#8585f7 104px 106px,#5050f4 106px 108px,#7878f6 108px 111px,#4545f3 111px 112px,#5f5ff5 112px 114px,#3939f2 114px 117px,#6363f5 117px 120px,#5050f4 120px 122px,#4545f3 122px 124px,#2323f1 124px 125px,#1414f0 125px 127px,#eaeafe 127px 128px,#fffdfd 128px 129px,#fcfcff 129px 131px,#fbfbff 131px 133px,#f7f7fe 133px 135px,#eeeefe 135px 137px,#8f8ff8 137px 139px,#aaaafa 139px 141px,#a7a7f9 141px 143px,#a1a1f9 143px 145px,#a8a8f9 145px 147px,#8f8ff8 147px 148px,#a0a0f9 148px 150px,#9e9ef9 150px 152px,#9191f8 152px 154px,#aaaafa 154px 155px,#a0a0f9 155px 157px,#b5b5fa 157px 158px,#9292f8 158px 159px,#7f7ff7 159px 162px,#8b8bf8 162px 164px,#8f8ff8 164px 165px,#a0a0f9 165px 166px,#acacfa 166px 168px,#8d8df8 168px 171px,#9898f8 171px 174px,#9191f8 174px 176px,#8a8af8 176px 178px,#7a7af6 178px 179px,#a1a1f9 179px 182px,#a7a7f9 182px 184px,#9d9df9 184px 185px,#b4b4fa 185px 186px,#b1b1fa 186px 187px,#9999f8 187px 189px,#6d6df6 189px 192px,#ababfa 192px 194px,#bebefb 194px 197px,#b0b0fa 197px 199px,#8a8af8 199px 200px,#a2a2f9 200px 203px,#5e5ef5 203px 205px,#6262f5 205px 208px,#3535f2 208px 210px,#3b3bf3 210px 212px,#1919f0 212px 213px,#8484f7 213px 216px,#7676f6 216px 219px,#8585f7 219px 221px,#6969f5 221px 223px,#8888f7 223px 226px,#7474f6 226px 229px,#7c7cf7 229px 230px,#8e8ef8 230px 233px,#a5a5f9 233px 235px,#8181f7 235px 236px,#e46566 236px 239px,#7a7af7 239px 241px,#9494f8 241px 242px,#8585f7 242px 244px,#9090f8 244px 245px,#7373f6 245px 247px,#7d7df7 247px 250px,#7c7cf7 250px 252px,#8888f7 252px 253px,#7474f6 253px 255px,#6767f5 255px 257px,#8585f7 257px 260px,#7474f6 260px 262px,#5f5ff5 262px 264px,#6e6ef6 264px 265px,#8d8df8 265px 267px,#7676f6 267px 268px,#7f7ff7 268px 269px,#8a8af8 269px 272px,#8585f7 272px 274px,#7373f6 274px 275px,#9090f8 275px 276px,#8989f7 276px 277px,#6262f5 277px 278px,#5050f4 278px 280px,#2424f1 280px 283px,#1414f0 283px 285px,#2f2ff2 285px 287px,#3434f2 287px 289px,#4040f3 289px 292px,#3f3ff3 292px 293px,#5656f4 293px 295px,#3f3ff3 295px 297px,#b4b4fa 297px 300px,#7a7af7 300px 301px,#8d8df8 301px 303px,#9c9cf9 303px 304px,#8d8df8 304px 305px,#8787f7 305px 307px,#7777f6 307px 308px,#8383f7 308px 310px,#6060f5 310px 312px,#7878f6 312px 314px,#8c8cf8 314px 316px,#7f7ff7 316px 318px,#7979f6 318px 321px,#8989f7 321px 322px,#8b8bf8 322px 324px,#8f8ff8 324px 326px,#9191f8 326px 328px,#7777f6 328px 329px,#7f7ff7 329px 330px,#8989f7 330px 332px,#7b7bf7 332px 334px,#8b8bf8 334px 335px,#9a9af9 335px 337px,#8989f7 337px 339px,#9999f8 339px 341px,#8d8df8 341px 343px,#a1a1f9 343px 345px,#9090f8 345px 346px,#ababfa 346px 349px,#7a7af7 349px 350px,#7979f6 350px 352px,#6464f5 352px 353px,#8585f7 353px 355px,#8383f7 355px 357px,#6d6df6 357px 360px,#8b8bf8 360px 361px,#8181f7 361px 364px,#6d6df6 364px 365px,#6c6cf6 365px 367px,#9696f8 367px 369px,#8a8af8 369px 371.8px)"></div>
<svg width="515" height="1280" viewBox="0 0 515 1280"><path d="M71.9 2.7H69.7V3H71.9M71.9 2.4H69.7V2.8H69.7M69.7 2.6H67V3.3H71.9M71.9 3.9H66.2V4.2H71.9M71.9 3.6H65.7V4H66.2M67 2.9H64.6V3.8H65.7M64.6 3.4H63.1V4.5H71.9M71.9 2.1H62.9V3.9H63.1M71.9 5.7H70.8V6H71.9M71.9 6.6H70.8V6.9H71.9M71.9 6.3H70.5V6.8H70.8M70.8 5.9H70.5V6.6H70.5M71.9 5.4H70.5V6.2H70.5M71.9 7.2H70.8V7.5H71.9M70.5 5.8H69.6V7.4H70.8M71.9 5.1H67.9V6.6H69.6M67.9 5.9H66.3V7.8H71.9M71.9 4.8H66.2V6.8H66.3M62.9 3H60.4V5.8H66.2M71.9 1.8H60V4.4H60.4M71.9 8.8H68.3V9.1H71.9M71.9 10H68.8V10.3H71.9M71.9 9.7H68.6V10.2H68.8M71.9 10.6H68.8V10.9H71.9M68.6 9.9H68.5V10.8H68.8M71.9 9.4H68.4V10.3H68.5M71.9 11.5H70.3V11.8H71.9M71.9 12.2H69.8V12.5H71.9M70.3 11.7H68.3V12.3H69.8M71.9 11.2H68.2V12H68.3M68.4 9.9H67.4V11.6H68.2M68.3 8.9H67.2V10.7H67.4M71.9 8.5H63.8V9.8H67.2M71.9 14H63.1V14.3H71.9M71.9 13.7H62.8V14.2H63.1M71.9 13.4H61.5V13.9H62.8M71.9 13.1H59.1V13.7H61.5M71.9 12.8H58.7V13.4H59.1M71.9 14.6H61.8V14.9H71.9M58.7 13.1H58.3V14.8H61.8M63.8 9.1H57.9V13.9H58.3M71.9 8.2H57.4V11.5H57.9M71.9 15.5H63.8V15.8H71.9M71.9 15.2H60.4V15.7H63.8M57.4 9.8H57V15.5H60.4M60 3.1H52V12.7H57M71.9 17.1H68.1V17.4H71.9M71.9 16.8H66.4V17.2H68.1M66.4 17H65.4V17.7H71.9M71.9 19.2H63.9V19.5H71.9M71.9 18.9H62.2V19.4H63.9M71.9 18.6H61.9V19.2H62.2M71.9 18.3H61.6V18.9H61.9M71.9 19.8H64.1V20.2H71.9M64.1 20H63.9V20.5H71.9M71.9 21.1H66.7V21.4H71.9M71.9 21.7H66.8V22H71.9M66.7 21.2H66.3V21.8H66.8M71.9 20.8H64.9V21.5H66.3M64.9 21.2H63V22.3H71.9M63.9 20.2H62.7V21.7H63M62.7 21H62.4V22.6H71.9M71.9 22.9H65.9V23.2H71.9M62.4 21.8H62.1V23.1H65.9M61.6 18.6H61.3V22.4H62.1M61.3 20.5H59.1V23.5H71.9M71.9 18H58.7V22H59.1M58.7 20H58.2V23.8H71.9M65.4 17.3H57.8V21.9H58.2M71.9 16.5H56.1V19.6H57.8M71.9 16.2H55V18H56.1M52 7.9H48.4V17.1H55M71.9 24.8H57.1V25.1H71.9M71.9 24.5H56.4V24.9H57.1M71.9 25.4H61.8V25.7H71.9M61.8 25.5H60.6V26H71.9M60.6 25.7H57.2V26.3H71.9M57.2 26H56.7V26.6H71.9M56.4 24.7H55.2V26.3H56.7M55.2 25.5H54.7V26.9H71.9M71.9 24.2H54.1V26.2H54.7M71.9 28.7H65.3V29H71.9M71.9 28.4H64.9V28.8H65.3M71.9 28.1H63.8V28.6H64.9M63.8 28.4H63.2V29.3H71.9M71.9 27.8H60.4V28.8H63.2M71.9 30.2H66V30.5H71.9M71.9 29.9H65.8V30.4H66M71.9 29.6H65.3V30.1H65.8M60.4 28.3H60.1V29.9H65.3M71.9 27.5H59.7V29.1H60.1M71.9 27.2H55.2V28.3H59.7M71.9 31.4H64V31.7H71.9M71.9 31.1H61.4V31.6H64M71.9 32H66.6V32.3H71.9M66.6 32.2H64.5V32.6H71.9M64.5 32.4H61.4V32.9H71.9M61.4 31.3H61.1V32.7H61.4M71.9 30.8H60.8V32H61.1M55.2 27.7H54.7V31.4H60.8M54.7 29.6H54.1V33.2H71.9M54.1 25.2H53.6V31.4H54.1M71.9 33.5H62.2V33.8H71.9M53.6 28.3H53V33.7H62.2M48.4 12.5H44.5V31H53M71.9 34.1H61.9V34.5H71.9M61.9 34.3H60.8V34.8H71.9M60.8 34.5H58.6V35.1H71.9M71.9 35.9H66.5V36.2H71.9M66.5 36.1H65.2V36.5H71.9M71.9 35.6H60.7V36.3H65.2M60.7 36H60.3V36.9H71.9M71.9 35.4H60V36.4H60.3M71.9 37.7H67.9V38H71.9M67.9 37.9H66.9V38.3H71.9M66.9 38.1H64.1V38.6H71.9M64.1 38.4H63.9V39H71.9M71.9 37.4H60.4V38.7H63.9M71.9 37.1H60V38.1H60.4M71.9 39.2H67.5V39.6H71.9M67.5 39.4H63.7V39.9H71.9M63.7 39.6H62.8V40.2H71.9M71.9 41H65.8V41.4H71.9M71.9 40.8H65.6V41.2H65.8M71.9 42.2H68.1V42.6H71.9M71.9 42H68V42.4H68.1M71.9 41.6H64.9V42.2H68M65.6 41H64.7V41.9H64.9M64.7 41.4H62.1V42.9H71.9M71.9 40.5H61.1V42.1H62.1M62.8 39.9H56.5V41.3H61.1M60 37.6H56V40.6H56.5M60 35.9H55.5V39.1H56M58.6 34.8H55V37.5H55.5M44.5 21.7H40.6V36.1H55M71.9 44.1H65.9V44.4H71.9M71.9 43.8H65.7V44.2H65.9M71.9 43.5H65.5V44H65.7M65.5 43.7H65.3V44.7H71.9M71.9 43.2H58.1V44.2H65.3M71.9 45.3H60.9V45.6H71.9M71.9 45H59.7V45.4H60.9M58.1 43.7H57.7V45.2H59.7M71.9 46.2H54.7V46.5H71.9M54.7 46.3H54.2V46.8H71.9M54.2 46.6H52.5V47.1H71.9M71.9 45.9H50.1V46.8H52.5M57.7 44.4H49.4V46.4H50.1M49.4 45.4H48.7V47.4H71.9M71.9 47.7H70.1V48H71.9M70.1 47.8H69.9V48.3H71.9M69.9 48.1H69V48.6H71.9M71.9 49.2H66.7V49.5H71.9M71.9 48.9H66.5V49.4H66.7M69 48.3H66.3V49.1H66.5M71.9 49.8H66.4V50.1H71.9M71.9 50.4H66.4V50.7H71.9M66.4 50H66V50.6H66.4M66 50.3H63V51H71.9M66.3 48.7H62.7V50.7H63M71.9 51.3H62V51.6H71.9M71.9 51.9H59.7V52.2H71.9M71.9 52.5H59.7V52.8H71.9M59.7 52.1H59.3V52.7H59.7M62 51.5H58.9V52.4H59.3M62.7 49.7H57.8V51.9H58.9M48.7 46.4H48V50.8H57.8M71.9 53.7H67.9V54H71.9M71.9 54.6H69.6V54.9H71.9M71.9 54.3H68.7V54.8H69.6M67.9 53.9H67.3V54.6H68.7M71.9 55.2H65.4V55.5H71.9M65.4 55.4H63.4V55.8H71.9M63.4 55.6H63.1V56.1H71.9M67.3 54.2H62.9V55.9H63.1M71.9 56.7H68.1V57H71.9M68.1 56.9H63.1V57.3H71.9M71.9 56.4H62.9V57.1H63.1M62.9 55.1H62.6V56.8H62.9M71.9 53.4H59.2V55.9H62.6M71.9 53.1H48.6V54.7H59.2M71.9 57.6H65.7V58H71.9M71.9 58.8H70.4V59.1H71.9M71.9 59.4H70.3V59.8H71.9M70.3 59.6H70.3V60H71.9M70.3 59.8H69.5V60.4H71.9M70.4 59H69.1V60.1H69.5M71.9 58.5H68.1V59.5H69.1M71.9 58.2H65.6V59H68.1M65.7 57.8H65.4V58.6H65.6M71.9 61H68.8V61.3H71.9M71.9 60.7H67.2V61.1H68.8M67.2 60.9H65.7V61.6H71.9M65.4 58.2H65V61.2H65.7M71.9 62.1H67.1V62.5H71.9M67.1 62.3H63.4V62.8H71.9M71.9 63.1H63.6V63.4H71.9M63.6 63.2H63.4V63.7H71.9M63.4 62.5H63.1V63.4H63.4M71.9 61.9H61.5V63H63.1M65 59.7H60V62.4H61.5M71.9 64.2H64.6V64.6H71.9M64.6 64.4H61.3V64.8H71.9M71.9 64H61V64.6H61.3M71.9 65.2H58.6V65.5H71.9M61 64.3H57.6V65.3H58.6M60 61.1H57.2V64.8H57.6M71.9 65.8H64V66.1H71.9M71.9 66.7H67.1V67H71.9M71.9 66.3H65.8V66.8H67.1M65.8 66.6H62.8V67.2H71.9M64 65.9H62.2V66.9H62.8M62.2 66.4H61.9V67.6H71.9M57.2 62.9H54.4V67H61.9M54.4 65H53.9V67.8H71.9M48.6 53.9H47V66.4H53.9M48 48.6H43.3V60.2H47M40.6 28.9H34.4V54.4H43.3M71.9 68.5H54.2V68.8H71.9M71.9 69.1H52.7V69.4H71.9M54.2 68.6H48.6V69.2H52.7M71.9 68.2H45.8V68.9H48.6M71.9 70.6H60.7V70.9H71.9M60.7 70.8H60.4V71.2H71.9M71.9 70.3H53.4V71H60.4M71.9 70H52.8V70.7H53.4M52.8 70.3H47.3V71.5H71.9M47.3 70.9H46.6V71.8H71.9M71.9 69.7H45.8V71.4H46.6M45.8 68.5H45V70.5H45.8M71.9 73.7H65.8V74H71.9M65.8 73.8H65.6V74.3H71.9M65.6 74.1H65.4V74.6H71.9M71.9 73.4H65.2V74.3H65.4M71.9 73.1H65V73.9H65.2M65 73.5H64.4V74.9H71.9M64.4 74.2H64.2V75.2H71.9M71.9 72.8H60.2V74.7H64.2M71.9 75.8H69.6V76.2H71.9M69.6 76H68V76.5H71.9M68 76.2H65.7V76.8H71.9M71.9 75.5H65.6V76.5H65.7M71.9 77.1H68.4V77.4H71.9M68.4 77.2H66.4V77.7H71.9M66.4 77.5H66.2V78H71.9M65.6 76H65.4V77.7H66.2M60.2 73.7H59.8V76.9H65.4M71.9 72.5H59.4V75.3H59.8M59.4 73.9H59.1V78.3H71.9M71.9 78.6H59.3V78.9H71.9M59.1 76.1H53.1V78.8H59.3M53.1 77.4H52.6V79.2H71.9M52.6 78.3H52V79.5H71.9M52 78.9H51.3V79.8H71.9M71.9 72.2H50.7V79.4H51.3M71.9 80.8H64.4V81.1H71.9M71.9 80.4H62V80.9H64.4M62 80.7H61.7V81.3H71.9M61.7 81H61.3V81.7H71.9M61.3 81.3H61V81.9H71.9M71.9 80.2H60.7V81.6H61M71.9 82.8H69.1V83.2H71.9M71.9 82.5H65.6V83H69.1M71.9 82.2H64V82.8H65.6M64 82.5H63.1V83.4H71.9M63.1 83H62V83.8H71.9M71.9 84H66.3V84.3H71.9M71.9 84.9H69.7V85.2H71.9M71.9 85.6H68.9V85.8H71.9M69.7 85.1H67.4V85.7H68.9M71.9 84.7H67.3V85.4H67.4M66.3 84.2H66.2V85H67.3M62 83.4H60.2V84.6H66.2M60.7 80.9H52V84H60.2M50.7 75.8H46V82.4H52M71.9 87H62.9V87.3H71.9M71.9 86.8H60.1V87.2H62.9M71.9 87.7H61.2V87.9H71.9M71.9 88.2H61.5V88.6H71.9M61.5 88.4H58V88.8H71.9M61.2 87.8H57.6V88.6H58M60.1 87H57.1V88.2H57.6M71.9 86.4H56.7V87.6H57.1M56.7 87H55.9V89.2H71.9M71.9 86.2H55.4V88.1H55.9M55.4 87.1H54.9V89.4H71.9M71.9 90.3H60.7V90.7H71.9M60.7 90.5H56.1V91H71.9M71.9 90H55.6V90.7H56.1M71.9 89.8H55.1V90.4H55.6M55.1 90.1H54.6V91.2H71.9M54.6 90.7H54V91.6H71.9M54 91.1H53.5V91.8H71.9M54.9 88.3H50V91.5H53.5M46 79.1H41.8V89.9H50M71.9 92.2H57.9V92.5H71.9M71.9 93.7H66V94H71.9M71.9 93.4H65.5V93.9H66M71.9 94.3H64.4V94.7H71.9M65.5 93.6H61.9V94.5H64.4M71.9 93.1H61.6V94.1H61.9M71.9 95.3H64V95.6H71.9M64 95.4H63.2V95.9H71.9M71.9 95H63V95.7H63.2M61.6 93.6H58.1V95.3H63M71.9 96.5H57.9V96.8H71.9M71.9 96.2H57.5V96.7H57.9M58.1 94.5H52.1V96.5H57.5M71.9 92.8H50.7V95.5H52.1M57.9 92.3H50V94.1H50.7M41.8 84.5H39.9V93.2H50M71.9 97.8H65.8V98.1H71.9M65.8 97.9H60.8V98.4H71.9M60.8 98.2H60.2V98.7H71.9M71.9 97.5H59.9V98.4H60.2M59.9 98H59.5V99H71.9M59.5 98.5H57.9V99.3H71.9M71.9 97.2H50.6V98.9H57.9M71.9 100H62.4V100.3H71.9M71.9 99.7H62.1V100.1H62.4M71.9 100.6H65.5V100.9H71.9M65.5 100.8H64.1V101.2H71.9M64.1 101H63.3V101.5H71.9M62.1 99.9H61.8V101.3H63.3M61.8 100.6H58.1V101.8H71.9M50.6 98H48V101.2H58.1M39.9 88.9H36V99.6H48M45 69.5H31.3V94.2H36M34.4 41.7H25.1V81.9H31.3M71.9 103H60.4V103.3H71.9M71.9 102.8H53.6V103.2H60.4M71.9 103.7H58.6V104H71.9M58.6 103.8H53.3V104.2H71.9M53.6 103H52.8V104H53.3M52.8 103.5H52.2V104.6H71.9M71.9 102.4H51.6V104H52.2M71.9 102.2H45.8V103.2H51.6M45.8 102.7H45V104.8H71.9M71.9 106H65.5V106.3H71.9M65.5 106.2H62.2V106.7H71.9M71.9 105.8H60V106.4H62.2M60 106.1H57.9V106.9H71.9M71.9 105.4H57.4V106.5H57.9M71.9 107.5H62.9V107.8H71.9M71.9 107.2H59.5V107.7H62.9M57.4 106H57V107.5H59.5M71.9 105.2H48V106.7H57M45 103.8H27.8V105.9H48M71.9 108.2H66.6V108.5H71.9M71.9 109.1H66.3V109.4H71.9M71.9 108.8H66.2V109.2H66.3M66.6 108.3H64.8V109H66.2M71.9 110H62.4V110.3H71.9M62.4 110.1H62.1V110.6H71.9M71.9 109.7H61V110.4H62.1M64.8 108.6H60.7V110H61M60.7 109.3H60.4V110.9H71.9M71.9 111.2H61.4V111.5H71.9M61.4 111.3H59.8V111.8H71.9M60.4 110.1H52.6V111.6H59.8M52.6 110.8H52V112.1H71.9M71.9 112.7H54.7V113H71.9M71.9 113.3H53V113.6H71.9M54.7 112.9H52.4V113.5H53M71.9 112.4H51.8V113.2H52.4M52 111.5H42.9V112.8H51.8M71.9 113.9H53.7V114.2H71.9M71.9 114.5H64.6V114.8H71.9M64.6 114.7H55.1V115.1H71.9M53.7 114.1H47V114.9H55.1M71.9 115.4H48.1V115.7H71.9M48.1 115.6H47.4V116H71.9M47 114.5H46.2V115.8H47.4M71.9 116.3H57.1V116.7H71.9M71.9 117.9H66.8V118.2H71.9M71.9 117.6H63.7V118H66.8M71.9 117.3H63.5V117.8H63.7M63.5 117.5H63.2V118.5H71.9M71.9 117H63V118H63.2M71.9 119.1H68.5V119.4H71.9M68.5 119.2H68.4V119.7H71.9M71.9 120.3H71.1V120.6H71.9M71.9 120H69.7V120.4H71.1M68.4 119.5H68.3V120.2H69.7M68.3 119.8H67.1V120.9H71.9M71.9 118.8H67V120.4H67.1M63 117.5H62.7V119.6H67M71.9 121.8H62.8V122.1H71.9M71.9 121.5H58.7V122H62.8M71.9 121.2H58.3V121.7H58.7M62.7 118.5H57.8V121.5H58.3M57.1 116.5H54.1V120H57.8M46.2 115.2H45.4V118.2H54.1M45.4 116.7H44.6V122.4H71.9M71.9 123H46.2V123.3H71.9M71.9 123.6H56.4V123.9H71.9M56.4 123.8H49.6V124.2H71.9M46.2 123.2H45.4V124H49.6M71.9 122.7H44.6V123.6H45.4M44.6 119.6H43.8V123.2H44.6M71.9 124.5H61.5V124.8H71.9M43.8 121.4H42.9V124.7H61.5M42.9 112.1H42V123H42.9M71.9 125.4H62.9V125.8H71.9M62.9 125.6H62.6V126H71.9M71.9 125.2H62.3V125.8H62.6M71.9 126.6H69.6V126.9H71.9M71.9 127.2H70.3V127.5H71.9M70.3 127.4H69.6V127.8H71.9M69.6 126.8H68.8V127.6H69.6M71.9 128.1H68.5V128.4H71.9M68.5 128.3H66.7V128.7H71.9M68.8 127.2H65.6V128.5H66.7M71.9 126.3H62.6V127.9H65.6M62.3 125.5H62V127.1H62.6M62 126.3H61V129H71.9M71.9 129.3H60.4V129.6H71.9M60.4 129.5H58.6V129.9H71.9M58.6 129.7H58.1V130.2H71.9M71.9 130.5H64V130.8H71.9M64 130.7H62.9V131.1H71.9M71.9 131.4H63.1V131.7H71.9M63.1 131.6H62.8V132H71.9M71.9 132.3H64.8V132.6H71.9M62.8 131.8H62.5V132.5H64.8M62.9 130.9H58.7V132.2H62.5M58.1 130H57.7V131.5H58.7M61 127.7H55.9V130.8H57.7M71.9 133.5H68.5V133.8H71.9M68.5 133.7H68.4V134.1H71.9M71.9 133.2H66.5V133.9H68.4M66.5 133.6H66.3V134.4H71.9M71.9 132.9H66.1V134H66.3M66.1 133.5H65.9V134.7H71.9M71.9 135.3H64.6V135.6H71.9M71.9 135H64.4V135.5H64.6M71.9 136.2H64.9V136.5H71.9M64.9 136.4H64.6V136.8H71.9M71.9 135.9H64.4V136.6H64.6M64.4 135.3H64.2V136.3H64.4M65.9 134.1H62.2V135.8H64.2M71.9 137.1H62.2V137.4H71.9M62.2 134.9H61.8V137.3H62.2M61.8 136.1H61.5V137.7H71.9M61.5 136.9H56.3V138H71.9M55.9 129.2H49.8V137.5H56.3M71.9 138.3H60.6V138.6H71.9M71.9 138.9H60.6V139.2H71.9M60.6 138.5H60.2V139.1H60.6M60.2 138.8H58.5V139.5H71.9M58.5 139.2H50V139.8H71.9M49.8 133.4H45V139.5H50M42 117.6H34.4V136.4H45M71.9 140.5H65.4V140.8H71.9M71.9 140.2H65.2V140.6H65.4M65.2 140.4H62.6V141.1H71.9M71.9 142.6H67.3V142.9H71.9M71.9 142.3H67.2V142.7H67.3M71.9 142H67V142.5H67.2M71.9 141.7H66.2V142.2H67M71.9 143.2H66.7V143.5H71.9M66.2 141.9H63.4V143.3H66.7M71.9 144.1H68.2V144.4H71.9M71.9 143.8H66.4V144.2H68.2M71.9 145H65.7V145.3H71.9M71.9 144.7H65.5V145.1H65.7M66.4 144H63.4V144.9H65.5M63.4 142.6H63.2V144.4H63.4M71.9 141.4H61V143.5H63.2M61 142.4H58.9V145.6H71.9M58.9 144H58.5V145.9H71.9M71.9 146.5H66.4V146.8H71.9M71.9 146.2H66.2V146.6H66.4M58.5 144.9H57.9V146.4H66.2M57.9 145.7H57.4V147.1H71.9M71.9 147.7H64.9V148H71.9M64.9 147.8H64.7V148.3H71.9M71.9 147.4H64.5V148.1H64.7M64.5 147.7H64.3V148.6H71.9M71.9 149.8H69.7V150.1H71.9M71.9 149.5H69.6V149.9H69.7M69.6 149.7H69.4V150.4H71.9M69.4 150.1H68.3V150.7H71.9M68.3 150.4H67.7V151H71.9M71.9 149.2H66.4V150.7H67.7M71.9 148.9H63.4V149.9H66.4M71.9 151.3H64.3V151.6H71.9M63.4 149.4H60.9V151.5H64.3M64.3 148.2H60.6V150.4H60.9M60.6 149.3H60.2V151.9H71.9M57.4 146.4H53.1V150.6H60.2M62.6 140.7H52.5V148.5H53.1M71.9 152.5H65.7V152.8H71.9M71.9 152.2H63.7V152.7H65.7M52.5 144.6H51.9V152.4H63.7M71.9 153.4H66.1V153.7H71.9M66.1 153.6H65.9V154H71.9M71.9 153.1H61.4V153.8H65.9M51.9 148.5H51.3V153.4H61.4M71.9 155.5H67.7V155.8H71.9M67.7 155.7H67.6V156.1H71.9M71.9 155.2H64V155.9H67.6M71.9 154.9H63.8V155.6H64M63.8 155.2H63.5V156.4H71.9M71.9 154.6H63.2V155.8H63.5M71.9 154.3H63V155.2H63.2M51.3 151H50.7V154.8H63M71.9 157H56.6V157.3H71.9M71.9 156.7H56.1V157.2H56.6M71.9 157.9H66V158.2H71.9M66 158.1H65.8V158.5H71.9M71.9 158.8H67.3V159.1H71.9M65.8 158.3H65V159H67.3M65 158.6H63.9V159.4H71.9M63.9 159H63.6V159.7H71.9M71.9 157.6H63V159.4H63.6M56.1 157H55.6V158.5H63M71.9 160.3H67.7V160.6H71.9M71.9 160H62.4V160.5H67.7M62.4 160.3H62.1V160.9H71.9M62.1 160.6H61.8V161.2H71.9M61.8 160.9H59.4V161.5H71.9M59.4 161.2H58.2V161.8H71.9M55.6 157.7H55.1V161.5H58.2M50.7 152.9H50V159.6H55.1M34.4 127H28.4V156.3H50M27.8 104.9H22.8V141.6H28.4M71.9 162.2H59.8V162.5H71.9M71.9 163.1H63.2V163.4H71.9M63.2 163.2H62.1V163.7H71.9M71.9 162.8H61.8V163.4H62.1M61.8 163.1H58.2V164H71.9M59.8 162.3H54.9V163.5H58.2M54.9 162.9H50.8V164.3H71.9M71.9 164.6H51.4V164.9H71.9M51.4 164.7H50.8V165.2H71.9M71.9 165.8H60.8V166.1H71.9M71.9 165.5H56.9V165.9H60.8M71.9 166.4H54.3V166.7H71.9M56.9 165.7H52.1V166.5H54.3M50.8 165H50.1V166.1H52.1M71.9 167.6H61.8V167.9H71.9M71.9 167.3H58.5V167.8H61.8M71.9 167H52.4V167.5H58.5M71.9 168.2H50.8V168.5H71.9M52.4 167.3H50.1V168.4H50.8M50.1 165.5H49.5V167.8H50.1M71.9 168.8H59.3V169.1H71.9M71.9 169.7H57.9V170H71.9M57.9 169.9H57.5V170.3H71.9M57.5 170.1H53.5V170.6H71.9M71.9 171.2H57.9V171.5H71.9M71.9 170.9H53.5V171.4H57.9M53.5 170.4H52.9V171.2H53.5M71.9 169.4H52.3V170.8H52.9M59.3 169H50.1V170.1H52.3M50.1 169.5H49.5V171.8H71.9M49.5 166.7H48.8V170.7H49.5M50.8 163.6H38V168.7H48.8M71.9 173.1H68.5V173.4H71.9M68.5 173.2H68.2V173.7H71.9M71.9 172.8H68V173.4H68.2M71.9 172.5H67.9V173.1H68M67.9 172.8H66.5V173.9H71.9M66.5 173.4H66.3V174.2H71.9M71.9 174.6H68.8V174.8H71.9M71.9 175.2H68.1V175.4H71.9M68.8 174.7H68V175.3H68.1M71.9 175.8H70.3V176H71.9M70.3 175.9H69.9V176.3H71.9M69.9 176.1H69.8V176.6H71.9M69.8 176.4H69.8V176.9H71.9M69.8 176.7H68.5V177.2H71.9M68.5 177H68.4V177.5H71.9M68.4 177.3H66.2V177.8H71.9M68 175H66V177.6H66.2M66.3 173.8H62.4V176.3H66M71.9 172.2H55V175H62.4M71.9 178.1H60.6V178.4H71.9M60.6 178.3H59.5V178.7H71.9M55 173.6H54.5V178.5H59.5M54.5 176.1H49.4V179H71.9M49.4 177.6H48.1V179.3H71.9M71.9 180.3H65.2V180.6H71.9M65.2 180.4H61.1V180.9H71.9M71.9 180H60.8V180.6H61.1M71.9 179.7H56.9V180.3H60.8M48.1 178.5H42V180H56.9M38 166.1H25.1V179.2H42M71.9 181.5H62.2V181.8H71.9M71.9 183.3H64.9V183.6H71.9M71.9 183H64.7V183.4H64.9M71.9 182.7H64.1V183.2H64.7M71.9 182.4H62.8V182.9H64.1M62.8 182.7H62.5V183.9H71.9M71.9 182.1H62.2V183.3H62.5M62.2 181.6H61.9V182.7H62.2M71.9 184.5H68.1V184.8H71.9M71.9 184.2H62.7V184.7H68.1M71.9 186.3H65.7V186.6H71.9M71.9 186H63.6V186.5H65.7M71.9 185.7H63.3V186.2H63.6M71.9 185.4H61.5V186H63.3M71.9 185.1H61.2V185.7H61.5M71.9 187.5H66.9V187.8H71.9M71.9 187.2H65.1V187.7H66.9M71.9 188.2H64.6V188.5H71.9M65.1 187.5H62.1V188.3H64.6M71.9 186.9H61.8V187.9H62.1M61.2 185.4H60.1V187.4H61.8M60.1 186.4H59.6V188.8H71.9M59.6 187.6H59.2V189.1H71.9M62.7 184.4H58.8V188.3H59.2M71.9 190H68V190.3H71.9M71.9 190.6H67.4V190.9H71.9M67.4 190.7H66.4V191.2H71.9M68 190.1H65.5V191H66.4M71.9 189.7H65.3V190.5H65.5M65.3 190.1H61.8V191.5H71.9M71.9 191.8H69.2V192.1H71.9M69.2 192H67.5V192.4H71.9M61.8 190.8H61.5V192.2H67.5M71.9 189.4H61.2V191.5H61.5M71.9 192.7H57.5V193H71.9M61.2 190.4H54.9V192.9H57.5M71.9 193.6H66.5V193.9H71.9M71.9 193.3H64.7V193.8H66.5M54.9 191.7H50.4V193.6H64.7M50.4 192.6H49.7V194.2H71.9M71.9 194.5H56.3V194.8H71.9M49.7 193.4H49V194.7H56.3M58.8 186.4H39.7V194.1H49M61.9 182.1H38.7V190.2H39.7M71.9 181.2H36V186.2H38.7M71.9 195.5H59.7V195.8H71.9M59.7 195.6H59.3V196.1H71.9M71.9 195.2H52.3V195.8H59.3M71.9 196.4H60.5V196.7H71.9M71.9 197.6H64.8V197.9H71.9M64.8 197.8H64.6V198.2H71.9M71.9 197.3H64.4V198H64.6M64.4 197.6H64.1V198.5H71.9M71.9 197H62.7V198.1H64.1M60.5 196.5H57.4V197.5H62.7M71.9 199.7H61.7V200H71.9M71.9 199.4H61.4V199.9H61.7M61.4 199.7H61.1V200.3H71.9M71.9 199.1H59.1V200H61.1M71.9 200.7H60.6V201H71.9M59.1 199.6H54.8V200.8H60.6M71.9 198.8H54.3V200.2H54.8M71.9 201.6H62.8V201.9H71.9M71.9 201.3H62.5V201.7H62.8M71.9 202.2H65V202.5H71.9M62.5 201.5H62.2V202.3H65M54.3 199.5H52.8V201.9H62.2M52.8 200.7H45.4V202.8H71.9M71.9 203.7H55V204H71.9M71.9 203.4H53.1V203.9H55M71.9 203.1H52.5V203.6H53.1M52.5 203.4H51.9V204.3H71.9M45.4 201.7H44.6V203.8H51.9M57.4 197H43.8V202.8H44.6M71.9 204.9H55.5V205.2H71.9M71.9 204.6H54.7V205.1H55.5M71.9 205.5H46.9V205.8H71.9M54.7 204.9H43.8V205.7H46.9M43.8 199.9H42.9V205.3H43.8M52.3 195.5H42V202.6H42.9M36 183.7H25.1V199H42M25.1 172.7H22.4V191.4H25.1M71.9 206.2H55.5V206.5H71.9M71.9 207.7H68.3V208H71.9M71.9 207.4H67.5V207.8H68.3M67.5 207.6H67.4V208.3H71.9M71.9 208.9H67.4V209.2H71.9M67.4 209H66V209.5H71.9M71.9 208.6H65.8V209.3H66M71.9 210.1H69.7V210.4H71.9M71.9 211.3H70.6V211.6H71.9M71.9 211H70.6V211.5H70.6M71.9 211.9H70.8V212.2H71.9M70.6 211.2H70.5V212.1H70.8M71.9 210.7H69.7V211.7H70.5M69.7 210.3H68.6V211.2H69.7M68.6 210.7H68.5V212.5H71.9M71.9 209.8H67.9V211.6H68.5M65.8 208.9H65.6V210.7H67.9M67.4 207.9H63.6V209.8H65.6M71.9 207.1H57.7V208.9H63.6M71.9 206.8H50.1V208H57.7M55.5 206.3H49.4V207.4H50.1M71.9 213.8H68.1V214.1H71.9M71.9 213.5H66.4V213.9H68.1M66.4 213.7H62.9V214.4H71.9M71.9 213.2H60.5V214H62.9M71.9 214.7H71.2V215H71.9M71.2 214.8H69.9V215.3H71.9M69.9 215.1H69.8V215.6H71.9M69.8 215.3H69.8V215.9H71.9M69.8 215.6H69.5V216.2H71.9M71.9 216.5H69.7V216.8H71.9M69.5 215.9H69V216.7H69.7M69 216.3H67.8V217.1H71.9M71.9 217.4H68.5V217.7H71.9M68.5 217.6H68.4V218H71.9M67.8 216.7H64.4V217.8H68.4M60.5 213.6H60.2V217.2H64.4M60.2 215.4H59.8V218.3H71.9M71.9 212.8H59.5V216.9H59.8M71.9 218.6H58V218.9H71.9M58 218.8H57.6V219.2H71.9M59.5 214.9H45.6V219H57.6M71.9 219.5H45.6V219.8H71.9M45.6 216.9H44.8V219.7H45.6M49.4 206.8H44V218.3H44.8M71.9 220.8H66.4V221.1H71.9M66.4 220.9H66.2V221.4H71.9M66.2 221.1H64.1V221.7H71.9M64.1 221.4H63.8V222H71.9M71.9 222.3H65.4V222.6H71.9M71.9 222.9H66.2V223.2H71.9M66.2 223H66V223.5H71.9M65.4 222.4H65V223.2H66M65 222.8H61.1V223.8H71.9M61.1 223.3H60.7V224.1H71.9M63.8 221.7H59.9V223.7H60.7M71.9 220.5H54.1V222.7H59.9M71.9 220.2H47.5V221.6H54.1M47.5 220.9H46.8V224.3H71.9M71.9 225.3H67.6V225.6H71.9M71.9 225H67.1V225.4H67.6M71.9 225.9H69.6V226.2H71.9M67.1 225.2H67V226H69.6M71.9 226.8H68V227.1H71.9M68 226.9H66.4V227.4H71.9M66.4 227.1H66.2V227.7H71.9M71.9 226.5H66V227.4H66.2M66 226.9H65.1V227.9H71.9M67 225.6H64.9V227.4H65.1M71.9 229.2H70.1V229.4H71.9M70.1 229.3H70.1V229.8H71.9M70.1 229.5H69.5V230H71.9M71.9 228.9H69V229.8H69.5M69 229.3H68.5V230.3H71.9M71.9 228.6H68.4V229.8H68.5M68.4 229.2H68.3V230.6H71.9M71.9 228.2H67.6V229.9H68.3M64.9 226.5H63.2V229.1H67.6M71.9 230.9H62.1V231.2H71.9M63.2 227.8H60.7V231.1H62.1M71.9 224.7H52.1V229.4H60.7M52.1 227H47.5V231.5H71.9M47.5 229.3H46.8V231.8H71.9M46.8 222.6H46V230.6H46.8M44 212.6H36V226.6H46M71.9 233.1H62.1V233.4H71.9M71.9 233.7H59.3V234H71.9M59.3 233.8H58.9V234.2H71.9M71.9 234.6H57V234.8H71.9M58.9 234H56.6V234.7H57M71.9 235.2H57V235.4H71.9M57 235.3H56.6V235.8H71.9M56.6 234.4H56.1V235.5H56.6M62.1 233.2H55.6V234.9H56.1M71.9 232.8H50.3V234.1H55.6M71.9 232.5H48.5V233.4H50.3M71.9 232.2H47.8V232.9H48.5M71.9 236.1H57.4V236.3H71.9M57.4 236.2H55.2V236.7H71.9M71.9 237H60.5V237.2H71.9M60.5 237.1H55.9V237.6H71.9M55.2 236.4H54.7V237.3H55.9M71.9 237.9H63.5V238.2H71.9M63.5 238H62.7V238.5H71.9M71.9 239.1H69.9V239.3H71.9M71.9 238.8H69.8V239.2H69.9M69.8 239H69.5V239.7H71.9M69.5 239.3H69.5V240H71.9M71.9 240.9H70.9V241.2H71.9M71.9 242.3H71V242.6H71.9M71.9 242H71V242.5H71M71.9 241.8H70.8V242.3H71M71.9 241.4H70.7V242H70.8M71.9 242.9H70.3V243.2H71.9M70.7 241.7H70.2V243.1H70.3M70.2 242.4H69.5V243.5H71.9M70.9 241H69.4V243H69.5M71.9 240.6H68.5V242H69.4M71.9 240.3H68.2V241.3H68.5M68.2 240.8H68V243.8H71.9M71.9 244.4H68.9V244.7H71.9M71.9 245H70.2V245.3H71.9M70.2 245.2H70.1V245.6H71.9M68.9 244.6H68.8V245.4H70.1M71.9 246.2H68.7V246.5H71.9M71.9 245.9H68.4V246.4H68.7M71.9 246.8H68.4V247.1H71.9M68.4 246.2H68.2V247H68.4M68.8 245H68.1V246.6H68.2M71.9 244.1H68V245.8H68.1M68 242.3H67.9V245H68M67.9 243.6H67.8V247.4H71.9M69.5 239.6H67.5V245.5H67.8M67.5 242.6H65.2V247.7H71.9M62.7 238.2H59.1V245.2H65.2M59.1 241.7H58.7V248H71.9M54.7 236.9H54.2V244.9H58.7M47.8 232.5H42.9V240.9H54.2M71.9 248.9H59.1V249.2H71.9M71.9 248.6H56.5V249.1H59.1M56.5 248.9H56.1V249.5H71.9M71.9 248.3H52.2V249.2H56.1M52.2 248.8H51.6V249.8H71.9M42.9 236.7H42V249.3H51.6M71.9 250.5H64.9V250.8H71.9M64.9 250.6H61.4V251.1H71.9M71.9 251.7H65.4V252H71.9M71.9 251.4H65.2V251.8H65.4M71.9 252.9H69.5V253.2H71.9M69.5 253H68.9V253.5H71.9M71.9 252.6H65.4V253.2H68.9M71.9 253.8H63.7V254.1H71.9M65.4 252.9H63.4V253.9H63.7M71.9 252.3H63.2V253.4H63.4M63.2 252.8H60.9V254.4H71.9M65.2 251.6H60.6V253.6H60.9M61.4 250.8H60.1V252.6H60.6M71.9 255.9H65.1V256.1H71.9M71.9 255.6H64V256H65.1M71.9 255.3H62.9V255.8H64M71.9 255H62V255.5H62.9M71.9 254.7H61.7V255.2H62M61.7 254.9H61.4V256.5H71.9M60.1 251.7H56.5V255.7H61.4M71.9 257.1H67.4V257.4H71.9M67.4 257.2H67.2V257.6H71.9M71.9 258H67.8V258.2H71.9M67.2 257.4H66.8V258.1H67.8M66.8 257.8H65.2V258.5H71.9M65.2 258.2H61.7V258.9H71.9M71.9 256.8H61.4V258.5H61.7M71.9 259.1H63.9V259.5H71.9M71.9 260.1H70.1V260.4H71.9M71.9 261.9H71.2V262.1H71.9M71.9 261.5H71.1V262H71.2M71.9 261.2H70.7V261.8H71.1M70.7 261.5H70.5V262.4H71.9M71.9 261H70V262H70.5M71.9 260.6H68.4V261.5H70M70.1 260.2H68.3V261.1H68.4M71.9 263H68.3V263.3H71.9M71.9 262.8H68.2V263.2H68.3M68.3 260.6H65.3V263H68.2M65.3 261.8H65.1V263.6H71.9M65.1 262.7H64.9V263.9H71.9M71.9 259.8H64.7V263.3H64.9M63.9 259.3H61.7V261.5H64.7M61.7 260.4H61.4V264.2H71.9M61.4 257.6H61.1V262.3H61.4M61.1 260H60.8V264.5H71.9M56.5 253.7H46.6V262.3H60.8M46.6 258H45.8V264.9H71.9M71.9 250.2H45V261.4H45.8M42 243H36V255.8H45M71.9 265.8H70.4V266.1H71.9M70.4 265.9H69.8V266.4H71.9M71.9 265.5H67.7V266.1H69.8M71.9 266.7H68.6V267H71.9M71.9 267.3H66.5V267.6H71.9M68.6 266.8H65V267.4H66.5M71.9 268.2H68.1V268.5H71.9M71.9 267.9H67.5V268.3H68.1M67.5 268.1H65V268.8H71.9M65 267.1H64.8V268.4H65M71.9 270.3H70.2V270.6H71.9M71.9 270H70.1V270.4H70.2M71.9 269.7H69.6V270.2H70.1M71.9 269.4H69.3V270H69.6M69.3 269.7H69.2V270.9H71.9M69.2 270.3H68.5V271.2H71.9M71.9 269.1H66.7V270.7H68.5M71.9 271.5H69.1V271.8H71.9M71.9 272.1H69V272.4H71.9M69.1 271.7H68.9V272.3H69M71.9 273H68.5V273.3H71.9M71.9 272.7H68.4V273.2H68.5M68.9 272H67.2V272.9H68.4M66.7 269.9H65.7V272.4H67.2M64.8 267.8H64.6V271.2H65.7M67.7 265.8H63.8V269.5H64.6M71.9 265.2H60.1V267.6H63.8M71.9 273.6H61.4V273.9H71.9M61.4 273.8H57.3V274.2H71.9M71.9 275.7H68.5V276H71.9M68.5 275.9H68V276.3H71.9M71.9 275.4H66.6V276.1H68M71.9 275.1H63.5V275.8H66.6M71.9 274.8H63.3V275.4H63.5M71.9 274.5H58.1V275.1H63.3M57.3 274H54.1V274.8H58.1M60.1 266.4H53.6V274.4H54.1M71.9 276.6H58.1V276.9H71.9M53.6 270.4H53V276.8H58.1M53 273.6H50.3V277.2H71.9M50.3 275.4H41V277.5H71.9M41 276.5H40V277.8H71.9M71.9 278.5H69.7V278.8H71.9M69.7 278.6H69.1V279.1H71.9M69.1 278.8H66.8V279.4H71.9M71.9 278.2H64.3V279.1H66.8M64.3 278.6H63.3V279.7H71.9M63.3 279.1H63V280H71.9M63 279.6H59.8V280.3H71.9M71.9 281.2H58.4V281.5H71.9M58.4 281.3H57.9V281.8H71.9M71.9 280.9H56.8V281.6H57.9M71.9 280.6H54.3V281.2H56.8M71.9 283H65.7V283.3H71.9M71.9 282.7H62.7V283.1H65.7M71.9 282.4H59.6V282.9H62.7M71.9 282.1H56.3V282.7H59.6M54.3 280.9H52.7V282.4H56.3M71.9 284.5H67.2V284.8H71.9M71.9 284.2H64.4V284.7H67.2M71.9 283.9H64.2V284.4H64.4M71.9 283.6H59V284.2H64.2M71.9 285.4H65.8V285.7H71.9M65.8 285.6H65.2V286H71.9M71.9 286.6H62.3V286.9H71.9M71.9 287.5H63.9V287.8H71.9M71.9 287.2H62.3V287.7H63.9M62.3 286.8H62V287.5H62.3M71.9 286.3H61.7V287.1H62M65.2 285.8H61.4V286.7H61.7M71.9 288.4H67.5V288.7H71.9M67.5 288.6H61.1V289H71.9M71.9 288.1H60.7V288.8H61.1M61.4 286.3H59.6V288.5H60.7M71.9 285.1H53.3V287.4H59.6M59 283.9H52.7V286.2H53.3M52.7 281.6H52.2V285.1H52.7M59.8 279.9H44V283.3H52.2M40 277.2H33.6V281.6H44M36 249.4H31.3V279.4H33.6M36 219.6H26V264.4H31.3M22.4 182H20.5V242H26M22.8 123.2H20.6V212H20.5M25.1 61.8H20.2V167.6H20.6M68.9 364H65.5V364.3H68.9M68.9 363.7H64.7V364.1H65.5M64.7 363.9H64.5V364.6H68.9M64.5 364.2H64.4V364.9H68.9M64.4 364.5H64.3V365.2H68.9M68.9 366.1H64.9V366.4H68.9M68.9 365.8H63.6V366.2H64.9M68.9 367H65.3V367.3H68.9M68.9 366.7H64.8V367.1H65.3M68.9 367.6H64.8V367.9H68.9M64.8 366.9H64.7V367.7H64.8M68.9 368.2H64.3V368.5H68.9M64.7 367.3H63.6V368.3H64.3M63.6 366H63.5V367.8H63.6M68.9 365.5H63.3V366.9H63.5M68.9 369.4H65.6V369.7H68.9M68.9 369.1H64.2V369.6H65.6M68.9 368.8H63.9V369.3H64.2M63.9 369.1H63.8V370H68.9M63.8 369.5H63.5V370.3H68.9M63.3 366.2H63.1V369.9H63.5M68.9 370.9H64.6V371.2H68.9M68.9 370.6H63.9V371.1H64.6M68.9 371.5H63.9V371.8H68.9M63.9 370.8H63.8V371.7H63.9M63.8 371.3H63.6V372.1H68.9M68.9 372.4H64.8V372.7H68.9M68.9 373H65.6V373.3H68.9M65.6 373.2H65.5V373.6H68.9M65.5 373.4H65.4V373.9H68.9M68.9 374.5H64.6V374.8H68.9M68.9 374.2H64.4V374.7H64.6M65.4 373.7H63V374.5H64.4M64.8 372.6H62.8V374.1H63M63.6 371.7H62.6V373.3H62.8M63.1 368.1H62.4V372.5H62.6M64.3 364.9H62.2V370.3H62.4M68.9 363.4H62V367.6H62.2M68.9 375.2H62.5V375.5H68.9M68.9 376.1H64V376.4H68.9M68.9 375.8H63.9V376.2H64M68.9 376.7H64.4V377H68.9M68.9 377.3H64V377.6H68.9M64.4 376.8H63.9V377.4H64M63.9 376H63.7V377.1H63.9M68.9 377.9H66.3V378.2H68.9M68.9 378.8H66.1V379.1H68.9M68.9 378.5H66.1V378.9H66.1M66.1 378.7H65.5V379.4H68.9M66.3 378H65.4V379.1H65.5M65.4 378.5H63.7V379.7H68.9M63.7 376.6H63.6V379.1H63.7M68.9 380H65.2V380.3H68.9M68.9 380.6H64.8V380.9H68.9M64.8 380.8H64.3V381.2H68.9M68.9 381.5H67.2V381.8H68.9M67.2 381.7H66.5V382.1H68.9M64.3 381H64V381.9H66.5M65.2 380.2H63.9V381.4H64M68.9 382.7H65.9V383H68.9M65.9 382.9H65.8V383.3H68.9M68.9 382.4H64.4V383.1H65.8M63.9 380.8H63.6V382.8H64.4M68.9 383.6H65.7V383.9H68.9M68.9 384.2H65.5V384.5H68.9M65.7 383.8H65.4V384.4H65.5M65.4 384.1H65.3V384.8H68.9M68.9 385.5H66.3V385.8H68.9M68.9 385.2H65.6V385.6H66.3M65.3 384.5H63.6V385.4H65.6M63.6 381.8H63.4V384.9H63.6M63.6 377.8H63.3V383.4H63.4M68.9 386.1H65.2V386.4H68.9M65.2 386.2H64.7V386.7H68.9M68.9 387H63.3V387.3H68.9M64.7 386.4H63.1V387.1H63.3M68.9 387.9H65.7V388.2H68.9M65.7 388H65.6V388.5H68.9M68.9 387.6H63.3V388.3H65.6M68.9 389.4H63.9V389.7H68.9M68.9 389.1H63.8V389.5H63.9M68.9 388.8H63.6V389.3H63.8M68.9 390H65.4V390.3H68.9M63.6 389.1H63.5V390.2H65.4M63.5 389.6H63.3V390.6H68.9M63.3 387.9H63.1V390.1H63.3M63.1 386.8H62.9V389H63.1M68.9 390.9H64V391.2H68.9M68.9 391.8H64.5V392.1H68.9M64.5 392H64.2V392.4H68.9M68.9 391.5H63.8V392.2H64.2M64 391.1H63.1V391.9H63.8M63.1 391.5H62.9V392.7H68.9M62.9 387.9H62.8V392.1H62.9M62.8 390H62.6V393H68.9M62.6 391.5H61V393.3H68.9M63.3 380.6H60.8V392.4H61M68.9 393.9H62.6V394.2H68.9M62.6 394.1H61.3V394.5H68.9M68.9 393.6H60.8V394.3H61.3M60.8 386.5H60.5V394H60.8M60.5 390.2H60.3V394.8H68.9M62.5 375.3H60V392.5H60.3M62 365.5H58.4V383.9H60M68.9 396.7H68.4V397H68.9M68.9 396.4H68.3V396.8H68.4M68.9 397.3H68.3V397.6H68.9M68.3 396.6H68.3V397.4H68.3M68.9 396.1H68.2V397H68.3M68.9 395.8H68.1V396.5H68.2M68.9 397.9H67.9V398.2H68.9M68.1 396.1H67.8V398H67.9M68.9 395.5H67.8V397.1H67.8M67.8 396.3H67.4V398.5H68.9M68.9 398.8H67.2V399.1H68.9M68.9 399.7H67.5V400H68.9M68.9 399.4H67.2V399.8H67.5M67.2 398.9H67.1V399.6H67.2M67.1 399.3H67V400.3H68.9M67.4 397.4H66.5V399.8H67M68.9 395.2H64.6V398.6H66.5M68.9 400.6H67.1V400.9H68.9M67.1 400.7H66.7V401.2H68.9M68.9 402.1H66.3V402.4H68.9M68.9 401.8H66V402.2H66.3M68.9 401.5H65.9V402H66M66.7 400.9H65.6V401.7H65.9M65.6 401.3H65.4V402.7H68.9M68.9 403H67V403.3H68.9M68.9 403.9H67.3V404.2H68.9M68.9 403.6H67V404H67.3M67 403.1H67V403.8H67M67 403.5H65.6V404.5H68.9M68.9 405.1H67V405.4H68.9M68.9 404.8H65.3V405.2H67M65.6 404H65.2V405H65.3M68.9 406.3H67.8V406.6H68.9M68.9 406H67.7V406.4H67.8M68.9 405.7H67.4V406.2H67.7M68.9 407.5H67.3V407.8H68.9M67.3 407.7H66.9V408.1H68.9M68.9 407.2H66.8V407.9H66.9M68.9 406.9H66.8V407.5H66.8M67.4 406H66.7V407.2H66.8M66.7 406.6H66.6V408.4H68.9M68.9 408.7H65.7V409H68.9M66.6 407.5H65.3V408.9H65.7M65.3 408.2H65.2V409.3H68.9M65.2 404.5H65.1V408.7H65.2M68.9 410.2H66.9V410.5H68.9M68.9 409.9H66.8V410.4H66.9M68.9 410.8H66.8V411.1H68.9M66.8 410.1H66.7V411H66.8M68.9 409.6H66.5V410.5H66.7M65.1 406.6H65V410.1H66.5M65.4 402H63.6V408.3H65M63.6 405.2H63.4V411.4H68.9M68.9 412H65.9V412.3H68.9M68.9 412.9H65.4V413.2H68.9M68.9 412.6H65.3V413.1H65.4M65.3 412.8H65.2V413.5H68.9M65.9 412.2H65.1V413.2H65.2M65.1 412.7H65V413.8H68.9M68.9 411.7H64.8V413.3H65M68.9 415H66V415.3H68.9M68.9 415.6H65.3V415.9H68.9M66 415.2H65.2V415.8H65.3M65.2 415.5H65.1V416.2H68.9M68.9 414.7H64.4V415.9H65.1M68.9 414.4H64.2V415.3H64.4M68.9 414.1H64.1V414.9H64.2M64.8 412.5H63.7V414.5H64.1M68.9 417.1H67.1V417.4H68.9M67.1 417.3H67V417.7H68.9M67 417.5H66.7V418H68.9M66.7 417.8H66.6V418.3H68.9M68.9 416.8H66.6V418.1H66.6M68.9 418.6H66.1V418.9H68.9M66.6 417.4H65.6V418.8H66.1M68.9 416.5H65.5V418.1H65.6M68.9 419.5H64.3V419.8H68.9M68.9 419.2H62.5V419.7H64.3M65.5 417.3H62.3V419.5H62.5M63.7 413.5H62.1V418.4H62.3M63.4 408.3H60.9V415.9H62.1M64.6 396.9H60V412.1H60.9M58.4 374.7H54.3V404.5H60M68.9 420.2H63V420.5H68.9M68.9 421.7H66.4V422H68.9M68.9 421.4H66.3V421.8H66.4M68.9 421.1H66.3V421.6H66.3M68.9 422.9H66.7V423.2H68.9M68.9 422.6H66.6V423H66.7M68.9 422.3H66.5V422.8H66.6M66.5 422.5H66.1V423.5H68.9M66.3 421.3H66V423H66.1M68.9 424.1H66.7V424.4H68.9M66.7 424.2H66.6V424.7H68.9M68.9 423.8H66V424.4H66.6M66 422.2H65.9V424.1H66M68.9 420.8H65.2V423.1H65.9M68.9 425.6H68V425.9H68.9M68 425.7H67.8V426.2H68.9M68.9 426.5H67.7V426.8H68.9M67.7 426.6H67.7V427.1H68.9M67.8 425.9H67.7V426.8H67.7M68.9 427.4H67.2V427.7H68.9M67.7 426.4H67.1V427.5H67.2M67.1 427H67V428H68.9M68.9 425.3H67V427.5H67M68.9 425H64.6V426.4H67M65.2 421.9H64.5V425.7H64.6M64.5 423.8H64.4V428.3H68.9M68.9 429.2H66.1V429.5H68.9M66.1 429.3H65.2V429.8H68.9M65.2 429.5H65V430.1H68.9M68.9 428.9H64.9V429.8H65M64.9 429.3H63.5V430.4H68.9M68.9 428.6H62.9V429.9H63.5M68.9 430.7H64.1V431H68.9M64.1 430.8H62.2V431.3H68.9M62.9 429.2H62V431.1H62.2M64.4 426H61.8V430.1H62M68.9 431.9H65.4V432.2H68.9M68.9 431.6H65.3V432H65.4M68.9 432.5H64.7V432.8H68.9M68.9 433.4H68V433.7H68.9M68.9 433.1H67.6V433.5H68M67.6 433.3H67.2V434H68.9M67.2 433.6H67.1V434.3H68.9M67.1 434H66.2V434.6H68.9M66.2 434.3H65.5V434.9H68.9M68.9 435.2H65.2V435.5H68.9M65.5 434.6H65.1V435.3H65.2M64.7 432.6H63V435H65.1M63 433.8H62.8V435.8H68.9M65.3 431.8H62.4V434.8H62.8M61.8 428.1H58.6V433.3H62.4M63 420.3H58.3V430.7H58.6M68.9 436.1H65.6V436.4H68.9M65.6 436.2H65.5V436.7H68.9M68.9 437.6H66.5V437.9H68.9M68.9 438.5H67.8V438.8H68.9M67.8 438.6H67V439.1H68.9M68.9 438.2H66V438.9H67M66.5 437.7H66V438.5H66M68.9 439.4H67.3V439.7H68.9M66 438.1H65.9V439.5H67.3M68.9 440.3H68.6V440.6H68.9M68.9 441.2H68.8V441.5H68.9M68.9 440.9H68.7V441.4H68.8M68.7 441.1H68.7V441.8H68.9M68.6 440.5H68.6V441.5H68.7M68.6 441H68.5V442.1H68.9M68.5 441.5H68.5V442.4H68.9M68.5 442H68.4V442.7H68.9M68.9 443H68.2V443.3H68.9M68.4 442.3H67.8V443.2H68.2M67.8 442.7H67.6V443.6H68.9M68.9 440H67V443.2H67.6M68.9 444.5H67.9V444.8H68.9M67.9 444.7H67.9V445.1H68.9M68.9 445.4H67.4V445.7H68.9M67.4 445.6H66.9V446H68.9M67.9 444.9H66.8V445.8H66.9M68.9 444.2H66.8V445.3H66.8M68.9 443.9H66.5V444.8H66.8M68.9 446.3H68V446.6H68.9M68 446.5H67.4V446.9H68.9M67.4 446.7H67.3V447.2H68.9M66.5 444.3H66V447H67.3M67 441.6H65.9V445.6H66M65.9 438.8H65.8V443.6H65.9M68.9 437.3H65.1V441.2H65.8M68.9 437H64.8V439.3H65.1M65.5 436.5H63.9V438.1H64.8M68.9 447.8H66V448.1H68.9M66 448H65.4V448.4H68.9M68.9 447.5H64.9V448.2H65.4M63.9 437.3H63.7V447.9H64.9M68.9 449H64.6V449.3H68.9M68.9 448.7H64.4V449.2H64.6M64.4 448.9H62.8V449.6H68.9M68.9 449.9H65.5V450.2H68.9M68.9 450.5H65.5V450.8H68.9M65.5 450.1H65.4V450.7H65.5M68.9 451.4H65.9V451.7H68.9M68.9 451.1H65.8V451.6H65.9M65.8 451.4H65.7V452H68.9M65.4 450.4H63.8V451.7H65.7M63.8 451H63.6V452.3H68.9M68.9 452.6H63.9V452.9H68.9M63.9 452.8H63.8V453.2H68.9M63.8 453H63.6V453.5H68.9M63.6 451.7H63.5V453.3H63.6M62.8 449.3H62.6V452.5H63.5M63.7 442.6H62.4V450.9H62.6M62.4 446.7H62.1V453.8H68.9M68.9 454.4H63.7V454.7H68.9M68.9 455H65.3V455.3H68.9M68.9 455.9H64.2V456.2H68.9M68.9 455.6H63.8V456.1H64.2M65.3 455.2H62.2V455.9H63.8M63.7 454.6H62V455.5H62.2M68.9 454.1H61.1V455.1H62M62.1 450.3H60.6V454.6H61.1M68.9 457.4H65.5V457.7H68.9M68.9 457.1H65.4V457.6H65.5M65.4 457.4H65.2V458H68.9M65.2 457.7H64.7V458.3H68.9M68.9 456.8H64.5V458H64.7M68.9 456.5H64.1V457.4H64.5M68.9 458.9H66V459.2H68.9M68.9 458.6H63.8V459.1H66M68.9 459.5H65.3V459.8H68.9M63.8 458.9H63.7V459.7H65.3M64.1 457H63.5V459.3H63.7M60.6 452.4H58.3V458.1H63.5M58.3 425.5H58V455.3H58.3M54.3 389.6H51.4V440.4H58M68.9 460.2H59V460.5H68.9M68.9 461.4H61.5V461.7H68.9M68.9 462H63.8V462.3H68.9M63.8 462.1H62V462.6H68.9M61.5 461.5H61.3V462.3H62M68.9 461.1H61V461.9H61.3M68.9 460.8H59.8V461.5H61M59 460.3H58.6V461.1H59.8M68.9 463.5H63.3V463.8H68.9M68.9 463.2H63.1V463.6H63.3M68.9 465.6H66.6V465.9H68.9M68.9 465.3H66.6V465.7H66.6M68.9 465H66.5V465.5H66.6M68.9 464.7H66.4V465.2H66.5M66.4 465H66.1V466.2H68.9M68.9 464.4H66.1V465.6H66.1M66.1 465H64.2V466.5H68.9M68.9 464.1H64V465.7H64.2M63.1 463.4H62.4V464.9H64M68.9 462.9H60.2V464.1H62.4M60.2 463.5H60V466.8H68.9M68.9 467.7H66.5V468H68.9M66.5 467.8H66.5V468.3H68.9M68.9 469.2H66V469.5H68.9M66 469.4H65.9V469.8H68.9M68.9 468.9H65.7V469.6H65.9M68.9 470.4H65.9V470.7H68.9M68.9 470.1H65.8V470.6H65.9M68.9 471.6H67.8V471.9H68.9M68.9 471.3H67.5V471.8H67.8M67.5 471.5H67.5V472.2H68.9M68.9 471H66.2V471.9H67.5M65.8 470.3H65.7V471.4H66.2M65.7 469.2H65.6V470.9H65.7M65.6 470.1H65.5V472.5H68.9M65.5 471.3H65.4V472.8H68.9M68.9 468.6H65.3V472.1H65.4M66.5 468.1H65.2V470.3H65.3M68.9 467.4H62.2V469.2H65.2M62.2 468.3H59.5V473.1H68.9M68.9 473.4H66.3V473.7H68.9M66.3 473.6H64.7V474H68.9M68.9 474.9H65.1V475.2H68.9M65.1 475.1H63.1V475.5H68.9M68.9 475.8H64.3V476.1H68.9M63.1 475.3H62.9V476H64.3M62.9 475.7H62.7V476.4H68.9M68.9 474.6H62.6V476H62.7M68.9 474.3H62.3V475.3H62.6M64.7 473.8H61.7V474.8H62.3M59.5 470.7H59.3V474.3H61.7M68.9 467.1H59V472.5H59.3M60 465.1H58.6V469.8H59M58.6 460.7H58.3V467.5H58.6M68.9 477.3H62.3V477.7H68.9M62.3 477.5H62.1V478H68.9M68.9 477H61.9V477.7H62.1M68.9 476.7H60.2V477.4H61.9M68.9 478.3H60.2V478.6H68.9M60.2 477.1H60V478.4H60.2M60 477.7H59.7V478.9H68.9M68.9 479.8H65.1V480.1H68.9M68.9 481.3H65.2V481.6H68.9M68.9 481.9H65.2V482.2H68.9M65.2 481.4H65.1V482H65.2M68.9 481H63.2V481.7H65.1M63.2 481.3H61.5V482.5H68.9M68.9 480.7H61.2V481.9H61.5M68.9 482.8H63.7V483.1H68.9M61.2 481.3H61V482.9H63.7M68.9 480.4H60.7V482.1H61M65.1 479.9H60.5V481.2H60.7M68.9 479.5H60.2V480.6H60.5M68.9 483.7H66.4V484H68.9M66.4 483.8H63.6V484.3H68.9M68.9 483.4H63.4V484.1H63.6M68.9 484.6H65.7V484.9H68.9M68.9 485.2H65.1V485.5H68.9M65.1 485.3H65V485.8H68.9M68.9 486.1H67.8V486.4H68.9M67.8 486.2H67.4V486.7H68.9M67.4 486.5H66.7V487H68.9M68.9 487.3H67.5V487.6H68.9M66.7 486.7H66.7V487.5H67.5M66.7 487.1H66.4V487.9H68.9M65 485.6H64.9V487.5H66.4M65.7 484.7H64.4V486.5H64.9M68.9 488.2H64.7V488.5H68.9M64.7 488.4H64.6V488.8H68.9M64.4 485.6H62.9V488.6H64.6M62.9 487.1H61.5V489.1H68.9M63.4 483.7H61.3V488.1H61.5M60.2 480H60V485.9H61.3M68.9 479.2H59.7V483H60M59.7 478.3H59.4V481.1H59.7M68.9 489.4H62.3V489.7H68.9M62.3 489.6H60.5V490H68.9M68.9 490.9H61.9V491.2H68.9M68.9 490.6H61.7V491.1H61.9M68.9 490.3H61.4V490.9H61.7M68.9 491.5H63.7V491.8H68.9M61.4 490.6H61.2V491.7H63.7M61.2 491.1H61V492.1H68.9M60.5 489.8H59.4V491.6H61M59.4 479.7H59.1V490.7H59.4M68.9 493.3H67.2V493.6H68.9M67.2 493.5H67.2V493.9H68.9M67.2 493.7H67.1V494.2H68.9M67.1 494H65.5V494.5H68.9M68.9 493H65.4V494.3H65.5M68.9 492.7H65.1V493.7H65.4M68.9 492.4H64.9V493.2H65.1M59.1 485.2H58.8V492.8H64.9M58.8 489H58.3V494.8H68.9M58.3 464.1H58V491.9H58.3M51.4 415H48.4V478H58M68.9 495.2H66.1V495.5H68.9M68.9 495.8H66.4V496.1H68.9M66.1 495.3H65.5V495.9H66.4M68.9 496.4H65.8V496.7H68.9M65.8 496.5H65.7V497H68.9M68.9 497.6H66.8V497.9H68.9M66.8 497.7H66.7V498.2H68.9M66.7 497.9H66.6V498.5H68.9M68.9 497.3H65.1V498.2H66.6M65.7 496.7H65V497.7H65.1M65.5 495.6H63.5V497.2H65M68.9 500.6H64.1V500.9H68.9M68.9 500.3H63.6V500.7H64.1M68.9 500H63.4V500.5H63.6M68.9 499.7H63V500.2H63.4M68.9 499.4H62.7V500H63M68.9 499.1H61.4V499.7H62.7M68.9 498.8H61.2V499.4H61.4M68.9 501.8H67.4V502.1H68.9M68.9 501.5H67.3V501.9H67.4M67.3 501.7H67.3V502.4H68.9M68.9 502.7H67.4V503H68.9M67.3 502H67.3V502.8H67.4M68.9 501.2H67.2V502.4H67.3M67.2 501.8H66.4V503.3H68.9M66.4 502.5H64.5V503.6H68.9M64.5 503.1H63.8V503.9H68.9M68.9 504.2H66.8V504.5H68.9M68.9 504.8H64.7V505.1H68.9M66.8 504.3H64.5V504.9H64.7M63.8 503.5H63.7V504.6H64.5M68.9 505.7H65.2V506H68.9M68.9 505.4H64.4V505.8H65.2M64.4 505.6H63V506.3H68.9M63.7 504.1H61.9V506H63M61.2 499.1H61V505H61.9M63.5 496.4H59.1V502H61M68.9 506.9H63.9V507.2H68.9M68.9 507.8H65.4V508.1H68.9M68.9 508.4H65.3V508.7H68.9M65.4 508H65.2V508.6H65.3M68.9 507.5H64.9V508.3H65.2M63.9 507H63.2V507.9H64.9M68.9 509.3H66V509.6H68.9M68.9 509H65.7V509.5H66M63.2 507.5H63V509.2H65.7M68.9 509.9H65.1V510.2H68.9M63 508.3H62.8V510.1H65.1M68.9 506.6H59.9V509.2H62.8M68.9 510.5H63.8V510.8H68.9M68.9 511.7H66.7V512H68.9M68.9 513.2H68.6V513.5H68.9M68.6 513.4H68.6V513.8H68.9M68.6 513.6H68.5V514.1H68.9M68.9 514.4H68.8V514.7H68.9M68.9 515.3H68.8V515.6H68.9M68.9 515H68.8V515.5H68.8M68.8 514.6H68.7V515.3H68.8M68.7 514.9H68.7V515.9H68.9M68.5 513.9H68.5V515.4H68.7M68.5 514.6H68.3V516.2H68.9M68.9 512.9H68.2V515.4H68.3M68.9 512.6H67.1V514.2H68.2M68.9 512.3H66.7V513.4H67.1M66.7 512.9H66.7V516.5H68.9M66.7 511.9H66.6V514.7H66.7M68.9 511.4H64.1V513.3H66.6M68.9 516.8H65.2V517.1H68.9M65.2 517H65.1V517.4H68.9M64.1 512.3H63.9V517.2H65.1M68.9 511.1H63.8V514.8H63.9M63.8 510.7H61V512.9H63.8M68.9 517.7H65.2V518H68.9M61 511.8H60.8V517.9H65.2M59.9 507.9H59.7V514.8H60.8M68.9 518.3H63.2V518.6H68.9M68.9 518.9H63.2V519.2H68.9M63.2 518.5H63V519.1H63.2M63 518.8H62.8V519.5H68.9M62.8 519.2H60.4V519.8H68.9M59.7 511.4H57.4V519.5H60.4M59.1 499.2H57V515.4H57.4M48.4 446.5H45.5V507.3H57M68.9 520.2H57.1V520.5H68.9M68.9 520.8H55.1V521.1H68.9M55.1 520.9H53.8V521.4H68.9M53.8 521.1H52.7V521.7H68.9M57.1 520.3H52.2V521.4H52.7M52.2 520.8H51.7V522H68.9M68.9 522.6H54.3V522.9H68.9M68.9 522.3H53.8V522.7H54.3M68.9 523.2H60.9V523.5H68.9M53.8 522.5H51.7V523.3H60.9M51.7 521.4H51.1V522.9H51.7M68.9 524.4H66.3V524.7H68.9M68.9 524.1H66.3V524.5H66.3M66.3 524.3H65.8V525H68.9M68.9 523.8H65.3V524.6H65.8M65.3 524.2H64.9V525.3H68.9M68.9 526.2H64.2V526.5H68.9M68.9 525.9H62.9V526.3H64.2M68.9 525.6H62V526.1H62.9M64.9 524.7H61.3V525.8H62M68.9 527.1H63.7V527.4H68.9M68.9 527.7H64.3V528H68.9M63.7 527.2H63.5V527.8H64.3M63.5 527.5H63.3V528.3H68.9M63.3 527.9H63.2V528.6H68.9M68.9 526.8H61.8V528.2H63.2M61.3 525.3H59.5V527.5H61.8M59.5 526.4H59.2V528.9H68.9M68.9 529.5H59.8V529.8H68.9M68.9 530.7H65.9V531H68.9M68.9 530.4H64.2V530.8H65.9M68.9 531.6H66.5V531.9H68.9M68.9 531.3H66V531.7H66.5M68.9 532.2H66.1V532.5H68.9M66 531.5H65.5V532.3H66.1M64.2 530.6H64V531.9H65.5M68.9 530.1H63.9V531.3H64M63.9 530.7H62.3V532.8H68.9M59.8 529.6H59.5V531.7H62.3M68.9 533.1H60.7V533.4H68.9M68.9 533.7H60.2V534H68.9M68.9 534.3H62.9V534.6H68.9M68.9 535.5H63.1V535.8H68.9M68.9 535.2H62.9V535.6H63.1M68.9 534.9H62.7V535.4H62.9M62.9 534.4H60.2V535.2H62.7M60.2 533.8H59.9V534.8H60.2M59.9 534.3H59.6V536.1H68.9M60.7 533.2H58.6V535.2H59.6M68.9 536.7H64.3V537H68.9M68.9 536.4H62V536.8H64.3M58.6 534.2H56.6V536.6H62M59.5 530.7H56.2V535.4H56.6M68.9 537.3H59.4V537.6H68.9M68.9 538.5H61.9V538.8H68.9M68.9 538.2H61.7V538.6H61.9M61.7 538.4H57.3V539.1H68.9M68.9 537.9H57V538.8H57.3M59.4 537.4H56.6V538.3H57M68.9 539.4H60.9V539.7H68.9M56.6 537.9H56.2V539.5H60.9M56.2 533H55.8V538.7H56.2M68.9 529.2H55.4V535.9H55.8M55.4 532.5H55V540H68.9M68.9 540.6H65.5V540.9H68.9M65.5 540.8H65.4V541.2H68.9M68.9 541.5H65.3V541.8H68.9M65.4 541H64.7V541.7H65.3M64.7 541.3H63.2V542.1H68.9M63.2 541.7H59.5V542.4H68.9M68.9 540.3H59.2V542.1H59.5M68.9 542.7H65.3V543H68.9M65.3 542.9H62V543.3H68.9M68.9 544.2H61.6V544.5H68.9M68.9 543.9H61.4V544.4H61.6M61.4 544.1H61.1V544.8H68.9M68.9 543.6H60.9V544.5H61.1M62 543.1H60.6V544H60.9M59.2 541.2H57.9V543.6H60.6M68.9 546H61.3V546.3H68.9M68.9 545.7H59.6V546.2H61.3M59.6 545.9H59.4V546.6H68.9M68.9 545.4H59.1V546.3H59.4M68.9 545.1H58.8V545.8H59.1M68.9 547.2H61.9V547.5H68.9M61.9 547.4H61.7V547.8H68.9M68.9 548.1H61.9V548.4H68.9M61.9 548.3H61.7V548.7H68.9M61.7 547.6H61.5V548.5H61.7M68.9 546.9H61.2V548H61.5M68.9 549H60.4V549.3H68.9M61.2 547.5H59V549.2H60.4M59 548.3H55.1V549.6H68.9M58.8 545.5H54.6V549H55.1M57.9 542.4H54.2V547.2H54.6M68.9 550.2H62.4V550.5H68.9M68.9 549.9H60.4V550.4H62.4M54.2 544.8H52.2V550.2H60.4M55 536.3H51.7V547.5H52.2M59.2 527.6H51.1V541.9H51.7M51.1 522.1H50.6V534.7H51.1M68.9 551.1H66.2V551.4H68.9M68.9 550.8H65.4V551.3H66.2M68.9 552H66.5V552.3H68.9M68.9 552.9H66.2V553.2H68.9M68.9 552.6H66.1V553.1H66.2M66.5 552.2H66V552.9H66.1M68.9 551.7H65.9V552.5H66M68.9 553.5H66.6V553.8H68.9M68.9 554.1H67.3V554.4H68.9M67.3 554.3H66.6V554.7H68.9M66.6 553.7H66.5V554.5H66.6M65.9 552.1H65.8V554.1H66.5M65.8 553.1H65V555H68.9M65.4 551.1H63.6V554.1H65M68.9 555.9H66.9V556.2H68.9M68.9 556.8H66.4V557.1H68.9M68.9 556.5H66.3V557H66.4M66.3 556.8H65.7V557.4H68.9M65.7 557.1H65.6V557.7H68.9M66.9 556.1H65.5V557.4H65.6M65.5 556.8H65.4V558H68.9M68.9 555.6H63.6V557.4H65.4M63.6 556.5H63.4V558.3H68.9M68.9 555.3H61.9V557.4H63.4M63.6 552.6H61.7V556.4H61.9M68.9 558.6H67.3V558.9H68.9M67.3 558.8H67.2V559.2H68.9M67.2 559H66.8V559.5H68.9M68.9 559.8H65.7V560.2H68.9M66.8 559.3H65.6V560H65.7M65.6 559.6H64.9V560.5H68.9M68.9 561.1H66.9V561.4H68.9M68.9 562H68.3V562.3H68.9M68.3 562.1H68.1V562.6H68.9M68.9 561.7H67.7V562.3H68.1M66.9 561.2H66.8V562H67.7M68.9 560.8H65.5V561.6H66.8M64.9 560H63.4V561.2H65.5M68.9 562.9H64V563.2H68.9M64 563H63.4V563.5H68.9M63.4 560.6H63.3V563.2H63.4M63.3 561.9H63.1V563.8H68.9M68.9 564.4H65.7V564.7H68.9M68.9 564.1H64.7V564.5H65.7M68.9 565.3H67.5V565.6H68.9M68.9 566.5H66.9V566.8H68.9M68.9 566.2H66.8V566.6H66.9M66.8 566.4H66.8V567.1H68.9M68.9 565.9H66.4V566.7H66.8M66.4 566.3H66.3V567.4H68.9M67.5 565.4H66.2V566.8H66.3M68.9 568H66.3V568.3H68.9M68.9 568.9H66.7V569.2H68.9M66.7 569H66.6V569.5H68.9M68.9 568.6H65.9V569.2H66.6M68.9 570.4H68.1V570.7H68.9M68.9 570.1H67.6V570.5H68.1M67.6 570.3H67.6V571H68.9M68.9 569.8H67.1V570.6H67.6M65.9 568.9H65.8V570.2H67.1M68.9 571.3H66.1V571.6H68.9M65.8 569.6H65.3V571.4H66.1M66.3 568.1H65.2V570.5H65.3M68.9 567.7H65.1V569.3H65.2M66.2 566.1H64.9V568.5H65.1M68.9 565H63.7V567.3H64.9M64.7 564.3H63.4V566.1H63.7M63.1 562.8H62.6V565.2H63.4M61.7 554.5H61.4V564H62.6M61.4 559.2H61.2V571.9H68.9M68.9 572.2H62.6V572.5H68.9M68.9 573.4H68.4V573.7H68.9M68.9 573.1H68.3V573.5H68.4M68.3 573.3H68.3V574H68.9M68.3 573.6H68V574.3H68.9M68 574H67.9V574.6H68.9M68.9 574.9H67.5V575.2H68.9M67.9 574.3H67.1V575H67.5M68.9 572.8H65.8V574.7H67.1M68.9 575.5H67.1V575.8H68.9M65.8 573.7H65.6V575.6H67.1M62.6 572.3H62.4V574.7H65.6M68.9 576.1H66.1V576.4H68.9M68.9 577H67.2V577.3H68.9M68.9 576.7H66.3V577.1H67.2M68.9 578.2H66.7V578.5H68.9M68.9 579.1H68.1V579.4H68.9M68.9 579.7H68.3V580H68.9M68.1 579.2H68V579.8H68.3M68.9 578.8H67.4V579.5H68M67.4 579.2H66.9V580.3H68.9M66.9 579.7H66.9V580.6H68.9M66.7 578.3H66.3V580.2H66.9M68.9 577.9H66.1V579.3H66.3M68.9 580.9H66.1V581.2H68.9M66.1 578.6H65.9V581.1H66.1M68.9 577.6H65.4V579.8H65.9M66.3 576.9H65.3V578.7H65.4M66.1 576.2H65.2V577.8H65.3M65.2 577H65.1V581.5H68.9M68.9 582.4H65.5V582.7H68.9M68.9 582.1H65.4V582.6H65.5M65.4 582.3H63.6V583H68.9M68.9 581.8H63.5V582.7H63.6M65.1 579.3H63.3V582.2H63.5M63.3 580.8H63.1V583.3H68.9M68.9 583.6H64.2V583.9H68.9M68.9 584.2H66V584.5H68.9M68.9 585.4H66.6V585.7H68.9M68.9 586H67.7V586.3H68.9M67.7 586.2H66.7V586.6H68.9M66.6 585.6H66.2V586.4H66.7M68.9 585.1H66.1V586H66.2M68.9 584.8H66V585.5H66.1M66 584.4H65.9V585.2H66M68.9 587.8H67.4V588.1H68.9M68.9 587.5H67.4V588H67.4M67.4 587.7H66.9V588.4H68.9M66.9 588.1H66.9V588.7H68.9M66.9 588.4H66.8V589H68.9M68.9 587.2H66V588.7H66.8M68.9 586.9H65.9V588H66M65.9 584.8H65.8V587.4H65.9M68.9 589.3H66.9V589.6H68.9M66.9 589.5H65.2V589.9H68.9M65.2 589.7H65.1V590.2H68.9M65.8 586.1H64.8V590H65.1M68.9 590.8H66.4V591.1H68.9M68.9 590.5H66.4V591H66.4M64.8 588H63.7V590.8H66.4M64.2 583.8H63.5V589.4H63.7M68.9 591.7H66.6V592H68.9M68.9 591.4H65.7V591.9H66.6M65.7 591.7H65.6V592.3H68.9M63.5 586.6H62.9V592H65.6M63.1 582H62.1V589.3H62.9M68.9 592.6H62.2V592.9H68.9M62.2 592.8H62V593.2H68.9M62 593H61.7V593.5H68.9M68.9 593.8H63.6V594.1H68.9M61.7 593.3H61.2V594H63.6M68.9 595.3H64.2V595.6H68.9M68.9 595H62.7V595.5H64.2M68.9 594.7H62.5V595.3H62.7M62.5 595H62.3V595.9H68.9M68.9 594.4H62.1V595.5H62.3M61.2 593.6H60.6V595H62.1M62.1 585.7H60.4V594.3H60.6M68.9 596.5H66.9V596.8H68.9M68.9 596.2H66.8V596.7H66.9M66.8 596.5H66.7V597.1H68.9M66.7 596.8H66.1V597.4H68.9M68.9 598.3H66.5V598.6H68.9M68.9 598H66.1V598.5H66.5M68.9 597.7H66.1V598.3H66.1M66.1 597.1H66V598H66.1M68.9 599.2H66V599.5H68.9M66 599.4H65.9V599.8H68.9M68.9 598.9H65.6V599.6H65.9M66 597.6H64.8V599.3H65.6M60.4 590H60.1V598.4H64.8M62.4 573.5H59.8V594.2H60.1M61.2 565.6H57.4V583.9H59.8M50.6 528.4H50V574.7H57.4M45.5 476.9H42.6V551.6H50M68.9 601.4H63.8V601.7H68.9M68.9 601.1H63.7V601.5H63.8M68.9 600.8H63.5V601.3H63.7M68.9 602H63.9V602.3H68.9M63.5 601H62V602.1H63.9M62 601.6H60.1V602.6H68.9M68.9 600.5H59.9V602.1H60.1M68.9 600.2H57.4V601.3H59.9M68.9 602.9H65.6V603.2H68.9M68.9 603.5H66V603.8H68.9M68.9 604.1H65V604.4H68.9M66 603.6H64.8V604.2H65M65.6 603H64.7V603.9H64.8M68.9 604.7H64.9V605H68.9M68.9 605.3H64.5V605.6H68.9M64.9 604.8H64.3V605.4H64.5M64.7 603.5H63.9V605.1H64.3M68.9 607.1H68.4V607.4H68.9M68.4 607.2H68.3V607.7H68.9M68.9 606.8H67.9V607.5H68.3M68.9 608.3H68.3V608.6H68.9M68.9 608H67.9V608.4H68.3M67.9 607.1H67.8V608.2H67.9M68.9 606.5H67.8V607.7H67.8M67.8 607.1H67.2V608.9H68.9M67.2 608H67.1V609.2H68.9M68.9 606.2H67.1V608.6H67.1M68.9 605.9H66.2V607.4H67.1M68.9 609.8H67.3V610.1H68.9M68.9 610.7H67.3V611H68.9M68.9 611.3H67.4V611.6H68.9M68.9 612.8H68.5V613.1H68.9M68.9 612.5H68.5V613H68.5M68.9 612.2H68.4V612.7H68.5M68.9 613.7H68.5V614H68.9M68.9 613.4H68.5V613.9H68.5M68.5 613.6H68.4V614.3H68.9M68.4 614H68.4V614.6H68.9M68.4 612.5H68.4V614.3H68.4M68.9 614.9H68.5V615.2H68.9M68.4 613.4H68.3V615.1H68.5M68.9 611.9H68V614.2H68.3M67.4 611.4H67.3V613.1H68M67.3 610.8H67.3V612.3H67.3M68.9 610.4H67.2V611.5H67.3M67.2 611H67.2V615.5H68.9M67.3 609.9H67.1V613.2H67.2M68.9 609.5H66.8V611.6H67.1M66.8 610.5H66.3V615.8H68.9M66.2 606.6H64.4V613.2H66.3M68.9 617.3H67.6V617.6H68.9M68.9 617H67.2V617.5H67.6M68.9 616.7H67.1V617.2H67.2M68.9 617.9H67.8V618.2H68.9M67.1 617H67.1V618.1H67.8M68.9 616.4H66.4V617.5H67.1M68.9 616.1H66.2V617H66.4M66.2 616.5H65.8V618.5H68.9M68.9 618.8H67V619.1H68.9M67 619H66.5V619.4H68.9M65.8 617.5H65.7V619.2H66.5M68.9 620.3H66.5V620.6H68.9M66.5 620.5H66V620.9H68.9M68.9 620H65.9V620.7H66M68.9 619.7H65.6V620.4H65.9M65.6 620H64.7V621.2H68.9M64.7 620.6H64.6V621.5H68.9M65.7 618.4H64.5V621.1H64.6M64.5 619.7H64.3V621.8H68.9M64.3 620.8H64.2V622.1H68.9M68.9 622.7H67.7V623H68.9M67.7 622.9H66.9V623.3H68.9M68.9 622.4H66.7V623.1H66.9M66.7 622.8H66.5V623.6H68.9M64.2 621.5H63.1V623.2H66.5M64.4 609.9H62.9V622.3H63.1M63.9 604.3H62.3V616.1H62.9M68.9 624.8H67.4V625.2H68.9M68.9 624.5H67.3V625H67.4M67.3 624.8H67V625.5H68.9M67 625.1H67V625.8H68.9M68.9 624.2H66V625.4H67M68.9 623.9H65.9V624.8H66M68.9 626.7H67.1V627H68.9M67.1 626.8H67.1V627.3H68.9M68.9 626.4H66.9V627H67.1M66.9 626.7H66.7V627.6H68.9M68.9 628.5H68.4V628.8H68.9M68.9 628.2H68.3V628.6H68.4M68.9 627.9H68V628.4H68.3M68.9 629.4H68.4V629.7H68.9M68.9 629.1H68.2V629.5H68.4M68.2 629.3H68.2V630H68.9M68 628.1H67.3V629.6H68.2M67.3 628.9H66.7V630.3H68.9M66.7 627.1H66.1V629.6H66.7M68.9 630.6H66.1V630.9H68.9M66.1 628.4H66V630.7H66.1M68.9 632.4H67.8V632.7H68.9M67.8 632.5H67.4V633H68.9M68.9 632.1H67.4V632.8H67.4M68.9 631.8H67.3V632.4H67.4M68.9 631.5H67.2V632.1H67.3M68.9 633.6H67.9V633.9H68.9M68.9 633.3H67.8V633.7H67.9M67.8 633.5H67.5V634.2H68.9M67.5 633.8H67.1V634.5H68.9M67.1 634.2H67.1V634.8H68.9M67.1 634.5H67V635.1H68.9M67.2 631.8H66.9V634.8H67M66.9 633.3H66.9V635.4H68.9M68.9 635.7H66.9V636H68.9M66.9 634.3H66.8V635.8H66.9M68.9 631.2H66.3V635.1H66.8M68.9 636.3H66.9V636.6H68.9M66.9 636.4H65.1V636.9H68.9M68.9 637.5H67V637.8H68.9M67 637.7H66.9V638.1H68.9M66.9 637.9H66.9V638.4H68.9M66.9 638.1H66.4V638.7H68.9M68.9 637.2H66.3V638.4H66.4M68.9 639.3H67.4V639.6H68.9M67.4 639.5H67.3V639.9H68.9M68.9 639H67.3V639.7H67.3M67.3 639.3H67.2V640.2H68.9M66.3 637.8H65.6V639.8H67.2M65.1 636.7H65V638.8H65.6M66.3 633.1H64.9V637.7H65M64.9 635.4H64.8V640.5H68.9M66 629.5H64.5V638H64.8M68.9 626.1H64.4V633.8H64.5M65.9 624.4H64.2V629.9H64.4M68.9 641.4H67V641.7H68.9M68.9 641.1H67V641.6H67M67 641.3H66.8V642H68.9M68.9 640.8H66.8V641.7H66.8M64.2 627.1H64.1V641.2H66.8M64.1 634.2H63.9V642.3H68.9M62.3 610.2H60.9V638.3H63.9M57.4 600.7H53.9V624.2H60.9M68.9 642.6H60.3V642.9H68.9M60.3 642.8H60.1V643.2H68.9M68.9 643.8H63.6V644.1H68.9M63.6 644H62.7V644.4H68.9M68.9 643.5H61.1V644.2H62.7M68.9 644.7H65.4V645H68.9M65.4 644.9H62.2V645.3H68.9M61.1 643.9H60.9V645.1H62.2M60.1 643H59.6V644.5H60.9M68.9 645.9H63V646.2H68.9M68.9 645.6H54.1V646.1H63M68.9 646.8H54.7V647.1H68.9M68.9 646.5H54.2V647H54.7M54.1 645.9H53.7V646.8H54.2M68.9 647.7H60.8V648H68.9M68.9 647.4H57.8V647.9H60.8M57.8 647.7H57.5V648.3H68.9M68.9 648.9H56.4V649.2H68.9M68.9 648.6H56V649.1H56.4M56 648.9H55.6V649.5H68.9M55.6 649.2H55.2V649.8H68.9M57.5 648H53.7V649.5H55.2M53.7 646.3H53.2V648.8H53.7M59.6 643.7H50.8V647.5H53.2M53.9 612.5H50V645.6H50.8M42.6 514.2H36.3V629.1H50M68.9 650.5H59V650.8H68.9M68.9 650.2H55.4V650.6H59M68.9 651.4H61.8V651.7H68.9M68.9 651.1H60.5V651.5H61.8M55.4 650.4H51.6V651.3H60.5M68.9 652.6H60.7V652.9H68.9M68.9 653.2H65.1V653.5H68.9M68.9 654.4H66.7V654.7H68.9M68.9 654.1H65.6V654.5H66.7M65.6 654.3H65.5V655H68.9M68.9 655.3H66.8V655.6H68.9M65.5 654.6H65.4V655.4H66.8M68.9 653.8H65.3V655H65.4M65.1 653.3H64.5V654.4H65.3M68.9 655.9H65.9V656.2H68.9M68.9 656.8H66.8V657.1H68.9M66.8 656.9H66.2V657.4H68.9M66.2 657.2H66.1V657.7H68.9M68.9 658.3H67.2V658.6H68.9M67.2 658.4H66.7V658.9H68.9M68.9 658H66V658.7H66.7M66.1 657.4H65.9V658.3H66M68.9 656.5H65.8V657.9H65.9M65.9 656H64.6V657.2H65.8M68.9 659.8H66.1V660.1H68.9M66.1 659.9H66V660.4H68.9M68.9 661H66.2V661.3H68.9M68.9 661.6H66.6V661.9H68.9M68.9 662.2H65.8V662.5H68.9M66.6 661.7H65.8V662.3H65.8M66.2 661.1H65.7V662H65.8M68.9 660.7H65.4V661.6H65.7M66 660.2H65.3V661.1H65.4M68.9 659.5H64.6V660.7H65.3M68.9 659.2H64.4V660.1H64.6M64.6 656.6H63.9V659.6H64.4M64.5 653.9H62.2V658.1H63.9M62.2 656H62V662.8H68.9M68.9 663.4H64.3V663.7H68.9M68.9 663.1H64.1V663.6H64.3M68.9 664.6H65.6V664.9H68.9M65.6 664.8H64.9V665.2H68.9M68.9 664.3H64.2V665H64.9M68.9 664H63V664.6H64.2M64.1 663.3H62.8V664.3H63M62 659.4H58V663.8H62.8M60.7 652.7H57.6V661.6H58M68.9 652.3H53.5V657.2H57.6M68.9 652H53V654.7H53.5M51.6 650.8H48.6V653.3H53M68.9 665.5H57V665.8H68.9M57 665.7H52.3V666.1H68.9M68.9 666.4H55.4V666.7H68.9M68.9 667.9H57.9V668.2H68.9M68.9 668.5H57.9V668.8H68.9M57.9 668.1H57.6V668.7H57.9M68.9 667.6H54.3V668.4H57.6M68.9 667.3H53.8V668H54.3M68.9 667H53.4V667.7H53.8M68.9 669.1H53.4V669.4H68.9M53.4 667.3H52.9V669.3H53.4M55.4 666.6H52.4V668.3H52.9M52.3 665.9H51.3V667.4H52.4M68.9 669.7H59V670H68.9M59 669.9H58.7V670.3H68.9M68.9 670.6H61.7V670.9H68.9M58.7 670.1H58.4V670.8H61.7M58.4 670.4H55.4V671.2H68.9M55.4 670.8H53.7V671.5H68.9M51.3 666.7H50.7V671.2H53.7M68.9 673H63.1V673.3H68.9M68.9 672.7H61.2V673.2H63.1M61.2 673H59.7V673.6H68.9M68.9 672.4H57.1V673.3H59.7M68.9 672.1H56.7V672.9H57.1M68.9 674.5H62.1V674.8H68.9M68.9 674.2H61.9V674.7H62.1M68.9 673.9H60.6V674.5H61.9M56.7 672.5H56.3V674.2H60.6M68.9 671.8H50.7V673.4H56.3M50.7 668.9H50.2V672.6H50.7M48.6 652.1H48V670.8H50.2M36.3 571.7H31.3V661.4H48M68.9 675.2H56.9V675.5H68.9M68.9 676.1H58.3V676.4H68.9M58.3 676.2H58V676.7H68.9M58 676.4H57.7V677H68.9M68.9 675.8H57.3V676.7H57.7M56.9 675.3H53.1V676.2H57.3M68.9 677.6H63V677.9H68.9M63 677.7H62.9V678.2H68.9M62.9 677.9H62.7V678.5H68.9M68.9 679.1H62.3V679.4H68.9M68.9 680H64.5V680.3H68.9M64.5 680.1H63.9V680.6H68.9M68.9 679.7H61V680.3H63.9M62.3 679.2H60.2V680H61M68.9 678.8H58.6V679.6H60.2M58.6 679.2H58.3V680.9H68.9M62.7 678.2H56.1V680H58.3M68.9 681.2H57.9V681.5H68.9M68.9 681.8H58.3V682.1H68.9M68.9 682.4H58.5V682.7H68.9M68.9 683H59.9V683.3H68.9M58.5 682.5H58.2V683.1H59.9M58.2 682.8H57.9V683.6H68.9M68.9 683.9H57.7V684.2H68.9M57.9 683.2H57.3V684H57.7M58.3 681.9H57V683.6H57.3M57 682.8H56.6V684.5H68.9M57.9 681.3H56.1V683.6H56.6M56.1 679.1H55.7V682.5H56.1M68.9 685.7H62.4V686H68.9M62.4 685.8H62.2V686.3H68.9M62.2 686.1H61.2V686.6H68.9M61.2 686.3H61V686.9H68.9M61 686.6H60.7V687.2H68.9M68.9 685.4H60.5V686.9H60.7M68.9 685.1H60.2V686.1H60.5M68.9 688.1H63.5V688.4H68.9M68.9 687.8H63.3V688.3H63.5M68.9 687.5H60.8V688H63.3M60.2 685.6H60V687.8H60.8M60 686.7H57.9V688.7H68.9M57.9 687.7H57.6V689H68.9M57.6 688.4H57.2V689.3H68.9M68.9 684.8H54.6V688.8H57.2M55.7 680.8H54.1V686.8H54.6M54.1 683.8H53.7V689.6H68.9M68.9 677.3H52.6V686.7H53.7M53.1 675.8H52.1V682H52.6M68.9 690.5H56V690.8H68.9M68.9 691.1H54.6V691.4H68.9M56 690.7H54.2V691.3H54.6M54.2 691H53.7V691.7H68.9M68.9 690.2H53.3V691.3H53.7M68.9 689.9H52.8V690.8H53.3M68.9 692.3H59.3V692.6H68.9M68.9 692.9H60.7V693.2H68.9M59.3 692.5H51V693.1H60.7M68.9 692H48.2V692.8H51M52.8 690.3H47.6V692.4H48.2M68.9 693.8H60.4V694.1H68.9M68.9 693.5H60.1V694H60.4M60.1 693.8H59.8V694.4H68.9M59.8 694.1H51.7V694.7H68.9M68.9 695.6H61.1V695.9H68.9M68.9 696.5H61.7V696.8H68.9M68.9 696.2H59.4V696.7H61.7M61.1 695.8H59.1V696.5H59.4M68.9 695.3H56.6V696.1H59.1M68.9 697.4H56.9V697.7H68.9M68.9 697.1H56.5V697.6H56.9M56.5 697.4H56.2V698H68.9M68.9 698.3H54.8V698.6H68.9M68.9 699.5H58.9V699.8H68.9M68.9 699.2H58.1V699.7H58.9M68.9 698.9H57.7V699.5H58.1M54.8 698.5H54.3V699.2H57.7M56.2 697.7H53.9V698.9H54.3M56.6 695.7H50.5V698.3H53.9M68.9 695H49.9V697H50.5M51.7 694.4H45.5V696H49.9M47.6 691.4H44.7V695.2H45.5M52.1 678.9H44V693.3H44.7M31.3 616.5H22.3V686.1H44M68.9 700.8H58.7V701.1H68.9M58.7 700.9H55V701.4H68.9M68.9 700.5H54.6V701.1H55M68.9 702.3H61.4V702.6H68.9M68.9 702H58.1V702.4H61.4M68.9 701.7H57.8V702.2H58.1M68.9 703.2H58.9V703.5H68.9M68.9 702.9H58.6V703.3H58.9M58.6 703.1H55.7V703.8H68.9M57.8 701.9H55.3V703.4H55.7M54.6 700.8H52.9V702.7H55.3M68.9 704.1H61.4V704.4H68.9M61.4 704.2H61.2V704.7H68.9M68.9 705.3H66.5V705.6H68.9M66.5 705.4H65.6V705.9H68.9M68.9 706.5H66.6V706.8H68.9M66.6 706.6H66.6V707.1H68.9M68.9 706.2H66.5V706.9H66.6M68.9 707.4H67.3V707.7H68.9M66.5 706.5H65.9V707.5H67.3M68.9 708H65.2V708.3H68.9M68.9 708.6H66.4V708.9H68.9M65.2 708.1H65V708.7H66.4M65 708.4H64.9V709.2H68.9M65.9 707H64.8V708.8H64.9M65.6 705.7H64.7V707.9H64.8M64.7 706.8H64.5V709.5H68.9M68.9 705H61V708.1H64.5M61 706.6H60.7V709.8H68.9M61.2 704.5H57.6V708.2H60.7M52.9 701.7H52.4V706.3H57.6M68.9 710.1H55.7V710.4H68.9M52.4 704H48V710.3H55.7M68.9 700.2H40.9V707.1H48M68.9 712.2H60.7V712.5H68.9M68.9 711.9H57.2V712.4H60.7M68.9 711.6H56.8V712.1H57.2M68.9 711.3H56.5V711.9H56.8M68.9 711H55.1V711.6H56.5M68.9 712.8H62.3V713.1H68.9M68.9 713.7H64.8V714H68.9M64.8 713.9H63.5V714.3H68.9M63.5 714.1H61.4V714.6H68.9M68.9 713.4H61.1V714.4H61.4M68.9 714.9H62.5V715.2H68.9M61.1 713.9H60.2V715.1H62.5M60.2 714.5H59.9V715.5H68.9M68.9 715.8H63.5V716.1H68.9M63.5 716H60.2V716.4H68.9M60.2 716.2H59.9V716.7H68.9M59.9 715H59.7V716.5H59.9M59.7 715.7H59.4V717H68.9M62.3 713H59.1V716.4H59.4M59.1 714.7H58.8V717.3H68.9M68.9 718.3H67.5V718.6H68.9M68.9 718.9H66.4V719.2H68.9M67.5 718.4H66.3V719H66.4M68.9 719.5H67V719.8H68.9M66.3 718.7H66.3V719.6H67M68.9 720.4H65.8V720.7H68.9M65.8 720.5H64.6V721H68.9M68.9 720.1H63.4V720.7H64.6M66.3 719.2H63.2V720.4H63.4M63.2 719.8H63.1V721.3H68.9M68.9 721.9H66.3V722.2H68.9M68.9 721.6H66.3V722H66.3M68.9 722.8H67.6V723.1H68.9M68.9 723.4H67.4V723.7H68.9M67.6 722.9H67.1V723.5H67.4M67.1 723.2H66.9V724H68.9M68.9 722.5H66.3V723.6H66.9M66.3 721.8H66.2V723H66.3M68.9 724.6H67.6V724.9H68.9M68.9 724.3H67.5V724.7H67.6M66.2 722.4H66.1V724.5H67.5M68.9 725.2H66.3V725.5H68.9M68.9 725.8H67.5V726.1H68.9M66.3 725.3H66.1V725.9H67.5M66.1 723.5H64.7V725.6H66.1M68.9 726.4H65.3V726.7H68.9M64.7 724.6H64.5V726.6H65.3M68.9 727.3H66.4V727.6H68.9M68.9 727H65.8V727.5H66.4M64.5 725.6H64.4V727.2H65.8M68.9 728.5H65.7V728.8H68.9M65.7 728.7H65.6V729.1H68.9M68.9 728.2H65.5V728.9H65.6M65.5 728.6H65.4V729.4H68.9M68.9 729.7H64V730H68.9M65.4 729H63.9V729.9H64M68.9 730.6H64.6V730.9H68.9M68.9 730.3H63.9V730.8H64.6M63.9 729.4H63.7V730.5H63.9M68.9 727.9H63.6V730H63.7M64.4 726.4H63.4V728.9H63.6M63.1 720.5H61.3V727.7H63.4M68.9 718H58.2V724.1H61.3M58.2 721H57.5V731.2H68.9M68.9 717.7H57.2V726.1H57.5M58.8 716H56.8V721.9H57.2M68.9 731.8H66.6V732.1H68.9M68.9 731.5H65.4V732H66.6M68.9 732.4H65.6V732.7H68.9M68.9 733.3H67.2V733.6H68.9M68.9 733.9H66.7V734.2H68.9M67.2 733.5H66.4V734.1H66.7M68.9 733H66.1V733.8H66.4M65.6 732.6H64.5V733.4H66.1M65.4 731.8H62.1V733H64.5M62.1 732.4H61.9V734.5H68.9M56.8 719H52.5V733.5H61.9M55.1 711.3H52V726.2H52.5M52 718.8H48V734.8H68.9M68.9 710.7H40.9V726.8H48M40.9 703.6H40V718.8H40.9M22.3 651.3H20.2V711.2H40M68.9 735.2H62.2V735.5H68.9M62.2 735.3H56.2V735.8H68.9M68.9 736.4H60V736.7H68.9M60 736.5H58.3V737H68.9M68.9 737.3H59.7V737.6H68.9M58.3 736.7H58V737.4H59.7M68.9 736.1H56.2V737.1H58M56.2 735.5H55.8V736.6H56.2M68.9 738.2H61V738.5H68.9M68.9 737.9H60.8V738.3H61M68.9 739.4H65.8V739.7H68.9M68.9 739.1H63.4V739.5H65.8M68.9 738.8H62.9V739.3H63.4M60.8 738.1H56.6V739.1H62.9M56.6 738.6H56.2V740H68.9M56.2 739.3H55.8V740.3H68.9M55.8 736.1H55.4V739.8H55.8M55.4 737.9H54.3V740.6H68.9M68.9 741.8H60.5V742.1H68.9M60.5 742H60.2V742.4H68.9M60.2 742.2H55.7V742.7H68.9M68.9 741.5H55.3V742.5H55.7M55.3 742H54.9V743H68.9M68.9 741.2H54.4V742.5H54.9M68.9 740.9H54V741.9H54.4M54 741.4H49.2V743.3H68.9M54.3 739.3H45.7V742.4H49.2M45.7 740.8H45V743.6H68.9M45 742.2H44.3V743.9H68.9M68.9 744.2H50.1V744.5H68.9M44.3 743.1H39.4V744.4H50.1M39.4 743.7H30V744.8H68.9M68.9 745.8H55V746.1H68.9M68.9 745.5H54.6V745.9H55M54.6 745.7H52.2V746.4H68.9M68.9 745.2H51.7V746H52.2M51.7 745.6H45.4V746.7H68.9M68.9 747H48.5V747.3H68.9M48.5 747.1H45.2V747.6H68.9M45.2 747.4H44.5V747.9H68.9M44.5 747.6H43.7V748.2H68.9M45.4 746.1H41.2V747.9H43.7M41.2 747H40.3V748.5H68.9M40.3 747.8H38.2V748.8H68.9M68.9 749.7H58V750H68.9M58 749.9H54.8V750.3H68.9M68.9 749.4H51.6V750.1H54.8M68.9 749.1H50.1V749.8H51.6M38.2 748.3H37.2V749.4H50.1M68.9 750.6H52.8V750.9H68.9M52.8 750.8H50.8V751.2H68.9M68.9 751.5H46.6V751.8H68.9M50.8 751H37V751.7H46.6M37.2 748.9H36V751.4H37M68.9 753.1H59.8V753.4H68.9M59.8 753.2H59.5V753.7H68.9M68.9 752.8H58.8V753.5H59.5M68.9 752.5H54.9V753.1H58.8M68.9 754.3H60.3V754.6H68.9M68.9 754H59.6V754.5H60.3M68.9 754.9H58.3V755.2H68.9M59.6 754.2H58V755.1H58.3M54.9 752.8H54.5V754.7H58M68.9 756.5H64.8V756.8H68.9M68.9 756.2H64.7V756.6H64.8M68.9 757.1H66.2V757.4H68.9M64.7 756.4H64.5V757.3H66.2M64.5 756.8H62V757.7H68.9M68.9 755.9H59.8V757.3H62M68.9 755.6H59.5V756.6H59.8M54.5 753.7H54.1V756.1H59.5M68.9 758H48.7V758.3H68.9M54.1 754.9H40.9V758.2H48.7M68.9 752.2H40V756.5H40.9M36 750.1H26V754.3H40M30 744.3H21.5V752.2H26M20.2 681.3H17.4V748.3H21.5M68.9 809.1H56.1V809.4H68.9M68.9 810.3H64.3V810.6H68.9M68.9 810H62.5V810.5H64.3M68.9 809.7H55.8V810.2H62.5M68.9 811.2H63.4V811.5H68.9M63.4 811.4H63.2V811.8H68.9M68.9 810.9H59.9V811.6H63.2M55.8 809.9H55.4V811.3H59.9M56.1 809.2H55V810.6H55.4M68.9 813.1H63.9V813.4H68.9M68.9 812.8H61.8V813.2H63.9M68.9 812.5H60.3V813H61.8M68.9 812.2H58.5V812.7H60.3M68.9 814H60.3V814.3H68.9M60.3 814.2H60V814.7H68.9M68.9 813.7H59.7V814.4H60M59.7 814.1H57.5V815H68.9M68.9 815.9H58.2V816.2H68.9M68.9 815.6H57.9V816.1H58.2M68.9 815.3H57.5V815.8H57.9M57.5 814.5H57.2V815.6H57.5M68.9 816.5H58.1V816.8H68.9M57.2 815H56.1V816.7H58.1M58.5 812.4H55V815.9H56.1M55 809.9H48.9V814.2H55M68.9 817.8H61.9V818.1H68.9M61.9 817.9H61.7V818.4H68.9M68.9 817.5H58.8V818.2H61.7M58.8 817.8H56.1V818.7H68.9M68.9 817.2H55.7V818.2H56.1M68.9 819H60.3V819.3H68.9M60.3 819.2H59.3V819.6H68.9M59.3 819.4H53V819.9H68.9M68.9 820.5H53.5V820.8H68.9M68.9 820.2H53V820.7H53.5M53 819.7H52.5V820.5H53M55.7 817.7H52V820.1H52.5M48.9 812H46V818.9H52M68.9 821.1H62V821.5H68.9M62 821.3H60.2V821.8H68.9M68.9 822H55.6V822.4H68.9M60.2 821.5H54.2V822.2H55.6M68.9 822.9H60.7V823.2H68.9M68.9 822.6H58.2V823.1H60.7M68.9 823.5H58.2V823.9H68.9M58.2 822.9H57.8V823.7H58.2M54.2 821.9H53.8V823.3H57.8M68.9 824.8H58.2V825.1H68.9M68.9 824.5H55.7V824.9H58.2M68.9 824.1H55.3V824.7H55.7M55.3 824.4H54.9V825.4H68.9M68.9 826H59.5V826.3H68.9M68.9 825.7H59.2V826.1H59.5M59.2 825.9H57.9V826.6H68.9M54.9 824.9H54.5V826.2H57.9M54.5 825.5H54V826.9H68.9M53.8 822.6H50V826.2H54M46 815.5H37.7V824.4H50M68.9 828.1H60.1V828.4H68.9M60.1 828.2H59.9V828.7H68.9M68.9 827.8H59.6V828.5H59.9M59.6 828.1H57.1V829H68.9M68.9 827.5H56.8V828.6H57.1M68.9 827.2H54V828H56.8M68.9 830H60.4V830.3H68.9M68.9 829.7H60.2V830.1H60.4M68.9 829.3H51.7V829.9H60.2M54 827.6H47.2V829.6H51.7M68.9 830.9H59.9V831.2H68.9M59.9 831.1H59.6V831.5H68.9M68.9 830.6H57.5V831.3H59.6M57.5 830.9H51.4V831.8H68.9M47.2 828.6H46V831.4H51.4M37.7 819.9H30.4V830H46M68.9 832.7H65.9V833H68.9M65.9 832.9H64.9V833.3H68.9M68.9 832.4H64.2V833.1H64.9M68.9 832.1H58.9V832.8H64.2M68.9 833.6H58.2V834H68.9M58.2 833.8H56.9V834.2H68.9M68.9 834.5H56.2V834.9H68.9M56.9 834H55V834.7H56.2M58.9 832.5H54.6V834.4H55M68.9 835.4H46.2V835.8H68.9M68.9 835.1H45.5V835.6H46.2M68.9 836.4H50.2V836.7H68.9M68.9 837.2H49.5V837.6H68.9M68.9 837H48.9V837.4H49.5M50.2 836.5H48.3V837.2H48.9M68.9 836H47.7V836.8H48.3M47.7 836.4H47V837.9H68.9M45.5 835.4H44.7V837.1H47M54.6 833.4H44V836.3H44.7M30.4 825H24.6V834.8H44M68.9 838.4H52.3V838.8H68.9M68.9 839.4H59.8V839.7H68.9M59.8 839.5H59.5V840H68.9M59.5 839.7H58.5V840.3H68.9M68.9 839H56.5V840H58.5M56.5 839.5H52.3V840.6H68.9M52.3 838.6H51.8V840H52.3M51.8 839.3H51.3V840.9H68.9M68.9 838.1H47.7V840.1H51.3M68.9 841.5H59.3V841.8H68.9M68.9 841.2H59V841.6H59.3M59 841.4H55.9V842.1H68.9M55.9 841.7H53.6V842.4H68.9M53.6 842H53.1V842.6H68.9M47.7 839.1H42.8V842.3H53.1M68.9 842.9H56.1V843.2H68.9M68.9 843.5H59V843.9H68.9M56.1 843.1H48.6V843.7H59M42.8 840.7H42V843.4H48.6M68.9 844.1H59.5V844.5H68.9M68.9 845.9H61.3V846.2H68.9M68.9 845.6H58.7V846.1H61.3M68.9 845.3H55.8V845.9H58.7M68.9 845H54.8V845.6H55.8M68.9 846.8H64.1V847.1H68.9M68.9 846.5H62.3V847H64.1M62.3 846.8H56.2V847.5H68.9M68.9 848H57.6V848.4H68.9M68.9 847.8H57.3V848.2H57.6M56.2 847.1H55.8V848H57.3M68.9 849.2H56.7V849.6H68.9M68.9 849H56.3V849.4H56.7M68.9 848.6H55.9V849.2H56.3M55.9 848.9H54.2V849.9H68.9M55.8 847.5H53.7V849.4H54.2M54.8 845.3H53.3V848.5H53.7M68.9 844.8H46.7V846.9H53.3M59.5 844.3H46V845.8H46.7M42 842.1H27.5V845.1H46M24.6 829.9H22.2V843.6H27.5M68.9 850.2H52.5V850.5H68.9M68.9 851.4H65.6V851.7H68.9M65.6 851.5H61.9V852H68.9M61.9 851.7H61.7V852.3H68.9M61.7 852H60.5V852.6H68.9M60.5 852.3H60.3V852.9H68.9M68.9 851.1H56V852.6H60.3M68.9 850.8H55.7V851.8H56M55.7 851.3H55.2V853.2H68.9M55.2 852.2H54.8V853.5H68.9M68.9 854.1H59.8V854.4H68.9M68.9 853.8H59.5V854.3H59.8M59.5 854H59.3V854.7H68.9M54.8 852.9H54.4V854.4H59.3M68.9 855.6H62.3V855.9H68.9M62.3 855.8H62.1V856.2H68.9M62.1 856H61.9V856.5H68.9M68.9 855.3H60.4V856.3H61.9M68.9 855H60.2V855.8H60.4M60.2 855.4H49.7V856.8H68.9M54.4 853.6H47V856.1H49.7M52.5 850.3H40V854.9H47M68.9 857.2H56.2V857.5H68.9M56.2 857.3H55.8V857.8H68.9M68.9 858.1H55.8V858.4H68.9M55.8 857.5H55.4V858.2H55.8M68.9 859H57.3V859.3H68.9M68.9 859.6H61V859.9H68.9M57.3 859.2H56.8V859.8H61M56.8 859.5H55.6V860.2H68.9M68.9 861.2H62V861.5H68.9M62 861.3H61.8V861.8H68.9M61.8 861.5H61.5V862.1H68.9M68.9 860.8H57V861.8H61.5M57 861.3H56.7V862.4H68.9M68.9 860.5H55.7V861.9H56.7M68.9 863H57.4V863.3H68.9M68.9 862.7H57.1V863.2H57.4M57.1 862.9H56.7V863.6H68.9M55.7 861.2H55.3V863.3H56.7M55.6 859.8H54.9V862.2H55.3M68.9 864.2H57.6V864.5H68.9M68.9 863.9H57V864.4H57.6M54.9 861H54.5V864.2H57M68.9 858.7H54V862.6H54.5M55.4 857.9H45.5V860.6H54M45.5 859.3H44V864.8H68.9M40 852.6H26.8V862.1H44M68.9 865.5H58V865.8H68.9M58 865.6H57.7V866.1H68.9M68.9 865.2H56.4V865.8H57.7M68.9 866.4H56.5V866.7H68.9M56.5 866.5H56.1V867H68.9M68.9 867.3H55.4V867.6H68.9M68.9 867.9H64.3V868.2H68.9M68.9 868.5H64.1V868.8H68.9M64.3 868H64V868.6H64.1M64 868.3H63.8V869.1H68.9M63.8 868.7H63.2V869.4H68.9M63.2 869.1H62.4V869.7H68.9M62.4 869.4H58.4V870H68.9M68.9 870.6H59.7V870.9H68.9M59.7 870.8H59.1V871.2H68.9M68.9 870.3H58.8V871H59.1M68.9 871.8H60.7V872.1H68.9M68.9 871.5H58.4V872H60.7M58.8 870.6H58V871.7H58.4M58.4 869.7H57.7V871.2H58M68.9 872.4H61V872.7H68.9M68.9 873H62.1V873.3H68.9M61 872.6H60.8V873.2H62.1M68.9 873.6H65.4V873.9H68.9M65.4 873.8H64.7V874.2H68.9M64.7 874H62.6V874.5H68.9M62.6 874.3H60.8V874.8H68.9M60.8 872.9H60.5V874.6H60.8M57.7 870.4H57.4V873.7H60.5M55.4 867.4H50.7V872.1H57.4M56.1 866.7H50.1V869.8H50.7M56.4 865.5H45V868.2H50.1M68.9 876.7H60.6V877H68.9M68.9 876.4H59.2V876.8H60.6M68.9 876.1H58.9V876.6H59.2M68.9 875.8H56.6V876.3H58.9M68.9 877.3H57V877.6H68.9M68.9 877.9H53.7V878.2H68.9M57 877.4H53.3V878H53.7M56.6 876H52.2V877.7H53.3M68.9 879.7H60.4V880H68.9M60.4 879.8H60.1V880.3H68.9M68.9 879.4H56V880.1H60.1M56 879.7H55.6V880.6H68.9M68.9 879.1H53.3V880.2H55.6M68.9 878.8H52.8V879.6H53.3M68.9 878.5H52.3V879.2H52.8M52.2 876.9H50.7V878.8H52.3M68.9 875.5H49.2V877.9H50.7M68.9 882.1H65.6V882.4H68.9M68.9 881.8H65.5V882.3H65.6M65.5 882H65.3V882.7H68.9M68.9 881.5H65V882.4H65.3M68.9 881.2H61.8V882H65M61.8 881.6H59.1V883H68.9M68.9 883.3H56.9V883.6H68.9M59.1 882.3H55.1V883.5H56.9M68.9 880.9H54.7V882.9H55.1M68.9 883.9H59.2V884.2H68.9M68.9 884.5H61.4V884.8H68.9M59.2 884.1H58.9V884.7H61.4M54.7 881.9H54.2V884.4H58.9M49.2 876.7H48.6V883.1H54.2M68.9 875.2H48V879.9H48.6M45 866.9H35V877.5H48M68.9 885.8H64.1V886.1H68.9M68.9 886.4H62V886.7H68.9M62 886.5H61.8V887H68.9M68.9 887.3H64V887.6H68.9M64 887.4H60.5V887.9H68.9M61.8 886.7H60.2V887.7H60.5M64.1 885.9H59V887.2H60.2M68.9 885.5H58.7V886.6H59M68.9 888.5H60.2V888.8H68.9M68.9 889.1H60.2V889.4H68.9M60.2 888.6H59.9V889.2H60.2M59.9 888.9H59.3V889.7H68.9M68.9 888.2H56.5V889.3H59.3M58.7 886H56.1V888.8H56.5M68.9 885.2H54.2V887.4H56.1M68.9 890.6H64.4V890.9H68.9M64.4 890.8H63.9V891.2H68.9M68.9 890.3H61.2V891H63.9M61.2 890.6H60.9V891.5H68.9M68.9 890H57.6V891.1H60.9M57.6 890.5H57.3V891.8H68.9M57.3 891.2H56.9V892.1H68.9M68.9 892.4H63.8V892.7H68.9M63.8 892.6H59.7V893H68.9M56.9 891.7H56.3V892.8H59.7M68.9 893.6H60.5V893.9H68.9M68.9 894.2H60.5V894.5H68.9M60.5 893.8H60.3V894.4H60.5M68.9 893.3H60V894.1H60.3M56.3 892.2H54.1V893.7H60M54.2 886.3H53.6V893H54.1M68.9 894.8H55.6V895.2H68.9M68.9 895.5H58.3V895.8H68.9M68.9 897H66.1V897.3H68.9M68.9 896.7H66V897.1H66.1M68.9 896.4H64.8V896.9H66M68.9 897.9H65.8V898.2H68.9M68.9 898.5H65.5V898.8H68.9M65.8 898H62.9V898.6H65.5M68.9 897.6H62.8V898.3H62.9M64.8 896.6H62.6V898H62.8M62.6 897.3H61.8V899.1H68.9M68.9 896.1H58.2V898.2H61.8M58.3 895.6H55.4V897.1H58.2M55.6 895H53.6V896.4H55.4M53.6 889.6H53.1V895.7H53.6M68.9 899.4H45.8V899.7H68.9M45.8 899.5H43.6V900H68.9M53.1 892.6H42.8V899.8H43.6M68.9 900.9H57.9V901.2H68.9M68.9 901.5H61.7V901.8H68.9M57.9 901.1H56.1V901.7H61.7M68.9 900.6H51.2V901.4H56.1M68.9 900.3H50.6V901H51.2M68.9 902.7H59.2V903H68.9M68.9 902.4H58.9V902.9H59.2M68.9 903.9H61.2V904.2H68.9M68.9 903.6H60.9V904.1H61.2M68.9 903.3H60.7V903.9H60.9M60.7 903.6H60.4V904.5H68.9M58.9 902.7H55.6V904.1H60.4M68.9 902.1H51.2V903.4H55.6M51.2 902.7H50.6V904.8H68.9M50.6 900.6H50.1V903.8H50.6M42.8 896.2H42V902.2H50.1M68.9 905.4H63.7V905.8H68.9M63.7 905.6H61.1V906H68.9M68.9 905.1H57.8V905.8H61.1M68.9 907.5H66.2V907.8H68.9M66.2 907.7H66.2V908.1H68.9M68.9 907.2H66.1V907.9H66.2M68.9 908.7H66.3V909H68.9M68.9 908.4H66.2V908.9H66.3M66.1 907.6H66V908.7H66.2M68.9 909.3H64.5V909.6H68.9M66 908.1H64.4V909.5H64.5M64.4 908.8H64.1V910H68.9M68.9 910.6H67V910.9H68.9M68.9 911.2H67.7V911.5H68.9M67.7 911.3H66.5V911.8H68.9M67 910.7H66.4V911.5H66.5M68.9 910.2H65.1V911.1H66.4M64.1 909.4H63.5V910.7H65.1M68.9 906.9H63.3V910H63.5M68.9 906.6H63.1V908.5H63.3M68.9 912.7H64.3V913H68.9M68.9 912.4H64.1V912.8H64.3M68.9 912.1H64V912.6H64.1M63.1 907.6H62.7V912.3H64M62.7 909.9H62.5V913.3H68.9M68.9 906.4H62.3V911.6H62.5M68.9 913.9H64.7V914.2H68.9M64.7 914H64.6V914.5H68.9M68.9 913.6H63.5V914.2H64.6M68.9 915.1H66.1V915.4H68.9M66.1 915.2H66V915.7H68.9M66 915.4H66V916H68.9M68.9 916.3H66V916.6H68.9M66 915.7H65.9V916.4H66M68.9 914.8H65V916H65.9M63.5 913.9H63.2V915.4H65M63.2 914.6H62.8V916.9H68.9M62.3 909H62.1V915.7H62.8M62.1 912.4H57.7V917.2H68.9M57.8 905.5H54V914.8H57.7M54 910.1H53.5V917.5H68.9M68.9 918.3H60.1V918.6H68.9M68.9 918H59.9V918.5H60.1M59.9 918.3H59.6V919H68.9M68.9 917.8H58.2V918.6H59.6M58.2 918.2H57.5V919.2H68.9M68.9 919.5H65V919.9H68.9M65 919.7H61.8V920.1H68.9M61.8 919.9H61.6V920.5H68.9M68.9 920.8H65.9V921.1H68.9M65.9 920.9H64.4V921.4H68.9M64.4 921.1H64.3V921.6H68.9M68.9 922.2H65.5V922.5H68.9M68.9 923.1H66.7V923.5H68.9M68.9 922.8H66V923.3H66.7M65.5 922.4H65.1V923.1H66M68.9 921.9H64.7V922.7H65.1M64.7 922.3H64.6V923.8H68.9M64.3 921.4H61.8V923H64.6M68.9 924.9H63.2V925.2H68.9M68.9 924.6H61.9V925.1H63.2M68.9 924.3H61.7V924.9H61.9M68.9 924H61.4V924.6H61.7M68.9 925.5H64.1V925.9H68.9M61.4 924.3H60.9V925.7H64.1M61.8 922.2H60.5V925H60.9M61.6 920.2H57.5V923.6H60.5M57.5 918.7H57.1V921.9H57.5M53.5 913.8H50.9V920.3H57.1M68.9 927.9H59.9V928.2H68.9M68.9 927.6H59.6V928.1H59.9M59.6 927.9H59.4V928.5H68.9M59.4 928.2H53V928.8H68.9M68.9 927.3H52.5V928.5H53M52.5 927.9H52V929.1H68.9M68.9 927H47.2V928.5H52M68.9 929.7H59.4V930H68.9M68.9 930.3H58.9V930.6H68.9M59.4 929.9H58.6V930.5H58.9M68.9 929.4H55.5V930.2H58.6M55.5 929.8H53V931H68.9M53 930.4H52.5V931.2H68.9M68.9 931.5H47.9V931.9H68.9M52.5 930.8H47.2V931.7H47.9M47.2 927.8H46.5V931.3H47.2M68.9 926.7H45.8V929.5H46.5M68.9 926.4H45.1V928.1H45.8M68.9 926.1H40.9V927.3H45.1M50.9 917H40V926.7H40.9M42 899.2H33V921.9H40M35 872.2H30.3V910.6H33M26.8 857.3H22.5V891.4H30.3M22.2 836.7H17.6V874.3H22.5M68.9 932.2H52.1V932.5H68.9M68.9 932.8H47.3V933.1H68.9M47.3 932.9H46.6V933.4H68.9M52.1 932.3H45.9V933.1H46.6M45.9 932.7H40.9V933.7H68.9M68.9 934.6H60.7V934.9H68.9M68.9 935.2H58.9V935.5H68.9M68.9 936.7H67.7V937H68.9M68.9 936.4H67.7V936.9H67.7M68.9 936.1H66.1V936.6H67.7M68.9 935.8H66V936.4H66.1M66 936.1H65.9V937.3H68.9M65.9 936.7H63V937.6H68.9M63 937.2H62.8V937.9H68.9M58.9 935.3H58.4V937.6H62.8M60.7 934.7H58.1V936.4H58.4M68.9 938.2H53.1V938.5H68.9M58.1 935.6H52.6V938.4H53.1M52.6 937H52.1V938.8H68.9M68.9 934.3H50.7V937.9H52.1M68.9 934H43.3V936.1H50.7M40.9 933.2H40V935H43.3M68.9 940.3H53.3V940.6H68.9M68.9 940H49.5V940.5H53.3M68.9 939.7H48.9V940.3H49.5M68.9 939.4H48.3V940H48.9M68.9 939.1H44.7V939.7H48.3M68.9 941.2H55.8V941.6H68.9M68.9 941H55.4V941.4H55.8M55.4 941.2H54.9V941.9H68.9M68.9 942.5H59.9V942.8H68.9M68.9 942.2H59.6V942.6H59.9M59.6 942.4H58.5V943.1H68.9M68.9 944H62.8V944.3H68.9M68.9 943.7H62.6V944.1H62.8M62.6 943.9H59.7V944.6H68.9M68.9 943.4H57.2V944.2H59.7M68.9 944.9H63V945.2H68.9M68.9 945.5H63.8V945.8H68.9M63 945H62.8V945.6H63.8M62.8 945.3H61.2V946.1H68.9M61.2 945.7H57.6V946.4H68.9M68.9 947H63.3V947.3H68.9M68.9 946.7H57.9V947.1H63.3M57.9 946.9H57.6V947.6H68.9M57.6 946H57.2V947.2H57.6M57.2 943.8H56.9V946.6H57.2M58.5 942.7H55.4V945.2H56.9M55.4 944H54.9V947.9H68.9M54.9 941.5H54.5V945.9H54.9M44.7 939.4H44V943.7H54.5M40 934.1H26.8V941.6H44M68.9 948.4H63.5V948.8H68.9M68.9 949.3H62.5V949.6H68.9M68.9 949H62.3V949.5H62.5M62.3 949.3H62.1V949.9H68.9M63.5 948.6H58.7V949.6H62.1M68.9 950.8H65.6V951.1H68.9M68.9 950.5H63.8V951H65.6M68.9 950.2H63.7V950.8H63.8M63.7 950.5H62.5V951.4H68.9M58.7 949.1H58.3V951H62.5M68.9 952H62.6V952.3H68.9M68.9 951.7H62.4V952.2H62.6M68.9 952.6H62.8V952.9H68.9M62.8 952.8H62.3V953.2H68.9M68.9 953.5H64.1V953.8H68.9M62.3 953H62.1V953.7H64.1M62.4 952H61.9V953.4H62.1M68.9 954.1H62.6V954.4H68.9M62.6 954.3H60.8V954.7H68.9M60.8 954.5H60.6V955H68.9M60.6 954.8H59.2V955.3H68.9M68.9 956.2H66.7V956.5H68.9M66.7 956.4H66.6V956.8H68.9M68.9 955.9H65.8V956.6H66.6M68.9 957.1H65.2V957.4H68.9M65.2 957.3H65V957.7H68.9M65.8 956.3H64.9V957.5H65M68.9 958.6H66.5V958.9H68.9M66.5 958.8H66V959.2H68.9M68.9 958.3H64.8V959H66M64.8 958.7H64.4V959.5H68.9M68.9 958H63.9V959.1H64.4M64.9 956.9H63.7V958.6H63.9M68.9 955.6H62.4V957.7H63.7M68.9 961H66V961.4H68.9M68.9 960.8H65.9V961.2H66M65.9 961H64.6V961.7H68.9M68.9 962H65.8V962.3H68.9M64.6 961.3H64.5V962.1H65.8M68.9 960.5H64.4V961.7H64.5M68.9 960.1H64.2V961.1H64.4M64.2 960.6H64.1V962.6H68.9M68.9 959.8H63.9V961.6H64.1M62.4 956.7H62.2V960.7H63.9M62.2 958.7H62V962.9H68.9M62 960.8H60.5V963.1H68.9M59.2 955.1H58.9V962H60.5M61.9 952.7H54.6V958.5H58.9M58.3 950H52.1V955.6H54.6M68.9 964H54.4V964.3H68.9M68.9 963.7H54V964.2H54.4M68.9 964.6H54.8V964.9H68.9M54 964H53.5V964.8H54.8M68.9 963.4H53.1V964.4H53.5M68.9 965.2H53.1V965.5H68.9M53.1 963.9H52.6V965.4H53.1M68.9 966.8H57.5V967.1H68.9M68.9 966.5H57.1V966.9H57.5M57.1 966.7H56.8V967.4H68.9M56.8 967H53.5V967.6H68.9M68.9 966.1H53.1V967.3H53.5M68.9 965.8H52.6V966.7H53.1M52.6 964.7H52.1V966.3H52.6M52.1 952.8H51.5V965.5H52.1M68.9 967.9H55.9V968.2H68.9M51.5 959.1H51V968.1H55.9M68.9 968.8H65.4V969.1H68.9M68.9 968.5H63.7V969H65.4M63.7 968.8H63.5V969.5H68.9M68.9 969.8H64.8V970.1H68.9M68.9 970.4H64.8V970.7H68.9M64.8 969.9H64.7V970.5H64.8M68.9 971.2H66.9V971.6H68.9M66.9 971.4H66.9V971.9H68.9M66.9 971.6H65.8V972.2H68.9M68.9 971H64.5V971.9H65.8M68.9 972.5H65.9V972.8H68.9M64.5 971.4H64.1V972.6H65.9M64.7 970.2H62.4V972H64.1M62.4 971.1H60V973.1H68.9M63.5 969.1H59.7V972.1H60M59.7 970.6H59.5V973.4H68.9M59.5 972H58V973.6H68.9M68.9 973.9H61.7V974.2H68.9M61.7 974.1H58.9V974.5H68.9M58.9 974.3H58.6V974.9H68.9M58 972.8H57.7V974.6H58.6M51 963.6H45.7V973.7H57.7M68.9 948.1H40V968.7H45.7M68.9 976.1H60.7V976.4H68.9M68.9 977H63.4V977.3H68.9M68.9 976.7H61.6V977.1H63.4M60.7 976.2H60.5V976.9H61.6M68.9 975.8H60.2V976.5H60.5M60.2 976.1H57.4V977.6H68.9M57.4 976.9H49.8V977.9H68.9M68.9 975.5H49.2V977.4H49.8M68.9 975.2H48.6V976.4H49.2M68.9 978.8H63.4V979.1H68.9M63.4 978.9H63.1V979.4H68.9M63.1 979.1H62.2V979.7H68.9M68.9 978.5H61.9V979.4H62.2M68.9 980H62.2V980.3H68.9M62.2 980.1H61.9V980.6H68.9M61.9 978.9H61.7V980.3H61.9M68.9 978.2H61.5V979.6H61.7M61.5 978.9H61.2V980.9H68.9M68.9 981.2H60.5V981.5H68.9M61.2 979.9H60.2V981.3H60.5M68.9 981.8H63.7V982.1H68.9M68.9 982.7H66.9V983H68.9M66.9 982.8H66.8V983.3H68.9M68.9 984.2H68V984.5H68.9M68.9 983.9H67.6V984.3H68M68.9 984.8H67.6V985.1H68.9M67.6 984.1H67.6V984.9H67.6M68.9 985.4H68.3V985.7H68.9M67.6 984.5H67.5V985.5H68.3M68.9 983.6H67.5V985H67.5M68.9 986.3H67.8V986.6H68.9M67.8 986.4H67.8V986.9H68.9M68.9 986H67.6V986.7H67.8M67.5 984.3H67.4V986.3H67.6M66.8 983.1H66.8V985.3H67.4M68.9 988.1H68.2V988.4H68.9M68.9 989H67.7V989.3H68.9M68.9 988.7H67.7V989.2H67.7M68.2 988.3H67.7V988.9H67.7M67.7 988.6H67.4V989.6H68.9M68.9 987.8H67.3V989.1H67.4M68.9 987.5H67.3V988.5H67.3M68.9 989.9H67.3V990.2H68.9M67.3 988H67.2V990.1H67.3M68.9 987.2H67.2V989H67.2M68.9 990.8H66.9V991.1H68.9M68.9 990.5H66.8V991H66.9M67.2 988.1H66.8V990.7H66.8M66.8 989.4H66.7V991.4H68.9M66.8 984.2H66.6V990.4H66.7M68.9 982.4H65.9V987.3H66.6M68.9 992.3H66.3V992.6H68.9M68.9 993.5H68.5V993.8H68.9M68.9 993.2H68.3V993.7H68.5M68.9 994.1H68.5V994.4H68.9M68.9 994.7H68.5V995H68.9M68.5 994.9H68.5V995.3H68.9M68.5 994.3H68.3V995.1H68.5M68.3 993.4H68.2V994.7H68.3M68.9 995.6H67.9V995.9H68.9M68.2 994.1H67.9V995.8H67.9M67.9 994.9H67V996.2H68.9M68.9 992.9H66.3V995.6H67M66.3 992.5H66.2V994.3H66.3M68.9 992H66.1V993.4H66.2M68.9 991.7H65.8V992.7H66.1M65.9 984.8H64.1V992.2H65.8M68.9 997.4H65.7V997.7H68.9M65.7 997.6H65.6V998H68.9M68.9 997.1H64.8V997.8H65.6M68.9 996.8H64.6V997.5H64.8M68.9 996.5H64.1V997.2H64.6M64.1 988.5H64V996.8H64.1M63.7 981.9H60.3V992.7H64M60.2 980.6H58.4V987.3H60.3M68.9 998.6H59.8V998.9H68.9M68.9 998.3H58.9V998.8H59.8M58.9 998.6H58.6V999.2H68.9M58.6 998.9H55.2V999.5H68.9M55.2 999.2H54.3V999.8H68.9M58.4 984H51.1V999.5H54.3M48.6 975.8H42V991.7H51.1M40 958.4H30V983.8H42M68.9 1000.8H59.2V1001.1H68.9M68.9 1000.5H53.4V1000.9H59.2M68.9 1000.2H53V1000.7H53.4M68.9 1001.7H56.6V1002H68.9M68.9 1001.4H56.1V1001.8H56.6M68.9 1002.3H55V1002.6H68.9M68.9 1002.9H59.6V1003.2H68.9M68.9 1003.5H55.8V1003.8H68.9M59.6 1003H55.4V1003.6H55.8M55 1002.4H51.7V1003.3H55.4M68.9 1004.1H53V1004.4H68.9M51.7 1002.9H46.9V1004.2H53M68.9 1005H63.2V1005.3H68.9M68.9 1004.7H62.3V1005.2H63.2M68.9 1006.2H64.3V1006.5H68.9M68.9 1005.9H64.1V1006.4H64.3M68.9 1005.6H62.3V1006.1H64.1M62.3 1004.9H62.1V1005.9H62.3M62.1 1005.4H60.6V1006.8H68.9M68.9 1007.1H63V1007.4H68.9M68.9 1008H64.9V1008.3H68.9M68.9 1007.7H62.6V1008.2H64.9M63 1007.3H61.2V1008H62.6M60.6 1006.1H60.3V1007.6H61.2M68.9 1008.9H60.6V1009.2H68.9M68.9 1008.6H60.3V1009.1H60.6M60.3 1006.9H60.1V1008.9H60.3M60.1 1007.9H56V1009.5H68.9M56 1008.7H55.6V1009.8H68.9M68.9 1010.2H56V1010.5H68.9M56 1010.3H55.6V1010.8H68.9M55.6 1009.3H55.2V1010.5H55.6M55.2 1009.9H51.4V1011.1H68.9M51.4 1010.5H47.6V1011.4H68.9M68.9 1011.7H53.9V1012H68.9M68.9 1012.3H56.1V1012.6H68.9M68.9 1013.2H57.1V1013.5H68.9M68.9 1012.9H56.7V1013.3H57.1M68.9 1013.8H57.3V1014.1H68.9M57.3 1013.9H56.5V1014.4H68.9M56.7 1013.1H56.1V1014.2H56.5M56.1 1012.4H55.7V1013.6H56.1M68.9 1014.7H64.5V1015H68.9M64.5 1014.8H63.2V1015.3H68.9M68.9 1016.2H65.8V1016.5H68.9M65.8 1016.4H65.7V1016.8H68.9M68.9 1017.4H64.1V1017.7H68.9M68.9 1017.1H64V1017.6H64.1M65.7 1016.6H62.7V1017.3H64M68.9 1018.3H65.6V1018.6H68.9M65.6 1018.5H65.3V1018.9H68.9M68.9 1018H63.7V1018.7H65.3M62.7 1017H62.2V1018.4H63.7M68.9 1015.9H62V1017.7H62.2M68.9 1015.6H61.8V1016.8H62M63.2 1015.1H61.6V1016.2H61.8M61.6 1015.6H54.6V1019.2H68.9M54.6 1017.4H54.2V1019.5H68.9M55.7 1013H48.6V1018.5H54.2M53.9 1011.8H48V1015.8H48.6M47.6 1010.9H46.9V1013.8H48M46.9 1003.6H46.3V1012.4H46.9M56.1 1001.6H45.6V1008H46.3M53 1000.4H38.9V1004.8H45.6M38.9 1002.6H38V1019.8H68.9M68.9 1020.8H48.6V1021.1H68.9M68.9 1020.5H48V1020.9H48.6M68.9 1022.6H63.7V1022.9H68.9M68.9 1022.3H63.6V1022.7H63.7M63.6 1022.5H63.4V1023.2H68.9M68.9 1022H63.2V1022.8H63.4M63.2 1022.4H62.9V1023.5H68.9M68.9 1021.7H62.7V1022.9H62.9M68.9 1023.8H61.4V1024.1H68.9M68.9 1024.4H61.4V1024.7H68.9M61.4 1023.9H61.2V1024.5H61.4M68.9 1025.3H63.8V1025.6H68.9M63.8 1025.4H63.6V1025.9H68.9M68.9 1025H63.5V1025.7H63.6M63.5 1025.3H63.3V1026.2H68.9M63.3 1025.8H63.1V1026.5H68.9M63.1 1026.1H62.6V1026.8H68.9M61.2 1024.2H61V1026.5H62.6M62.7 1022.3H58.2V1025.4H61M68.9 1028H62.7V1028.3H68.9M68.9 1027.7H60.2V1028.2H62.7M68.9 1027.4H59.3V1027.9H60.2M68.9 1027.1H59V1027.7H59.3M58.2 1023.8H56.6V1027.4H59M68.9 1021.4H54.2V1025.6H56.6M54.2 1023.5H47.6V1028.6H68.9M68.9 1028.9H62.3V1029.2H68.9M68.9 1030.1H65.8V1030.4H68.9M68.9 1029.8H64.7V1030.3H65.8M68.9 1029.5H64.6V1030.1H64.7M62.3 1029.1H62.1V1029.8H64.6M68.9 1031.7H65.9V1032H68.9M68.9 1031.3H65.8V1031.8H65.9M68.9 1031H65.7V1031.6H65.8M68.9 1030.7H65.6V1031.3H65.7M68.9 1032.9H67.7V1033.2H68.9M68.9 1033.8H68V1034.1H68.9M68 1033.9H67.6V1034.4H68.9M68.9 1033.5H67.6V1034.1H67.6M67.6 1033.8H67.5V1034.7H68.9M67.7 1033H67.1V1034.2H67.5M68.9 1032.6H65.2V1033.6H67.1M65.2 1033.1H65.1V1035H68.9M68.9 1032.3H64.4V1034H65.1M65.6 1031H64V1033.1H64.4M68.9 1035.3H66.4V1035.6H68.9M66.4 1035.4H65.7V1035.9H68.9M64 1032.1H60.2V1035.7H65.7M62.1 1029.4H59.9V1033.9H60.2M59.9 1031.7H52.5V1036.2H68.9M68.9 1036.8H60.9V1037.1H68.9M60.9 1036.9H60.6V1037.4H68.9M68.9 1036.5H60.1V1037.2H60.6M60.1 1036.8H59.8V1037.7H68.9M68.9 1038H62.5V1038.3H68.9M68.9 1038.6H63.1V1038.9H68.9M62.5 1038.2H61.8V1038.8H63.1M59.8 1037.3H59.6V1038.5H61.8M52.5 1033.9H47.4V1037.9H59.6M68.9 1039.2H56.9V1039.5H68.9M56.9 1039.4H55.1V1039.8H68.9M55.1 1039.6H54.6V1040.1H68.9M68.9 1040.7H60.3V1041H68.9M60.3 1040.9H55.9V1041.3H68.9M68.9 1040.4H55.2V1041.1H55.9M68.9 1041.6H55.2V1041.9H68.9M55.2 1040.8H54.7V1041.8H55.2M54.6 1039.9H51.7V1041.3H54.7M51.7 1040.6H51.2V1042.2H68.9M47.4 1035.9H46.8V1041.4H51.2M46.8 1038.7H46.1V1042.5H68.9M47.6 1026.1H45.4V1040.6H46.1M48 1020.7H44.6V1033.3H45.4M44.6 1027H41.8V1042.8H68.9M68.9 1020.2H41V1034.9H41.8M38 1011.2H30V1027.5H41M30 971.1H26V1019.4H30M26.8 937.8H23.3V995.2H26M68.9 1043.2H53.4V1043.5H68.9M53.4 1043.3H52.9V1043.8H68.9M68.9 1044.1H58.1V1044.4H68.9M58.1 1044.2H55.6V1044.7H68.9M55.6 1044.4H52.9V1045H68.9M52.9 1043.5H52.4V1044.7H52.9M52.4 1044.1H51.9V1045.3H68.9M68.9 1046.2H57.9V1046.5H68.9M68.9 1045.9H57.6V1046.3H57.9M57.6 1046.1H52.4V1046.8H68.9M68.9 1045.6H51.9V1046.5H52.4M51.9 1044.7H51.3V1046H51.9M51.3 1045.4H50.6V1047.1H68.9M68.9 1047.4H58.2V1047.7H68.9M58.2 1047.6H54.3V1048H68.9M50.6 1046.2H42.8V1047.8H54.3M68.9 1049.2H52.5V1049.5H68.9M52.5 1049.4H50.4V1049.8H68.9M68.9 1048.9H49.8V1049.6H50.4M68.9 1048.6H49.2V1049.3H49.8M68.9 1048.3H43.6V1049H49.2M42.8 1047H40V1048.6H43.6M68.9 1050.5H53.5V1050.8H68.9M68.9 1051.1H50.4V1051.4H68.9M53.5 1050.6H48.8V1051.2H50.4M48.8 1050.9H45.1V1051.7H68.9M68.9 1050.2H44.3V1051.3H45.1M68.9 1052H53.1V1052.3H68.9M44.3 1050.7H43.6V1052.2H53.1M43.6 1051.4H42.8V1052.6H68.9M68.9 1052.9H52.6V1053.2H68.9M68.9 1054.5H59.4V1054.8H68.9M68.9 1054.2H59.1V1054.6H59.4M59.1 1054.4H58.8V1055.1H68.9M68.9 1055.7H58.1V1056H68.9M68.9 1055.4H57.8V1055.8H58.1M58.8 1054.7H56.1V1055.6H57.8M68.9 1053.8H55.7V1055.2H56.1M68.9 1053.5H50.6V1054.5H55.7M68.9 1056.3H58V1056.6H68.9M68.9 1056.9H50.1V1057.2H68.9M58 1056.5H48.5V1057.1H50.1M48.5 1056.8H47.8V1057.5H68.9M47.8 1057.2H47.2V1057.8H68.9M50.6 1054H45V1057.5H47.2M52.6 1053.1H44.2V1055.8H45M42.8 1052H42V1054.4H44.2M40 1047.8H27V1053.2H42M68.9 1058.5H67.6V1058.8H68.9M67.6 1058.6H67.1V1059.1H68.9M68.9 1058.2H66.2V1058.8H67.1M66.2 1058.5H63.7V1059.4H68.9M63.7 1058.9H62.4V1059.7H68.9M68.9 1060.6H65.1V1060.9H68.9M68.9 1060.3H65V1060.7H65.1M68.9 1061.8H67V1062.1H68.9M68.9 1061.5H66.5V1061.9H67M66.5 1061.7H66.1V1062.4H68.9M68.9 1063H66.5V1063.3H68.9M68.9 1062.7H66.4V1063.1H66.5M66.1 1062H65.5V1062.9H66.4M68.9 1061.2H65.4V1062.5H65.5M65 1060.5H63.1V1061.8H65.4M68.9 1064.2H66V1064.5H68.9M68.9 1064.8H64.8V1065.1H68.9M66 1064.3H64.7V1064.9H64.8M68.9 1063.9H64.5V1064.6H64.7M68.9 1063.6H62.3V1064.3H64.5M62.3 1063.9H62.1V1065.4H68.9M63.1 1061.2H61.9V1064.6H62.1M61.9 1062.9H61.7V1065.7H68.9M68.9 1060H58.8V1064.3H61.7M62.4 1059.3H58.5V1062.1H58.8M68.9 1066.3H61.5V1066.6H68.9M68.9 1066H58.9V1066.4H61.5M58.5 1060.7H58.1V1066.2H58.9M68.9 1066.9H60.3V1067.2H68.9M58.1 1063.5H54.5V1067H60.3M68.9 1067.8H52V1068.1H68.9M68.9 1067.5H51.5V1067.9H52M54.5 1065.3H50.4V1067.7H51.5M68.9 1068.7H63.7V1069H68.9M68.9 1070.2H65.6V1070.5H68.9M65.6 1070.4H64.4V1070.8H68.9M68.9 1069.9H64.3V1070.6H64.4M68.9 1069.6H63.9V1070.2H64.3M68.9 1069.3H63.7V1069.9H63.9M63.7 1068.8H61.8V1069.6H63.7M68.9 1071.4H62.5V1071.7H68.9M62.5 1071.6H62.3V1072H68.9M68.9 1071.1H62.1V1071.8H62.3M68.9 1072.3H63.3V1072.6H68.9M63.3 1072.5H63.2V1072.9H68.9M62.1 1071.4H59V1072.7H63.2M59 1072.1H57.2V1073.2H68.9M61.8 1069.2H56.9V1072.6H57.2M68.9 1068.4H56.5V1070.9H56.9M50.4 1066.5H49.9V1069.7H56.5M68.9 1073.5H59.6V1073.8H68.9M59.6 1073.7H59.3V1074.1H68.9M68.9 1074.4H56.7V1074.7H68.9M56.7 1074.6H56.3V1075H68.9M59.3 1073.9H53.5V1074.8H56.3M68.9 1075.9H62V1076.2H68.9M62 1076.1H58.6V1076.5H68.9M58.6 1076.3H56.2V1076.8H68.9M68.9 1075.6H55.9V1076.6H56.2M68.9 1077.1H60.5V1077.4H68.9M60.5 1077.3H60.3V1077.7H68.9M60.3 1077.5H60V1078H68.9M60 1077.8H59.7V1078.3H68.9M68.9 1078.6H61.1V1078.9H68.9M59.7 1078.1H57V1078.8H61.1M68.9 1079.2H62.4V1079.5H68.9M62.4 1079.4H61.6V1079.8H68.9M57 1078.4H56.6V1079.6H61.6M55.9 1076.1H55.4V1079H56.6M68.9 1075.3H55V1077.6H55.4M53.5 1074.3H53V1076.4H55M49.9 1068.1H44V1075.4H53M68.9 1080.2H56.7V1080.5H68.9M68.9 1080.8H61.4V1081.1H68.9M61.4 1080.9H61.2V1081.4H68.9M68.9 1082H60.5V1082.3H68.9M68.9 1082.6H61.4V1082.9H68.9M60.5 1082.1H60.3V1082.7H61.4M68.9 1081.7H60V1082.4H60.3M61.2 1081.1H59.7V1082H60M56.7 1080.3H56V1081.6H59.7M68.9 1083.2H58.2V1083.5H68.9M68.9 1084.1H60.5V1084.4H68.9M68.9 1083.8H60.3V1084.2H60.5M68.9 1085.3H66V1085.6H68.9M66 1085.5H65.7V1085.9H68.9M68.9 1086.2H65.7V1086.5H68.9M65.7 1085.7H65.6V1086.4H65.7M68.9 1085H65.5V1086H65.6M68.9 1086.8H63.2V1087.1H68.9M63.2 1087H63V1087.4H68.9M63 1087.2H62.9V1087.7H68.9M68.9 1088.3H65.6V1088.6H68.9M68.9 1088H63.6V1088.5H65.6M63.6 1088.3H63.4V1088.9H68.9M62.9 1087.5H62.7V1088.6H63.4M65.5 1085.5H60.6V1088H62.7M68.9 1084.7H57.1V1086.8H60.6M60.3 1084H56.7V1085.7H57.1M68.9 1089.2H61.1V1089.5H68.9M68.9 1090.2H63.4V1090.5H68.9M63.4 1090.3H63.2V1090.8H68.9M63.2 1090.5H63V1091.1H68.9M63 1090.8H60.8V1091.4H68.9M68.9 1089.8H59.9V1091.1H60.8M59.9 1090.5H59.6V1091.7H68.9M61.1 1089.4H55.9V1091.1H59.6M55.9 1090.2H55.5V1092H68.9M56.7 1084.9H55.1V1091.1H55.5M58.2 1083.3H52.2V1088H55.1M68.9 1092.3H49.8V1092.6H68.9M68.9 1093.2H57.6V1093.5H68.9M68.9 1092.9H57.3V1093.3H57.6M57.3 1093.1H56.5V1093.8H68.9M56.5 1093.4H56.2V1094.1H68.9M56.2 1093.8H52.7V1094.4H68.9M49.8 1092.4H48.6V1094.1H52.7M52.2 1085.7H48V1093.3H48.6M56 1080.9H47.4V1089.5H48M68.9 1095.3H61.4V1095.6H68.9M68.9 1095H54.1V1095.5H61.4M68.9 1095.9H57.7V1096.2H68.9M54.1 1095.2H53V1096.1H57.7M68.9 1094.7H49.4V1095.6H53M68.9 1096.5H50.1V1096.8H68.9M49.4 1095.2H48.8V1096.7H50.1M47.4 1085.2H46.7V1095.9H48.8M68.9 1097.4H58.6V1097.7H68.9M68.9 1098.6H63.1V1098.9H68.9M63.1 1098.8H62.9V1099.2H68.9M62.9 1099H62.7V1099.5H68.9M68.9 1098.3H60.7V1099.3H62.7M60.7 1098.8H59.7V1099.8H68.9M68.9 1098H57.6V1099.3H59.7M58.6 1097.6H57.2V1098.7H57.6M68.9 1097.1H46.7V1098.1H57.2M46.7 1090.6H46V1097.6H46.7M44 1071.7H36.4V1094.1H46M68.9 1100.5H58.3V1100.8H68.9M68.9 1100.2H53.6V1100.6H58.3M68.9 1101.4H62.3V1101.7H68.9M62.3 1101.5H61.1V1102H68.9M68.9 1101.1H59.5V1101.7H61.1M68.9 1102.3H59.9V1102.6H68.9M59.9 1102.4H59.6V1102.9H68.9M59.5 1101.4H59.2V1102.6H59.6M59.2 1102H58.9V1103.2H68.9M68.9 1103.5H64.1V1103.8H68.9M68.9 1104.7H65.6V1105H68.9M68.9 1104.4H64.1V1104.8H65.6M68.9 1105.6H64.6V1105.9H68.9M64.6 1105.7H64.4V1106.2H68.9M68.9 1105.3H62.9V1105.9H64.4M62.9 1105.6H62.7V1106.5H68.9M64.1 1104.6H62.6V1106H62.7M68.9 1104.1H62.4V1105.3H62.6M64.1 1103.6H62.2V1104.7H62.4M62.2 1104.2H60.3V1106.8H68.9M58.9 1102.6H53V1105.5H60.3M68.9 1107.4H57.8V1107.7H68.9M68.9 1107.1H57.4V1107.5H57.8M53 1104H47.1V1107.3H57.4M68.9 1108.3H52.2V1108.6H68.9M68.9 1108H48.7V1108.4H52.2M68.9 1108.9H51.4V1109.2H68.9M48.7 1108.2H48.1V1109H51.4M48.1 1108.6H47.5V1109.5H68.9M47.1 1105.7H46.4V1109.1H47.5M53.6 1100.4H45.7V1107.4H46.4M68.9 1110.1H47.2V1110.4H68.9M68.9 1109.8H45.6V1110.2H47.2M45.7 1103.9H42.8V1110H45.6M68.9 1111.3H45.9V1111.6H68.9M68.9 1111H45.2V1111.4H45.9M68.9 1110.7H44.4V1111.2H45.2M68.9 1112.5H58.2V1112.8H68.9M58.2 1112.7H56.9V1113.1H68.9M68.9 1112.2H56.5V1112.9H56.9M68.9 1113.4H46.6V1113.7H68.9M56.5 1112.5H45.9V1113.6H46.6M68.9 1111.9H45.2V1113H45.9M45.2 1112.5H44.4V1114H68.9M44.4 1111H43.7V1113.2H44.4M68.9 1114.6H57.8V1114.9H68.9M57.8 1114.8H57.5V1115.2H68.9M68.9 1116.4H62.9V1116.7H68.9M68.9 1116.1H62.8V1116.6H62.9M68.9 1115.8H59.4V1116.3H62.8M68.9 1115.5H59.1V1116.1H59.4M68.9 1117.6H66.7V1117.9H68.9M68.9 1117.3H65.2V1117.8H66.7M65.2 1117.5H65.1V1118.2H68.9M65.1 1117.9H63V1118.5H68.9M68.9 1117H59.4V1118.2H63M59.1 1115.8H58.8V1117.6H59.4M58.8 1116.7H55V1118.8H68.9M57.5 1115H48.5V1117.8H55M68.9 1114.3H45.9V1116.4H48.5M45.9 1115.3H45.2V1119.1H68.9M68.9 1119.7H48.4V1120H68.9M68.9 1120.3H54.6V1120.6H68.9M54.6 1120.5H54.2V1120.9H68.9M54.2 1120.7H52.4V1121.2H68.9M48.4 1119.9H47.7V1121H52.4M68.9 1122.4H57.5V1122.7H68.9M68.9 1122.1H57.2V1122.6H57.5M57.2 1122.4H56.8V1123H68.9M68.9 1121.8H51.6V1122.7H56.8M68.9 1121.5H51V1122.3H51.6M68.9 1123.6H57.2V1123.9H68.9M68.9 1123.3H51.7V1123.8H57.2M51 1121.9H50.5V1123.6H51.7M47.7 1120.4H47.1V1122.7H50.5M68.9 1119.4H45.2V1121.6H47.1M45.2 1117.2H44.4V1120.5H45.2M68.9 1124.2H46.8V1124.5H68.9M46.8 1124.4H44.5V1124.8H68.9M44.4 1118.9H43.7V1124.6H44.5M43.7 1112.1H42.9V1121.7H43.7M42.8 1106.9H42V1116.9H42.9M68.9 1126H64.9V1126.3H68.9M68.9 1125.8H62.6V1126.2H64.9M62.6 1126H62.4V1126.7H68.9M68.9 1125.4H62.2V1126.3H62.4M68.9 1128.4H67.7V1128.8H68.9M68.9 1128.1H67.2V1128.6H67.7M68.9 1127.8H67V1128.4H67.2M68.9 1127.5H67V1128.1H67M67 1127.8H65.8V1129H68.9M68.9 1129.9H67.6V1130.2H68.9M67.6 1130.1H67.6V1130.5H68.9M68.9 1129.6H67.5V1130.3H67.6M67.5 1130H65.9V1130.8H68.9M68.9 1129.3H65.8V1130.4H65.9M65.8 1128.4H65.7V1129.9H65.8M68.9 1131.2H65V1131.4H68.9M68.9 1131.8H64.6V1132.1H68.9M64.6 1131.9H64.5V1132.3H68.9M68.9 1132.9H66.9V1133.2H68.9M68.9 1132.7H65.9V1133.1H66.9M64.5 1132.1H64.3V1132.9H65.9M65 1131.3H63.9V1132.5H64.3M63.9 1131.9H63.5V1133.6H68.9M65.7 1129.2H63.1V1132.7H63.5M68.9 1127.2H59.8V1130.9H63.1M68.9 1126.9H57.3V1129.1H59.8M62.2 1125.9H56.9V1128H57.3M68.9 1134.4H64.4V1134.8H68.9M68.9 1134.2H63.6V1134.6H64.4M63.6 1134.4H59.3V1135.1H68.9M68.9 1135.9H63.4V1136.2H68.9M68.9 1135.7H62.6V1136.1H63.4M68.9 1135.3H59.3V1135.9H62.6M59.3 1134.7H59.1V1135.6H59.3M68.9 1136.6H57.8V1136.8H68.9M68.9 1137.2H57.5V1137.5H68.9M57.8 1136.7H57.2V1137.3H57.5M59.1 1135.2H56.8V1137H57.2M68.9 1137.8H62.9V1138.1H68.9M56.8 1136.1H56.4V1137.9H62.9M68.9 1138.3H60.2V1138.7H68.9M56.4 1137H56V1138.5H60.2M68.9 1138.9H63.7V1139.2H68.9M68.9 1139.5H64.4V1139.8H68.9M68.9 1140.4H65.5V1140.8H68.9M68.9 1140.1H65.1V1140.6H65.5M65.1 1140.4H64.4V1141H68.9M64.4 1139.7H64.3V1140.7H64.4M63.7 1139.1H62.3V1140.2H64.3M68.9 1141.6H63.7V1141.9H68.9M68.9 1141.3H63.5V1141.8H63.7M62.3 1139.7H62.1V1141.6H63.5M56 1137.7H54.3V1140.6H62.1M68.9 1142.8H66.1V1143.2H68.9M66.1 1143H61.8V1143.4H68.9M68.9 1145.2H68V1145.5H68.9M68 1145.4H67.9V1145.8H68.9M67.9 1145.6H67.9V1146.2H68.9M68.9 1144.9H67.8V1145.9H67.9M68.9 1144.6H67.8V1145.4H67.8M68.9 1146.4H68.2V1146.8H68.9M68.2 1146.6H68V1147.1H68.9M67.8 1145H66.7V1146.8H68M68.9 1144.3H66.4V1145.9H66.7M68.9 1144H64.2V1145.1H66.4M68.9 1147.3H63.7V1147.7H68.9M64.2 1144.6H63.1V1147.5H63.7M68.9 1147.9H63.5V1148.2H68.9M63.1 1146H63V1148.1H63.5M68.9 1148.8H63.3V1149.2H68.9M63.3 1149H63.2V1149.4H68.9M68.9 1148.5H62.9V1149.2H63.2M63 1147.1H61.5V1148.9H62.9M68.9 1149.8H65.6V1150.1H68.9M65.6 1149.9H63.3V1150.3H68.9M63.3 1150.1H63.1V1150.7H68.9M68.9 1151.5H66.2V1151.8H68.9M68.9 1152.2H66.2V1152.4H68.9M66.2 1151.7H66.1V1152.3H66.2M68.9 1151.2H66V1152H66.1M68.9 1152.8H66.8V1153.1H68.9M66 1151.6H66V1152.9H66.8M68.9 1150.9H65.9V1152.3H66M68.9 1153.3H67.7V1153.7H68.9M68.9 1154H67.7V1154.2H68.9M67.7 1153.5H67.6V1154.1H67.7M65.9 1151.6H65.8V1153.8H67.6M63.1 1150.4H62.9V1152.7H65.8M61.5 1148H61.2V1151.5H62.9M68.9 1143.8H61V1149.8H61.2M68.9 1154.6H62.5V1154.8H68.9M61 1146.8H60.8V1154.7H62.5M61.8 1143.2H60.5V1150.7H60.8M68.9 1142.5H60.2V1147H60.5M68.9 1142.2H56.3V1144.8H60.2M54.3 1139.2H53.8V1143.5H56.3M68.9 1133.8H53.3V1141.3H53.8M56.9 1127H50.4V1137.6H53.3M68.9 1125.2H45V1132.3H50.4M42 1111.9H34V1128.7H45M36.4 1082.9H27V1120.3H34M27 1050.5H23.4V1101.6H27M68.9 1155.8H59.9V1156.1H68.9M59.9 1155.9H59.7V1156.4H68.9M59.7 1156.1H59.4V1156.7H68.9M68.9 1155.5H57.5V1156.4H59.4M68.9 1157H57.1V1157.3H68.9M57.5 1155.9H55.7V1157.1H57.1M68.9 1155.2H55.3V1156.5H55.7M55.3 1155.8H46.2V1157.6H68.9M68.9 1158.2H35.2V1158.5H68.9M68.9 1157.9H34.2V1158.3H35.2M68.9 1158.8H49.5V1159.1H68.9M49.5 1158.9H48.9V1159.4H68.9M48.9 1159.2H48.3V1159.7H68.9M68.9 1160.3H52.6V1160.6H68.9M68.9 1160H51.5V1160.5H52.6M68.9 1160.9H51.5V1161.2H68.9M51.5 1160.2H51V1161.1H51.5M68.9 1161.5H46.4V1161.8H68.9M51 1160.6H45.6V1161.7H46.4M45.6 1161.2H37.8V1162.1H68.9M48.3 1159.4H36.9V1161.6H37.8M36.9 1160.5H35.9V1162.4H68.9M34.2 1158.1H33.1V1161.5H35.9M68.9 1162.7H42.9V1163H68.9M68.9 1163.3H44.3V1163.6H68.9M68.9 1164.2H46.7V1164.5H68.9M46.7 1164.4H44.6V1164.8H68.9M68.9 1163.9H42.7V1164.6H44.6M44.3 1163.5H41.2V1164.3H42.7M42.9 1162.9H33.1V1163.9H41.2M33.1 1159.8H32V1163.4H33.1M46.2 1156.7H30V1161.6H32M68.9 1165.2H45.9V1165.5H68.9M68.9 1165.8H40.7V1166.1H68.9M68.9 1166.7H51.7V1167H68.9M51.7 1166.8H47.4V1167.3H68.9M47.4 1167.1H43.2V1167.6H68.9M68.9 1166.4H42.4V1167.3H43.2M68.9 1167.9H57.3V1168.2H68.9M57.3 1168.1H42.4V1168.5H68.9M42.4 1166.9H41.5V1168.3H42.4M41.5 1167.6H40.7V1168.8H68.9M40.7 1165.9H39.8V1168.2H40.7M45.9 1165.3H38.9V1167.1H39.8M68.9 1169.2H60.8V1169.5H68.9M68.9 1169.8H57.8V1170.1H68.9M68.9 1170.7H66V1171H68.9M66 1170.8H63.2V1171.3H68.9M68.9 1170.4H62.8V1171.1H63.2M62.8 1170.7H60.8V1171.6H68.9M60.8 1171.2H59.5V1171.9H68.9M59.5 1171.5H57.5V1172.2H68.9M57.8 1169.9H57.1V1171.9H57.5M60.8 1169.3H56.7V1170.9H57.1M56.7 1170.1H50.1V1172.5H68.9M50.1 1171.3H39.9V1172.8H68.9M38.9 1166.2H38V1172.1H39.9M68.9 1173.5H60.3V1173.8H68.9M68.9 1173.2H56.7V1173.6H60.3M68.9 1174.4H58.9V1174.7H68.9M68.9 1175.3H64.4V1175.6H68.9M68.9 1175H61.6V1175.5H64.4M61.6 1175.2H61.3V1175.9H68.9M68.9 1176.5H62.1V1176.8H68.9M68.9 1176.2H61.8V1176.7H62.1M61.8 1176.5H61.3V1177.2H68.9M61.3 1175.6H61.1V1176.8H61.3M61.1 1176.2H60.8V1177.5H68.9M68.9 1178.7H66.7V1179H68.9M68.9 1179.3H67.7V1179.6H68.9M67.7 1179.5H66.7V1179.9H68.9M66.7 1178.9H66.6V1179.7H66.7M68.9 1178.4H65.2V1179.3H66.6M68.9 1178.1H65V1178.8H65.2M68.9 1177.8H63.3V1178.5H65M60.8 1176.8H60.6V1178.1H63.3M58.9 1174.5H52.6V1177.5H60.6M68.9 1174.1H52.1V1176H52.6M68.9 1180.2H57V1180.5H68.9M52.1 1175H48.8V1180.4H57M56.7 1173.4H40V1177.7H48.8M38 1169.1H26V1175.6H40M30 1159.1H22V1172.3H26M23.4 1076.1H19.6V1165.7H22M23.3 966.5H18.3V1120.9H19.6M17.6 855.5H17.3V1043.7H18.3" stroke="#000" stroke-width="0.9" shape-rendering="crispEdges" fill="none"/><path d="M44 42.5H48M40 70H44M28 103.5H46M28.7 161.3H43M24.7 207H30.5M34 265H44M40 653.4H42.8M31 688H33M26 733.8H28M28 835H32M28 845.7H34M27 938.7H30M30 995H33M33 1062H36M33 1175H36" stroke="#000" stroke-width="1"/><rect x="48" y="41.5" width="23.9" height="2"/><rect x="44" y="68.8" width="27.9" height="2.5"/><rect x="46" y="102.5" width="25.9" height="2"/><rect x="43" y="160.3" width="28.9" height="2"/><rect x="30.5" y="206" width="41.4" height="2"/><rect x="44" y="264" width="27.9" height="2"/><rect x="42.8" y="652.4" width="26.1" height="2"/><rect x="33" y="687" width="35.9" height="2"/><rect x="28" y="732.8" width="40.9" height="2"/><rect x="32" y="834" width="36.9" height="2"/><rect x="34" y="845" width="34.9" height="1.5"/><rect x="30" y="937.7" width="38.9" height="2"/><rect x="33" y="994" width="35.9" height="2"/><rect x="36" y="1061" width="32.9" height="2"/><rect x="36" y="1174" width="32.9" height="2"/></svg>
<div class="pl" style="left:1.5px;top:-1.9px">A</div>
<div class="pl" style="left:1px;top:358.5px">B</div>
<div class="pl" style="left:1px;top:805.5px">C</div>
<div style="position:absolute;left:489.3px;top:1.4px;width:10.1px;height:155.3px;background:linear-gradient(rgb(222,18,24) 0%,rgb(226,50,55) 12%,rgb(229,75,80) 19%,rgb(236,135,140) 34%,rgb(245,195,197) 42%,rgb(253,240,240) 47.5%,#fff 49.5%,#fff 51%,rgb(235,235,252) 54%,rgb(190,190,246) 64%,rgb(140,140,242) 72%,rgb(90,90,240) 80%,rgb(45,45,238) 90%,rgb(20,20,236) 100%)"></div>
<div class="lg" style="left:502.0px;top:2.3px">3</div>
<div class="lg" style="left:502.0px;top:26.1px">2</div>
<div class="lg" style="left:502.0px;top:49.9px">1</div>
<div class="lg" style="left:502.0px;top:73.5px">0</div>
<div class="lg" style="left:500.6px;top:97.0px">−1</div>
<div class="lg" style="left:500.6px;top:120.9px">−2</div>
<div class="lg" style="left:500.6px;top:143.9px">−3</div>
<div style="position:absolute;left:488.2px;top:363.4px;width:9.9px;height:156px;background:linear-gradient(rgb(224,16,18) 0%,rgb(225,32,34) 5.5%,rgb(228,80,84) 18%,rgb(231,110,115) 25%,rgb(236,160,162) 36%,rgb(243,205,205) 44%,rgb(250,235,235) 48%,#fff 50%,#fff 51.5%,rgb(230,230,252) 55%,rgb(180,180,246) 63%,rgb(120,120,242) 73%,rgb(70,70,240) 82%,rgb(35,35,238) 92%,rgb(18,18,236) 100%)"></div>
<div class="lg" style="left:500.3px;top:367.6px">2</div>
<div class="lg" style="left:500.3px;top:397.9px">1</div>
<div class="lg" style="left:500.3px;top:427.3px">0</div>
<div class="lg" style="left:499.6px;top:457.8px">−1</div>
<div class="lg" style="left:499.6px;top:487.7px">−2</div>
<div class="bar" style="left:79.4px;top:294.3px;width:74.4px;height:4px"></div>
<div class="bar" style="left:158.7px;top:294.3px;width:74.5px;height:4px"></div>
<div class="bar" style="left:240.2px;top:294.3px;width:73.6px;height:4px"></div>
<div class="bar" style="left:321.0px;top:294.3px;width:73.0px;height:4px"></div>
<div class="bar" style="left:402.7px;top:294.3px;width:74.8px;height:4px"></div>
<div class="bar" style="left:78.0px;top:763.6px;width:91.5px;height:3.6px"></div>
<div class="bar" style="left:180.4px;top:763.6px;width:91.0px;height:3.6px"></div>
<div class="bar" style="left:280.7px;top:763.6px;width:91.8px;height:3.6px"></div>
<div class="bar" style="left:382.0px;top:763.6px;width:91.0px;height:3.6px"></div>
<div class="t" style="left:117.7px;top:302.9px;font-size:18px;width:0;display:flex;justify-content:center"><span style="display:inline-block;transform:scaleX(1.035)">Pro E</span></div>
<div class="t" style="left:196.3px;top:302.9px;font-size:18px;width:0;display:flex;justify-content:center"><span style="display:inline-block;transform:scaleX(1.035)">Early</span></div>
<div class="t" style="left:196.3px;top:322.7px;font-size:18px;width:0;display:flex;justify-content:center"><span style="display:inline-block;transform:scaleX(1.035)">Baso</span></div>
<div class="t" style="left:276.9px;top:302.9px;font-size:18px;width:0;display:flex;justify-content:center"><span style="display:inline-block;transform:scaleX(1.035)">Late</span></div>
<div class="t" style="left:276.9px;top:322.7px;font-size:18px;width:0;display:flex;justify-content:center"><span style="display:inline-block;transform:scaleX(1.035)">Baso</span></div>
<div class="t" style="left:359.6px;top:302.9px;font-size:18px;width:0;display:flex;justify-content:center"><span style="display:inline-block;transform:scaleX(1.035)">Poly</span></div>
<div class="t" style="left:440.7px;top:302.9px;font-size:18px;width:0;display:flex;justify-content:center"><span style="display:inline-block;transform:scaleX(1.035)">Ortho</span></div>
<div class="t" style="left:120.8px;top:769.0px;font-size:18px;width:0;display:flex;justify-content:center"><span style="display:inline-block;transform:scaleX(1.035)">Pro E</span></div>
<div class="t" style="left:225.0px;top:769.0px;font-size:18px;width:0;display:flex;justify-content:center"><span style="display:inline-block;transform:scaleX(1.035)">Baso</span></div>
<div class="t" style="left:323.4px;top:769.0px;font-size:18px;width:0;display:flex;justify-content:center"><span style="display:inline-block;transform:scaleX(1.035)">Poly</span></div>
<div class="t" style="left:424.4px;top:769.0px;font-size:18px;width:0;display:flex;justify-content:center"><span style="display:inline-block;transform:scaleX(1.035)">Ortho</span></div>
<div class="vl" style="left:86.0px;top:1184.5px">Human ProE</div>
<div class="vl" style="left:130.7px;top:1184.5px">Human EBaso</div>
<div class="vl" style="left:175.4px;top:1184.5px">Human LBaso</div>
<div class="vl" style="left:220.2px;top:1184.5px">Human Poly</div>
<div class="vl" style="left:264.9px;top:1184.5px">Human Ortho</div>
<div class="vl" style="left:309.7px;top:1184.5px">Mouse ProE</div>
<div class="vl" style="left:354.4px;top:1184.5px">Mouse Baso</div>
<div class="vl" style="left:399.1px;top:1184.5px">Mouse Poly</div>
<div class="vl" style="left:443.9px;top:1184.5px">Mouse Ortho</div>
</body></html>
